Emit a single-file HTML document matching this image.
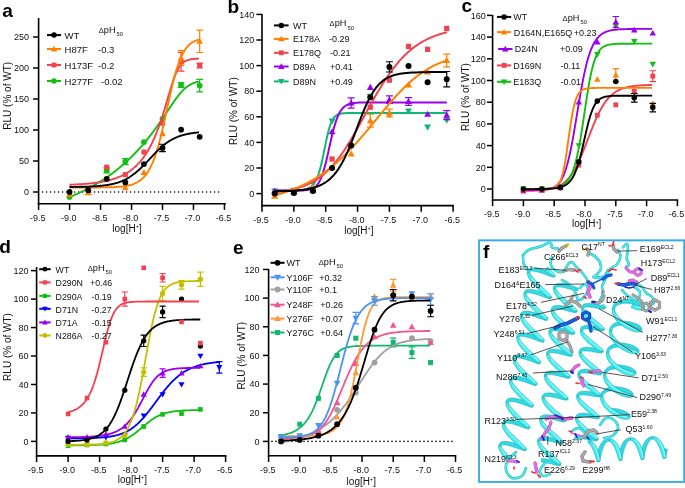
<!DOCTYPE html>
<html><head><meta charset="utf-8"><style>
html,body{margin:0;padding:0;background:#fff;width:685px;height:488px;overflow:hidden}
svg{display:block;filter:blur(0.3px)}
text{font-family:"Liberation Sans",sans-serif;fill:#111}
.p{stroke:none}
.t{font-size:9px}
.y{font-size:10px}
.x{font-size:10px}
.l{}
.p{font-size:19px;font-weight:bold;fill:#000}
.f{}
</style></head><body>
<svg width="685" height="488" viewBox="0 0 685 488">
<rect x="479.1" y="240.4" width="205.2" height="241.5" fill="#fff" stroke="#35aee8" stroke-width="1.6"/>
<path d="M554.4 274.7 L554.1 274.5 L553.5 274.2 L552.5 273.7 L551.3 273.1 L549.9 272.4 L548.3 271.6 L546.5 270.9 L544.5 270.1 L542.5 269.4 L540.5 268.8 L538.5 268.3 L536.5 267.9 L534.6 267.7 L532.9 267.7 L531.3 267.9 L529.9 268.3 L528.6 269.1 L527.8 270.2 L527.4 271.5 L527.2 272.7 L529.8 272.8 L529.7 271.9 L530 271.5 L530.3 271.3 L530.9 271.2 L531.7 271.1 L532.9 271.1 L534.3 271.3 L535.8 271.6 L537.6 272 L539.4 272.6 L541.3 273.1 L543.2 273.8 L545.1 274.4 L546.9 275.1 L548.5 275.7 L550 276.2 L551.3 276.7 L552.3 277 L553.2 277.2 L553.8 277.2Z" fill="#30dbe2" stroke="#1fa3ae" stroke-width="0.5"/>
<path d="M550.8 296.4 L550.5 296.2 L549.8 295.8 L548.9 295.3 L547.7 294.7 L546.2 294 L544.6 293.3 L542.8 292.5 L540.8 291.8 L538.8 291.1 L536.8 290.5 L534.8 290 L532.8 289.6 L531 289.4 L529.2 289.4 L527.6 289.6 L526.2 290 L525 290.8 L524.2 291.9 L523.9 293.1 L526.1 293.8 L526.4 293.3 L526.7 293.1 L527.3 292.9 L528.1 292.8 L529.2 292.8 L530.6 293 L532.2 293.3 L533.9 293.7 L535.7 294.2 L537.6 294.8 L539.6 295.5 L541.4 296.1 L543.2 296.8 L544.9 297.4 L546.3 297.9 L547.6 298.3 L548.7 298.7 L549.6 298.9 L550.1 298.9Z" fill="#30dbe2" stroke="#1fa3ae" stroke-width="0.5"/>
<path d="M546.8 318.2 L547 318.1 L546.9 317.9 L546.2 317.5 L545.2 317 L544 316.4 L542.6 315.7 L540.9 315 L539.1 314.2 L537.2 313.5 L535.1 312.8 L533.1 312.2 L531.1 311.7 L529.1 311.3 L527.3 311.1 L525.5 311.1 L524 311.3 L522.5 311.8 L521.4 312.6 L520.5 313.7 L520.3 314.8 L522.5 315.6 L522.8 315 L523.1 314.8 L523.6 314.6 L524.5 314.5 L525.6 314.5 L526.9 314.7 L528.5 315 L530.2 315.4 L532.1 315.9 L534 316.5 L535.9 317.1 L537.7 317.8 L539.5 318.4 L541.2 319 L542.7 319.6 L544 320 L545.1 320.4 L545.9 320.6 L546.7 320.6 L547.3 320.5Z" fill="#30dbe2" stroke="#1fa3ae" stroke-width="0.5"/>
<path d="M543.3 339.9 L543.5 339.8 L543.2 339.6 L542.6 339.2 L541.6 338.7 L540.4 338.1 L538.9 337.4 L537.2 336.6 L535.4 335.9 L533.5 335.1 L531.5 334.5 L529.4 333.8 L527.4 333.4 L525.5 333 L523.6 332.8 L521.9 332.8 L520.3 333 L518.9 333.5 L517.7 334.3 L516.9 335.5 L516.7 336.6 L518.9 337.3 L519.2 336.7 L519.5 336.5 L520 336.3 L520.8 336.2 L521.9 336.2 L523.3 336.4 L524.8 336.7 L526.5 337.1 L528.4 337.6 L530.3 338.2 L532.2 338.8 L534.1 339.5 L535.8 340.1 L537.5 340.7 L539 341.3 L540.3 341.7 L541.4 342.1 L542.3 342.3 L543.1 342.3 L543.7 342.2Z" fill="#30dbe2" stroke="#1fa3ae" stroke-width="0.5"/>
<path d="M539.8 361.6 L539.9 361.5 L539.6 361.3 L539 360.9 L538 360.4 L536.7 359.7 L535.2 359 L533.5 358.3 L531.7 357.5 L529.8 356.8 L527.8 356.1 L525.7 355.5 L523.7 355 L521.8 354.7 L519.9 354.5 L518.2 354.5 L516.6 354.8 L515.2 355.3 L514.1 356.1 L513.3 357.3 L513.1 358.4 L515.3 359.1 L515.6 358.4 L515.9 358.2 L516.4 358 L517.2 357.9 L518.3 357.9 L519.6 358.1 L521.2 358.4 L522.9 358.8 L524.7 359.3 L526.6 359.8 L528.5 360.5 L530.4 361.1 L532.2 361.8 L533.9 362.4 L535.4 362.9 L536.7 363.4 L537.8 363.7 L538.7 364 L539.5 364.1 L540 363.9Z" fill="#30dbe2" stroke="#1fa3ae" stroke-width="0.5"/>
<path d="M536.2 383.3 L536.3 383.2 L536 383 L535.3 382.6 L534.3 382 L533.1 381.4 L531.6 380.7 L529.9 380 L528 379.2 L526.1 378.5 L524.1 377.8 L522 377.2 L520 376.7 L518.1 376.4 L516.2 376.2 L514.5 376.2 L513 376.5 L511.6 377 L510.5 377.9 L509.7 379.1 L509.5 380.2 L511.8 380.8 L512 380.1 L512.3 379.9 L512.8 379.8 L513.6 379.7 L514.6 379.6 L515.9 379.8 L517.5 380 L519.2 380.4 L521 380.9 L522.9 381.5 L524.8 382.1 L526.7 382.8 L528.5 383.4 L530.2 384.1 L531.7 384.6 L533.1 385.1 L534.2 385.4 L535.1 385.7 L535.8 385.8 L536.4 385.6Z" fill="#30dbe2" stroke="#1fa3ae" stroke-width="0.5"/>
<path d="M532.7 405 L532.7 404.9 L532.4 404.6 L531.7 404.2 L530.7 403.7 L529.4 403.1 L527.9 402.4 L526.2 401.6 L524.3 400.9 L522.4 400.1 L520.4 399.5 L518.3 398.9 L516.3 398.4 L514.4 398.1 L512.6 397.9 L510.9 398 L509.3 398.2 L507.9 398.8 L506.8 399.6 L506.1 400.8 L505.9 402 L508.2 402.5 L508.4 401.9 L508.7 401.6 L509.2 401.5 L509.9 401.4 L511 401.4 L512.3 401.5 L513.8 401.7 L515.5 402.1 L517.3 402.6 L519.2 403.2 L521.1 403.8 L523 404.5 L524.8 405.1 L526.5 405.7 L528.1 406.3 L529.4 406.8 L530.5 407.1 L531.5 407.4 L532.2 407.5 L532.7 407.4Z" fill="#30dbe2" stroke="#1fa3ae" stroke-width="0.5"/>
<path d="M529.2 426.7 L529.2 426.6 L528.8 426.3 L528.1 425.9 L527 425.4 L525.7 424.7 L524.2 424 L522.5 423.3 L520.7 422.5 L518.7 421.8 L516.7 421.1 L514.7 420.6 L512.7 420.1 L510.7 419.8 L508.9 419.6 L507.2 419.7 L505.7 419.9 L504.3 420.5 L503.2 421.4 L502.5 422.6 L502.3 423.8 L504.6 424.3 L504.8 423.6 L505.1 423.4 L505.6 423.2 L506.3 423.1 L507.3 423.1 L508.6 423.2 L510.1 423.4 L511.8 423.8 L513.6 424.3 L515.5 424.9 L517.4 425.5 L519.3 426.1 L521.1 426.8 L522.8 427.4 L524.4 428 L525.8 428.4 L526.9 428.8 L527.8 429.1 L528.6 429.2 L529.1 429.1Z" fill="#30dbe2" stroke="#1fa3ae" stroke-width="0.5"/>
<path d="M525.6 448.4 L525.6 448.3 L525.2 448 L524.4 447.6 L523.4 447.1 L522.1 446.4 L520.5 445.7 L518.8 444.9 L517 444.2 L515 443.5 L513 442.8 L511 442.2 L509 441.8 L507 441.5 L505.2 441.3 L503.5 441.4 L502 441.7 L500.6 442.2 L499.6 443.2 L498.9 444.4 L498.7 445.5 L501.1 446 L501.2 445.3 L501.5 445.1 L502 444.9 L502.7 444.8 L503.7 444.8 L505 444.9 L506.5 445.1 L508.2 445.5 L510 446 L511.8 446.5 L513.8 447.2 L515.6 447.8 L517.5 448.5 L519.2 449.1 L520.7 449.6 L522.1 450.1 L523.3 450.5 L524.2 450.8 L525 450.9 L525.5 450.8Z" fill="#30dbe2" stroke="#1fa3ae" stroke-width="0.5"/>
<path d="M578.4 288.2 L578 288 L577.2 287.7 L576.2 287.3 L574.9 286.8 L573.5 286.3 L571.8 285.7 L570.1 285.1 L568.2 284.6 L566.3 284.2 L564.4 283.8 L562.5 283.6 L560.7 283.4 L559 283.5 L557.4 283.7 L556 284.1 L554.8 284.9 L553.9 285.9 L553.4 287.1 L553.3 288.2 L555.7 288.5 L555.8 287.8 L556.1 287.5 L556.5 287.3 L557.1 287.1 L558 287 L559.1 287 L560.5 287.1 L562 287.3 L563.7 287.6 L565.5 288 L567.3 288.4 L569 288.9 L570.8 289.3 L572.4 289.8 L573.9 290.2 L575.2 290.5 L576.3 290.7 L577.3 290.9 L577.9 290.9Z" fill="#30dbe2" stroke="#1fa3ae" stroke-width="0.5"/>
<path d="M576.1 310.2 L576 310.1 L575.6 309.9 L574.9 309.6 L573.8 309.1 L572.5 308.6 L571.1 308.1 L569.4 307.5 L567.6 307 L565.8 306.5 L563.8 306 L561.9 305.7 L560.1 305.4 L558.3 305.3 L556.6 305.4 L555 305.6 L553.6 306.1 L552.5 306.8 L551.6 307.8 L551.1 309.1 L551 310.2 L553.5 310.4 L553.5 309.7 L553.8 309.4 L554.1 309.2 L554.7 309 L555.6 308.9 L556.7 308.9 L558.1 309 L559.6 309.2 L561.3 309.5 L563 309.8 L564.8 310.3 L566.6 310.7 L568.3 311.2 L570 311.6 L571.5 312 L572.8 312.3 L574 312.6 L574.9 312.7 L575.7 312.8 L576.2 312.6Z" fill="#30dbe2" stroke="#1fa3ae" stroke-width="0.5"/>
<path d="M573.8 332.1 L573.7 332 L573.3 331.7 L572.5 331.4 L571.4 331 L570.1 330.5 L568.6 329.9 L567 329.4 L565.2 328.8 L563.3 328.3 L561.4 327.9 L559.5 327.5 L557.6 327.3 L555.8 327.2 L554.2 327.3 L552.6 327.5 L551.2 328 L550.1 328.8 L549.2 329.8 L548.8 331.1 L548.7 332.2 L551.2 332.4 L551.2 331.6 L551.5 331.3 L551.8 331.1 L552.4 330.9 L553.2 330.8 L554.3 330.8 L555.7 330.9 L557.2 331 L558.8 331.3 L560.6 331.7 L562.4 332.1 L564.2 332.5 L565.9 333 L567.6 333.4 L569.1 333.9 L570.4 334.2 L571.6 334.5 L572.5 334.6 L573.3 334.7 L573.9 334.5Z" fill="#30dbe2" stroke="#1fa3ae" stroke-width="0.5"/>
<path d="M571.6 353.9 L571.4 353.8 L570.9 353.6 L570.1 353.3 L569.1 352.8 L567.7 352.3 L566.2 351.8 L564.5 351.2 L562.7 350.7 L560.9 350.2 L558.9 349.7 L557 349.4 L555.2 349.2 L553.4 349.1 L551.7 349.2 L550.2 349.4 L548.9 349.9 L547.7 350.7 L546.9 351.8 L546.5 353.1 L546.4 354.2 L548.9 354.3 L548.9 353.5 L549.1 353.2 L549.5 353 L550 352.8 L550.8 352.7 L551.9 352.7 L553.3 352.7 L554.8 352.9 L556.4 353.2 L558.2 353.5 L559.9 353.9 L561.7 354.4 L563.5 354.8 L565.1 355.3 L566.7 355.7 L568 356 L569.2 356.3 L570.2 356.5 L571 356.5 L571.5 356.4Z" fill="#30dbe2" stroke="#1fa3ae" stroke-width="0.5"/>
<path d="M569.3 375.8 L569.1 375.7 L568.6 375.5 L567.8 375.1 L566.7 374.7 L565.3 374.1 L563.8 373.6 L562.1 373 L560.3 372.5 L558.4 372 L556.5 371.6 L554.6 371.2 L552.7 371 L551 371 L549.3 371.1 L547.8 371.4 L546.5 371.9 L545.3 372.7 L544.6 373.8 L544.2 375.1 L544.1 376.2 L546.7 376.2 L546.6 375.4 L546.8 375.1 L547.2 374.9 L547.7 374.7 L548.5 374.6 L549.5 374.5 L550.9 374.6 L552.3 374.8 L554 375 L555.7 375.4 L557.5 375.8 L559.3 376.2 L561 376.7 L562.7 377.1 L564.3 377.5 L565.6 377.9 L566.8 378.2 L567.8 378.4 L568.6 378.4 L569.2 378.3Z" fill="#30dbe2" stroke="#1fa3ae" stroke-width="0.5"/>
<path d="M567 397.7 L566.8 397.6 L566.3 397.3 L565.4 396.9 L564.3 396.5 L562.9 396 L561.4 395.4 L559.7 394.9 L557.9 394.3 L556 393.8 L554.1 393.4 L552.1 393.1 L550.3 392.9 L548.5 392.9 L546.9 393 L545.4 393.3 L544.1 393.8 L543 394.6 L542.2 395.8 L541.9 397.1 L541.9 398.2 L544.4 398.2 L544.3 397.4 L544.5 397 L544.8 396.8 L545.3 396.6 L546.1 396.5 L547.2 396.4 L548.4 396.5 L549.9 396.6 L551.6 396.9 L553.3 397.2 L555.1 397.6 L556.9 398.1 L558.6 398.5 L560.3 399 L561.8 399.4 L563.2 399.8 L564.5 400 L565.5 400.2 L566.3 400.3 L566.9 400.2Z" fill="#30dbe2" stroke="#1fa3ae" stroke-width="0.5"/>
<path d="M564.8 419.6 L564.5 419.4 L563.9 419.2 L563 418.8 L561.9 418.3 L560.5 417.8 L559 417.3 L557.2 416.7 L555.4 416.2 L553.5 415.7 L551.6 415.3 L549.7 415 L547.9 414.8 L546.1 414.7 L544.5 414.9 L543 415.2 L541.7 415.8 L540.6 416.6 L539.9 417.8 L539.7 418.9 L542 419.5 L542.2 418.9 L542.5 418.7 L543 418.5 L543.8 418.4 L544.8 418.3 L546 418.3 L547.5 418.5 L549.1 418.7 L550.9 419.1 L552.6 419.5 L554.4 419.9 L556.2 420.4 L557.9 420.8 L559.4 421.2 L560.8 421.6 L562.1 421.9 L563.1 422.1 L563.9 422.2 L564.5 422.1Z" fill="#30dbe2" stroke="#1fa3ae" stroke-width="0.5"/>
<path d="M562 441.6 L562.3 441.4 L562.2 441.3 L561.6 441 L560.7 440.6 L559.5 440.2 L558.1 439.6 L556.5 439.1 L554.8 438.5 L553 438 L551.1 437.5 L549.2 437.1 L547.3 436.8 L545.4 436.6 L543.7 436.6 L542.1 436.8 L540.6 437.1 L539.3 437.7 L538.2 438.6 L537.6 439.8 L537.4 440.9 L539.7 441.4 L539.9 440.8 L540.2 440.6 L540.7 440.4 L541.4 440.2 L542.4 440.2 L543.6 440.2 L545.1 440.4 L546.7 440.6 L548.4 440.9 L550.2 441.3 L552 441.8 L553.8 442.2 L555.4 442.7 L557 443.1 L558.5 443.5 L559.7 443.8 L560.7 444 L561.6 444.1 L562.4 444 L563 443.7Z" fill="#30dbe2" stroke="#1fa3ae" stroke-width="0.5"/>
<path d="M559.8 463.4 L560 463.3 L559.8 463.1 L559.2 462.9 L558.3 462.5 L557.1 462 L555.7 461.5 L554.1 460.9 L552.4 460.4 L550.5 459.8 L548.6 459.4 L546.7 459 L544.8 458.7 L543 458.5 L541.3 458.5 L541.2 462.1 L542.7 462.2 L544.3 462.5 L546 462.8 L547.8 463.2 L549.6 463.6 L551.3 464.1 L553 464.5 L554.6 464.9 L556.1 465.3 L557.3 465.6 L558.4 465.8 L559.2 465.9 L560 465.9 L560.6 465.6Z" fill="#30dbe2" stroke="#1fa3ae" stroke-width="0.5"/>
<path d="M604.3 306.4 L604.2 306.4 L603.8 306.2 L603.1 306 L602.1 305.6 L600.9 305.3 L599.4 304.9 L597.9 304.5 L596.2 304.1 L594.5 303.8 L592.7 303.5 L590.9 303.4 L589.2 303.3 L587.5 303.4 L586 303.6 L584.6 303.9 L583.4 304.5 L582.3 305.4 L581.6 306.5 L581.4 307.7 L581.3 308.8 L583.8 308.8 L583.7 308 L584 307.7 L584.3 307.5 L584.8 307.3 L585.5 307.1 L586.5 307 L587.7 307 L589.1 307 L590.6 307.2 L592.2 307.4 L593.8 307.6 L595.5 307.9 L597.1 308.2 L598.6 308.5 L600.1 308.8 L601.3 309 L602.4 309.1 L603.4 309.2 L604.2 309.1 L604.7 308.9Z" fill="#30dbe2" stroke="#1fa3ae" stroke-width="0.5"/>
<path d="M603.1 328.4 L603 328.3 L602.6 328.2 L601.9 327.9 L600.9 327.6 L599.6 327.2 L598.2 326.9 L596.7 326.5 L595 326.1 L593.2 325.8 L591.5 325.5 L589.7 325.3 L588 325.3 L586.3 325.3 L584.8 325.5 L583.4 325.9 L582.1 326.5 L581.1 327.3 L580.4 328.4 L580.2 329.7 L580.1 330.8 L582.6 330.8 L582.5 330 L582.8 329.7 L583.1 329.5 L583.6 329.3 L584.3 329.1 L585.3 329 L586.5 329 L587.9 329 L589.4 329.1 L591 329.4 L592.6 329.6 L594.3 329.9 L595.9 330.2 L597.4 330.5 L598.8 330.7 L600.1 330.9 L601.2 331.1 L602.2 331.1 L603 331.1 L603.5 330.9Z" fill="#30dbe2" stroke="#1fa3ae" stroke-width="0.5"/>
<path d="M601.9 350.4 L601.8 350.3 L601.4 350.1 L600.6 349.9 L599.6 349.6 L598.4 349.2 L597 348.8 L595.4 348.4 L593.8 348 L592 347.7 L590.2 347.5 L588.5 347.3 L586.7 347.2 L585.1 347.3 L583.6 347.5 L582.2 347.9 L580.9 348.5 L579.9 349.3 L579.2 350.4 L578.9 351.7 L578.9 352.8 L581.4 352.7 L581.3 352 L581.6 351.6 L581.9 351.4 L582.4 351.2 L583.1 351.1 L584.1 350.9 L585.3 350.9 L586.6 351 L588.1 351.1 L589.7 351.3 L591.4 351.6 L593 351.9 L594.7 352.1 L596.2 352.4 L597.6 352.7 L598.9 352.9 L600 353 L600.9 353.1 L601.7 353 L602.3 352.9Z" fill="#30dbe2" stroke="#1fa3ae" stroke-width="0.5"/>
<path d="M600.7 372.3 L600.6 372.3 L600.2 372.1 L599.4 371.9 L598.4 371.5 L597.2 371.2 L595.8 370.8 L594.2 370.4 L592.5 370 L590.8 369.7 L589 369.4 L587.3 369.3 L585.5 369.2 L583.9 369.3 L582.3 369.5 L580.9 369.8 L579.7 370.4 L578.7 371.3 L578 372.4 L577.7 373.6 L577.7 374.7 L580.2 374.7 L580.1 373.9 L580.3 373.6 L580.7 373.4 L581.1 373.2 L581.9 373 L582.8 372.9 L584 372.9 L585.4 372.9 L586.9 373.1 L588.5 373.3 L590.2 373.5 L591.8 373.8 L593.4 374.1 L595 374.4 L596.4 374.6 L597.7 374.9 L598.8 375 L599.7 375.1 L600.5 375 L601.1 374.8Z" fill="#30dbe2" stroke="#1fa3ae" stroke-width="0.5"/>
<path d="M599.5 394.3 L599.3 394.2 L598.9 394.1 L598.2 393.8 L597.2 393.5 L596 393.1 L594.6 392.7 L593 392.4 L591.3 392 L589.6 391.7 L587.8 391.4 L586 391.2 L584.3 391.2 L582.7 391.2 L581.1 391.4 L579.7 391.8 L578.5 392.4 L577.5 393.3 L576.8 394.4 L576.5 395.6 L576.5 396.7 L579 396.7 L578.9 395.9 L579.1 395.6 L579.4 395.4 L579.9 395.2 L580.7 395 L581.6 394.9 L582.8 394.9 L584.2 394.9 L585.7 395 L587.3 395.2 L588.9 395.5 L590.6 395.8 L592.2 396.1 L593.8 396.4 L595.2 396.6 L596.5 396.8 L597.6 397 L598.5 397 L599.3 397 L599.9 396.8Z" fill="#30dbe2" stroke="#1fa3ae" stroke-width="0.5"/>
<path d="M598.3 416.3 L598.1 416.2 L597.7 416 L597 415.8 L596 415.5 L594.8 415.1 L593.3 414.7 L591.8 414.3 L590.1 413.9 L588.4 413.6 L586.6 413.4 L584.8 413.2 L583.1 413.1 L581.4 413.2 L579.9 413.4 L578.5 413.8 L577.3 414.4 L576.3 415.2 L575.6 416.3 L575.3 417.6 L575.3 418.7 L577.8 418.6 L577.7 417.9 L577.9 417.5 L578.2 417.3 L578.7 417.1 L579.4 417 L580.4 416.8 L581.6 416.8 L583 416.9 L584.5 417 L586.1 417.2 L587.7 417.5 L589.4 417.7 L591 418 L592.5 418.3 L594 418.6 L595.2 418.8 L596.4 418.9 L597.3 419 L598.1 418.9 L598.6 418.8Z" fill="#30dbe2" stroke="#1fa3ae" stroke-width="0.5"/>
<path d="M597.1 438.2 L596.9 438.1 L596.5 438 L595.8 437.7 L594.8 437.4 L593.5 437.1 L592.1 436.7 L590.6 436.3 L588.9 435.9 L587.1 435.6 L585.4 435.3 L583.6 435.2 L581.9 435.1 L580.2 435.2 L578.7 435.4 L577.3 435.8 L576.1 436.4 L575 437.2 L574.3 438.3 L574.1 439.4 L576.4 440.1 L576.7 439.5 L577 439.3 L577.5 439.1 L578.2 438.9 L579.2 438.8 L580.4 438.8 L581.7 438.8 L583.3 439 L584.9 439.2 L586.5 439.4 L588.2 439.7 L589.8 440 L591.3 440.3 L592.7 440.5 L594 440.8 L595.1 440.9 L596.1 441 L596.9 440.9 L597.4 440.7Z" fill="#30dbe2" stroke="#1fa3ae" stroke-width="0.5"/>
<path d="M645 307.2 L644.8 306.3 L644.1 305.3 L643.1 304.3 L641.7 303.4 L640.1 302.5 L638.3 301.6 L636.2 300.9 L633.9 300.3 L631.5 299.8 L629 299.5 L626.5 299.4 L624.1 299.6 L621.7 299.9 L619.5 300.5 L617.5 301.4 L615.7 302.5 L614.2 303.9 L613.1 305.5 L612.5 307.2 L612.2 309 L614.6 309.4 L614.9 308 L615.5 306.9 L616.4 305.9 L617.5 305.1 L618.9 304.5 L620.5 303.9 L622.4 303.6 L624.4 303.3 L626.5 303.3 L628.7 303.4 L630.9 303.7 L633.1 304 L635.1 304.5 L637 305 L638.7 305.6 L640.1 306.3 L641.3 306.8 L642.1 307.3 L642.5 307.7 L642.7 308Z" fill="#30dbe2" stroke="#1fa3ae" stroke-width="0.5"/>
<path d="M642.1 328.9 L641.8 328.1 L641.1 327 L640.1 326.1 L638.8 325.1 L637.2 324.2 L635.3 323.4 L633.2 322.7 L630.9 322.1 L628.5 321.6 L626.1 321.3 L623.6 321.2 L621.1 321.4 L618.7 321.7 L616.5 322.3 L614.5 323.2 L612.7 324.3 L611.3 325.7 L610.2 327.3 L609.6 329.1 L609.3 330.8 L611.7 331.2 L612 329.8 L612.6 328.7 L613.4 327.8 L614.6 327 L616 326.3 L617.6 325.7 L619.4 325.4 L621.4 325.2 L623.6 325.1 L625.8 325.2 L628 325.5 L630.1 325.8 L632.2 326.3 L634.1 326.8 L635.8 327.4 L637.2 328 L638.3 328.6 L639.1 329.1 L639.6 329.5 L639.8 329.8Z" fill="#30dbe2" stroke="#1fa3ae" stroke-width="0.5"/>
<path d="M639.2 350.7 L638.9 349.9 L638.2 348.8 L637.2 347.9 L635.9 346.9 L634.2 346 L632.4 345.2 L630.3 344.5 L628 343.9 L625.6 343.4 L623.1 343.1 L620.6 343 L618.2 343.2 L615.8 343.6 L613.6 344.2 L611.6 345 L609.8 346.2 L608.4 347.5 L607.3 349.1 L606.6 350.9 L606.4 352.6 L608.8 353.1 L609 351.6 L609.7 350.5 L610.5 349.6 L611.6 348.8 L613 348.1 L614.6 347.6 L616.5 347.2 L618.5 347 L620.6 346.9 L622.8 347 L625 347.3 L627.2 347.6 L629.2 348.1 L631.1 348.6 L632.8 349.2 L634.3 349.8 L635.4 350.4 L636.2 350.9 L636.7 351.3 L636.9 351.6Z" fill="#30dbe2" stroke="#1fa3ae" stroke-width="0.5"/>
<path d="M636.2 372.5 L636 371.6 L635.3 370.6 L634.3 369.7 L632.9 368.7 L631.3 367.8 L629.4 367 L627.3 366.3 L625 365.7 L622.6 365.2 L620.1 364.9 L617.7 364.8 L615.2 365 L612.8 365.4 L610.6 366 L608.6 366.9 L606.9 368 L605.4 369.4 L604.4 371 L603.7 372.8 L603.5 374.5 L605.9 374.9 L606.1 373.5 L606.7 372.4 L607.6 371.4 L608.7 370.6 L610.1 369.9 L611.7 369.4 L613.5 369 L615.5 368.8 L617.7 368.7 L619.9 368.8 L622.1 369.1 L624.2 369.4 L626.3 369.9 L628.2 370.4 L629.9 371 L631.3 371.6 L632.5 372.2 L633.3 372.7 L633.8 373.1 L634 373.4Z" fill="#30dbe2" stroke="#1fa3ae" stroke-width="0.5"/>
<path d="M633.3 394.3 L633.1 393.4 L632.4 392.4 L631.3 391.4 L630 390.5 L628.3 389.6 L626.5 388.8 L624.3 388.1 L622.1 387.5 L619.7 387 L617.2 386.7 L614.7 386.7 L612.2 386.8 L609.9 387.2 L607.7 387.8 L605.7 388.7 L603.9 389.8 L602.5 391.2 L601.4 392.8 L600.8 394.6 L600.6 396.3 L603 396.7 L603.2 395.3 L603.8 394.2 L604.7 393.2 L605.8 392.4 L607.1 391.7 L608.8 391.2 L610.6 390.8 L612.6 390.6 L614.7 390.5 L616.9 390.6 L619.1 390.9 L621.3 391.2 L623.3 391.7 L625.2 392.2 L626.9 392.8 L628.4 393.4 L629.6 394 L630.4 394.5 L630.8 394.9 L631.1 395.2Z" fill="#30dbe2" stroke="#1fa3ae" stroke-width="0.5"/>
<path d="M630.4 416.1 L630.2 415.2 L629.4 414.2 L628.4 413.2 L627 412.3 L625.4 411.4 L623.5 410.6 L621.4 409.8 L619.1 409.2 L616.7 408.8 L614.2 408.5 L611.8 408.5 L611.7 412.3 L614 412.4 L616.2 412.7 L618.3 413 L620.4 413.5 L622.3 414 L624 414.6 L625.5 415.2 L626.6 415.8 L627.5 416.3 L627.9 416.7 L628.2 417Z" fill="#30dbe2" stroke="#1fa3ae" stroke-width="0.5"/>
<path d="M599.8 461.4 L599.9 461.1 L600 460.5 L600.2 459.7 L600.3 458.7 L600.5 457.5 L600.8 456.1 L601.1 454.7 L601.4 453.1 L601.9 451.6 L602.3 450 L602.9 448.4 L603.4 447 L604.1 445.6 L604.8 444.4 L605.5 443.4 L606.2 442.5 L606.9 441.9 L607.7 441.4 L608.5 441.2 L609.4 441.3 L609.6 438.8 L608.3 438.8 L606.9 438.9 L605.6 439.4 L604.3 440.1 L603 441.2 L601.9 442.4 L600.9 443.8 L600.1 445.4 L599.3 447 L598.6 448.8 L598.1 450.5 L597.7 452.3 L597.3 454 L597.1 455.6 L597 457.1 L596.9 458.4 L596.9 459.5 L597 460.4 L597.1 461 L597.2 461.4Z" fill="#30dbe2" stroke="#1fa3ae" stroke-width="0.5"/>
<path d="M621.6 460.4 L621.8 460.3 L621.9 459.9 L622 459.3 L622.2 458.5 L622.3 457.5 L622.5 456.2 L622.8 454.9 L623.1 453.4 L623.5 451.9 L623.9 450.3 L624.4 448.7 L624.9 447.2 L625.5 445.7 L626.1 444.4 L626.8 443.2 L627.5 442.2 L628.3 441.3 L629 440.7 L629.7 440.3 L630.7 440.1 L630.3 437.7 L629.1 437.8 L627.7 438.2 L626.4 439 L625.2 439.9 L624 441.1 L623 442.5 L622.1 444.1 L621.4 445.7 L620.7 447.5 L620.1 449.2 L619.7 451 L619.3 452.7 L619.1 454.3 L619 455.8 L618.9 457.1 L618.9 458.3 L619 459.2 L619.1 459.9 L619.2 460.3 L619.3 460.4Z" fill="#30dbe2" stroke="#1fa3ae" stroke-width="0.5"/>
<path d="M643.6 459.3 L643.8 459.2 L643.9 458.8 L644 458.1 L644.2 457.3 L644.3 456.2 L644.6 455 L644.8 453.6 L645.1 452.1 L645.5 450.6 L645.9 449 L646.4 447.4 L646.9 445.9 L647.5 444.4 L648.2 443.1 L648.9 442 L649.6 441 L650.3 440.2 L651.1 439.6 L651.8 439.2 L652.8 439 L652.5 436.6 L651.2 436.7 L649.8 437.1 L648.5 437.8 L647.3 438.7 L646.2 439.9 L645.1 441.3 L644.2 442.8 L643.4 444.4 L642.7 446.2 L642.2 447.9 L641.7 449.7 L641.4 451.4 L641.1 453 L641 454.5 L640.9 455.9 L640.9 457.1 L640.9 458 L641 458.7 L641.1 459.1 L641.3 459.3Z" fill="#30dbe2" stroke="#1fa3ae" stroke-width="0.5"/>
<path d="M665.6 458.2 L665.7 458 L665.9 457.6 L666 457 L666.2 456.1 L666.3 455 L666.6 453.8 L666.8 452.4 L667.1 450.9 L667.5 449.3 L663.7 448.4 L663.4 450.1 L663.1 451.8 L662.9 453.3 L662.9 454.7 L662.9 455.8 L662.9 456.8 L663 457.5 L663.1 458 L663.2 458.2Z" fill="#30dbe2" stroke="#1fa3ae" stroke-width="0.5"/>
<path d="M544.7 270.3 L546.4 271.7 L548.1 273 L549.5 274.1 L550.8 275.1 L551.9 275.8 L552.6 276.2 L553.1 276.5 L553.1 275.9 L553.6 274.8 L554.6 277.1 L555.3 275.9 L555.1 274.8 L554.6 274.1 L554 273.3 L553.1 272.4 L552 271.3 L550.7 270 L549.2 268.6 L547.6 267.1Z" fill="#3ef0f2" stroke="#1fa3ae" stroke-width="0.6"/><path d="M549.8 271 L551.2 272.2 L552.4 273.2 L553.3 274.1 L554 274.8 L554.4 275.3" stroke="#a8f6f8" stroke-width="1.1" fill="none" stroke-linecap="round" opacity="0.85"/>
<path d="M527.3 273 L527.4 274.4 L527.9 276 L528.7 277.7 L529.7 279.5 L531 281.3 L532.4 283.2 L534 285.1 L535.8 287 L537.6 288.8 L539.4 290.5 L541.2 292.1 L542.9 293.5 L544.6 294.8 L546 295.9 L547.3 296.8 L548.3 297.5 L549.1 298 L549.5 298.2 L549.5 297.5 L550.1 296.4 L550.9 298.9 L551.7 297.7 L551.5 296.5 L551.1 295.9 L550.4 295.1 L549.6 294.1 L548.5 293 L547.2 291.8 L545.7 290.4 L544.1 288.9 L542.4 287.3 L540.6 285.6 L538.9 283.9 L537.2 282.2 L535.6 280.5 L534.1 278.9 L532.8 277.3 L531.7 275.9 L530.8 274.6 L530.2 273.5 L529.8 272.4Z" fill="#3ef0f2" stroke="#1fa3ae" stroke-width="0.6"/><path d="M531.8 278 L533.1 279.6 L534.6 281.4 L536.2 283.1 L537.9 284.9 L539.7 286.6 L541.4 288.3 L543.2 289.9 L544.8 291.4 L546.3 292.7 L547.7 294 L548.8 295 L549.8 295.9" stroke="#a8f6f8" stroke-width="1.1" fill="none" stroke-linecap="round" opacity="0.85"/>
<path d="M523.9 293.4 L523.7 294.6 L523.9 296.2 L524.4 297.8 L525.2 299.5 L526.2 301.3 L527.5 303.1 L528.9 305 L530.6 306.9 L532.3 308.8 L534.1 310.6 L535.9 312.3 L537.7 313.8 L539.4 315.3 L541.1 316.6 L542.5 317.7 L543.8 318.6 L544.8 319.2 L545.5 319.7 L545.9 319.9 L546.1 319.8 L548 318.8 L547.9 318.3 L547.5 317.6 L546.9 316.8 L546 315.9 L545 314.8 L543.7 313.6 L542.2 312.2 L540.6 310.7 L538.9 309.1 L537.1 307.4 L535.4 305.7 L533.7 304 L532.1 302.3 L530.6 300.6 L529.3 299.1 L528.1 297.7 L527.3 296.4 L526.6 295.2 L526.2 294.3 L526.1 293.5Z" fill="#3ef0f2" stroke="#1fa3ae" stroke-width="0.6"/><path d="M527.2 298.2 L528.3 299.8 L529.6 301.4 L531.1 303.2 L532.7 304.9 L534.4 306.7 L536.2 308.4 L537.9 310.1 L539.7 311.7 L541.3 313.2 L542.8 314.5 L544.2 315.7 L545.3 316.8" stroke="#a8f6f8" stroke-width="1.1" fill="none" stroke-linecap="round" opacity="0.85"/>
<path d="M520.3 315.2 L520.1 316.4 L520.3 317.9 L520.8 319.6 L521.6 321.3 L522.7 323.1 L524 324.9 L525.4 326.8 L527.1 328.7 L528.8 330.6 L530.6 332.4 L532.4 334.1 L534.2 335.6 L536 337.1 L537.6 338.3 L539 339.4 L540.3 340.3 L541.3 341 L542 341.4 L542.4 341.6 L542.5 341.5 L544.5 340.6 L544.4 340 L544 339.4 L543.4 338.6 L542.5 337.7 L541.4 336.6 L540.2 335.3 L538.7 334 L537.1 332.4 L535.4 330.9 L533.7 329.2 L531.9 327.5 L530.2 325.8 L528.6 324.1 L527.1 322.4 L525.7 320.9 L524.6 319.4 L523.7 318.1 L523.1 317 L522.7 316.1 L522.5 315.2Z" fill="#3ef0f2" stroke="#1fa3ae" stroke-width="0.6"/><path d="M523.7 320 L524.8 321.6 L526.1 323.2 L527.6 325 L529.2 326.7 L530.9 328.5 L532.7 330.2 L534.5 331.9 L536.2 333.5 L537.8 335 L539.3 336.3 L540.7 337.5 L541.8 338.5" stroke="#a8f6f8" stroke-width="1.1" fill="none" stroke-linecap="round" opacity="0.85"/>
<path d="M516.7 337 L516.5 338.2 L516.8 339.7 L517.3 341.4 L518.1 343.1 L519.2 344.9 L520.5 346.8 L521.9 348.6 L523.6 350.5 L525.3 352.4 L527.1 354.2 L529 355.9 L530.8 357.4 L532.5 358.9 L534.1 360.1 L535.5 361.2 L536.7 362.1 L537.7 362.7 L538.4 363.1 L538.8 363.3 L538.8 363.2 L540.9 362.3 L540.8 361.8 L540.4 361.1 L539.8 360.4 L539 359.4 L537.9 358.4 L536.6 357.1 L535.2 355.7 L533.6 354.2 L531.9 352.6 L530.2 351 L528.4 349.3 L526.7 347.6 L525.1 345.9 L523.6 344.2 L522.2 342.7 L521.1 341.2 L520.2 339.9 L519.5 338.8 L519.1 337.8 L518.9 336.9Z" fill="#3ef0f2" stroke="#1fa3ae" stroke-width="0.6"/><path d="M520.1 341.8 L521.3 343.4 L522.6 345 L524.1 346.8 L525.7 348.5 L527.4 350.3 L529.2 352 L531 353.7 L532.7 355.3 L534.3 356.7 L535.8 358.1 L537.1 359.3 L538.3 360.3" stroke="#a8f6f8" stroke-width="1.1" fill="none" stroke-linecap="round" opacity="0.85"/>
<path d="M513.1 358.8 L513 360 L513.2 361.5 L513.7 363.2 L514.6 364.9 L515.7 366.7 L517 368.6 L518.5 370.5 L520.1 372.3 L521.8 374.2 L523.7 376 L525.5 377.7 L527.3 379.2 L529 380.6 L530.6 381.9 L532 382.9 L533.2 383.8 L534.2 384.5 L534.9 384.9 L535.2 385 L535.2 384.8 L537.4 384.1 L537.2 383.5 L536.9 382.9 L536.3 382.1 L535.5 381.2 L534.4 380.1 L533.1 378.9 L531.7 377.5 L530.1 376 L528.4 374.4 L526.7 372.8 L524.9 371.1 L523.2 369.4 L521.6 367.7 L520.1 366 L518.7 364.5 L517.6 363 L516.6 361.7 L516 360.5 L515.5 359.6 L515.3 358.7Z" fill="#3ef0f2" stroke="#1fa3ae" stroke-width="0.6"/><path d="M516.6 363.6 L517.7 365.2 L519.1 366.8 L520.6 368.6 L522.2 370.3 L524 372.1 L525.7 373.8 L527.5 375.5 L529.2 377.1 L530.8 378.5 L532.3 379.9 L533.6 381 L534.7 382" stroke="#a8f6f8" stroke-width="1.1" fill="none" stroke-linecap="round" opacity="0.85"/>
<path d="M509.5 380.6 L509.4 381.8 L509.6 383.3 L510.2 385 L511 386.7 L512.1 388.5 L513.5 390.4 L515 392.3 L516.6 394.1 L518.4 396 L520.2 397.8 L522 399.4 L523.8 401 L525.5 402.4 L527.1 403.7 L528.5 404.7 L529.7 405.6 L530.7 406.2 L531.3 406.6 L531.7 406.7 L531.6 406.5 L533.8 405.9 L533.7 405.3 L533.3 404.6 L532.7 403.9 L531.9 403 L530.9 401.9 L529.6 400.7 L528.2 399.3 L526.6 397.8 L524.9 396.2 L523.2 394.6 L521.5 392.9 L519.7 391.2 L518.1 389.5 L516.6 387.8 L515.2 386.3 L514 384.8 L513.1 383.5 L512.4 382.3 L512 381.3 L511.8 380.4Z" fill="#3ef0f2" stroke="#1fa3ae" stroke-width="0.6"/><path d="M513.1 385.4 L514.2 387 L515.6 388.6 L517.1 390.4 L518.7 392.1 L520.5 393.9 L522.2 395.6 L524 397.3 L525.7 398.8 L527.3 400.3 L528.8 401.6 L530.1 402.8 L531.2 403.8" stroke="#a8f6f8" stroke-width="1.1" fill="none" stroke-linecap="round" opacity="0.85"/>
<path d="M505.9 402.3 L505.8 403.6 L506.1 405.1 L506.7 406.8 L507.5 408.5 L508.6 410.3 L510 412.2 L511.5 414.1 L513.1 416 L514.9 417.8 L516.7 419.6 L518.5 421.2 L520.3 422.8 L522 424.2 L523.6 425.4 L525 426.5 L526.2 427.3 L527.1 427.9 L527.8 428.3 L528.1 428.4 L528 428.1 L530.3 427.7 L530.1 427 L529.8 426.3 L529.2 425.6 L528.4 424.7 L527.4 423.7 L526.1 422.4 L524.7 421.1 L523.1 419.6 L521.5 418 L519.7 416.4 L518 414.7 L516.3 413 L514.6 411.3 L513.1 409.6 L511.7 408 L510.5 406.6 L509.6 405.2 L508.9 404.1 L508.4 403.1 L508.2 402.2Z" fill="#3ef0f2" stroke="#1fa3ae" stroke-width="0.6"/><path d="M509.6 407.2 L510.7 408.8 L512.1 410.4 L513.6 412.2 L515.3 413.9 L517 415.7 L518.8 417.4 L520.5 419.1 L522.2 420.6 L523.8 422.1 L525.3 423.4 L526.6 424.6 L527.7 425.5" stroke="#a8f6f8" stroke-width="1.1" fill="none" stroke-linecap="round" opacity="0.85"/>
<path d="M502.3 424.1 L502.2 425.4 L502.5 426.9 L503.1 428.6 L504 430.3 L505.1 432.1 L506.5 434 L508 435.9 L509.6 437.8 L511.4 439.6 L513.2 441.4 L515 443 L516.8 444.6 L518.5 446 L520.1 447.2 L521.5 448.2 L522.7 449 L523.6 449.7 L524.2 450 L524.5 450.1 L524.4 449.7 L526.7 449.5 L526.6 448.8 L526.2 448.1 L525.7 447.4 L524.9 446.5 L523.9 445.4 L522.6 444.2 L521.2 442.9 L519.6 441.4 L518 439.8 L516.2 438.2 L514.5 436.5 L512.8 434.8 L511.1 433.1 L509.6 431.4 L508.2 429.8 L507 428.4 L506 427 L505.3 425.8 L504.8 424.9 L504.6 423.9Z" fill="#3ef0f2" stroke="#1fa3ae" stroke-width="0.6"/><path d="M506 429 L507.2 430.6 L508.6 432.2 L510.1 434 L511.8 435.7 L513.5 437.5 L515.3 439.2 L517 440.9 L518.7 442.4 L520.3 443.9 L521.8 445.2 L523.1 446.3 L524.2 447.3" stroke="#a8f6f8" stroke-width="1.1" fill="none" stroke-linecap="round" opacity="0.85"/>
<path d="M498.7 445.9 L498.7 447.2 L499 448.7 L499.6 450.4 L500.5 452.1 L501.6 453.9 L503 455.8 L504.5 457.7 L506.2 459.6 L507.9 461.4 L511 458.3 L509.3 456.6 L507.6 454.9 L506.1 453.2 L504.7 451.6 L503.5 450.1 L502.5 448.8 L501.8 447.6 L501.3 446.6 L501 445.7Z" fill="#3ef0f2" stroke="#1fa3ae" stroke-width="0.6"/><path d="M500.9 448 L501.6 449.3 L502.5 450.8 L503.7 452.4 L505.1 454 L506.6 455.8" stroke="#a8f6f8" stroke-width="1.1" fill="none" stroke-linecap="round" opacity="0.85"/>
<path d="M553.3 288.6 L553.4 289.8 L553.8 291.3 L554.5 292.9 L555.4 294.5 L556.6 296.2 L557.9 297.9 L559.4 299.6 L561.1 301.3 L562.8 302.9 L564.6 304.4 L566.4 305.9 L568.1 307.3 L569.7 308.5 L571.2 309.5 L572.5 310.4 L573.6 311.1 L574.4 311.6 L575 311.9 L575.1 311.7 L575 311.2 L577.3 311.6 L577.3 310.8 L576.9 310 L576.4 309.3 L575.7 308.5 L574.7 307.5 L573.6 306.5 L572.2 305.3 L570.7 304 L569.1 302.6 L567.5 301.1 L565.8 299.6 L564.1 298.1 L562.4 296.6 L560.9 295.1 L559.5 293.7 L558.3 292.3 L557.3 291.1 L556.5 290 L556 289.1 L555.7 288.2Z" fill="#3ef0f2" stroke="#1fa3ae" stroke-width="0.6"/><path d="M557.4 293 L558.6 294.5 L560 296 L561.5 297.5 L563.1 299.1 L564.8 300.7 L566.5 302.2 L568.2 303.6 L569.9 305 L571.4 306.3 L572.8 307.4 L574 308.4 L575 309.3" stroke="#a8f6f8" stroke-width="1.1" fill="none" stroke-linecap="round" opacity="0.85"/>
<path d="M551.1 310.6 L551.1 311.8 L551.5 313.3 L552.2 314.9 L553.2 316.5 L554.4 318.2 L555.7 319.9 L557.3 321.6 L558.9 323.3 L560.7 324.9 L562.5 326.5 L564.2 327.9 L565.9 329.2 L567.5 330.4 L569 331.5 L570.3 332.3 L571.4 333 L572.2 333.5 L572.7 333.7 L572.8 333.6 L572.7 332.9 L575 333.7 L575 332.7 L574.7 331.9 L574.2 331.2 L573.5 330.4 L572.5 329.5 L571.4 328.4 L570.1 327.3 L568.6 326 L567 324.6 L565.3 323.1 L563.6 321.6 L561.9 320.1 L560.3 318.6 L558.8 317.1 L557.4 315.7 L556.1 314.3 L555.1 313.1 L554.3 312 L553.8 311 L553.4 310.1Z" fill="#3ef0f2" stroke="#1fa3ae" stroke-width="0.6"/><path d="M555.2 315 L556.4 316.5 L557.8 318 L559.3 319.6 L561 321.1 L562.7 322.7 L564.4 324.2 L566.1 325.7 L567.7 327 L569.3 328.3 L570.6 329.4 L571.8 330.4 L572.8 331.3" stroke="#a8f6f8" stroke-width="1.1" fill="none" stroke-linecap="round" opacity="0.85"/>
<path d="M548.8 332.5 L548.9 333.8 L549.3 335.3 L550 336.9 L551 338.5 L552.2 340.2 L553.6 341.9 L555.1 343.6 L556.8 345.3 L558.5 346.9 L560.3 348.5 L562.1 349.9 L563.8 351.2 L565.4 352.4 L566.8 353.4 L568.1 354.3 L569.2 354.9 L570 355.4 L570.4 355.6 L570.5 355.4 L570.5 354.6 L572.6 355.8 L572.7 354.7 L572.4 353.9 L571.9 353.2 L571.3 352.4 L570.3 351.5 L569.2 350.4 L567.9 349.2 L566.4 348 L564.8 346.6 L563.2 345.1 L561.5 343.6 L559.8 342.1 L558.1 340.6 L556.6 339.1 L555.2 337.7 L553.9 336.3 L552.9 335.1 L552.1 333.9 L551.5 333 L551.1 332Z" fill="#3ef0f2" stroke="#1fa3ae" stroke-width="0.6"/><path d="M553 337 L554.2 338.5 L555.6 340 L557.2 341.6 L558.8 343.1 L560.5 344.7 L562.3 346.2 L564 347.7 L565.6 349 L567.1 350.3 L568.5 351.4 L569.6 352.4 L570.6 353.2" stroke="#a8f6f8" stroke-width="1.1" fill="none" stroke-linecap="round" opacity="0.85"/>
<path d="M546.5 354.5 L546.6 355.8 L547.1 357.3 L547.8 358.9 L548.8 360.5 L550 362.2 L551.4 363.9 L553 365.6 L554.7 367.3 L556.4 368.9 L558.2 370.5 L559.9 371.9 L561.6 373.2 L563.2 374.4 L564.7 375.4 L565.9 376.2 L567 376.9 L567.7 377.3 L568.2 377.5 L568.2 377.2 L568.3 376.3 L570.2 377.8 L570.5 376.7 L570.2 375.8 L569.7 375.1 L569 374.3 L568.1 373.4 L567 372.4 L565.7 371.2 L564.3 370 L562.7 368.6 L561 367.1 L559.3 365.7 L557.6 364.1 L556 362.6 L554.4 361.1 L553 359.7 L551.8 358.3 L550.7 357 L549.9 355.9 L549.3 354.9 L548.9 354Z" fill="#3ef0f2" stroke="#1fa3ae" stroke-width="0.6"/><path d="M550.8 359 L552.1 360.5 L553.5 362 L555 363.6 L556.7 365.2 L558.4 366.7 L560.1 368.2 L561.8 369.7 L563.4 371 L564.9 372.2 L566.3 373.4 L567.4 374.3 L568.4 375.1" stroke="#a8f6f8" stroke-width="1.1" fill="none" stroke-linecap="round" opacity="0.85"/>
<path d="M544.2 376.5 L544.4 377.8 L544.8 379.3 L545.6 380.9 L546.6 382.6 L547.9 384.3 L549.3 386 L550.8 387.7 L552.5 389.3 L554.3 391 L556.1 392.5 L557.8 393.9 L559.5 395.2 L561.1 396.4 L562.5 397.3 L563.7 398.2 L564.8 398.8 L565.5 399.2 L565.9 399.4 L566 398.9 L566.1 398 L567.8 399.9 L568.2 398.8 L567.9 397.7 L567.5 397.1 L566.8 396.3 L565.9 395.4 L564.9 394.4 L563.6 393.2 L562.1 392 L560.6 390.6 L558.9 389.2 L557.2 387.7 L555.5 386.1 L553.9 384.6 L552.3 383.1 L550.8 381.7 L549.6 380.3 L548.5 379 L547.6 377.9 L547 376.9 L546.6 375.9Z" fill="#3ef0f2" stroke="#1fa3ae" stroke-width="0.6"/><path d="M548.6 381 L549.9 382.5 L551.3 384 L552.9 385.6 L554.6 387.2 L556.3 388.7 L558 390.2 L559.7 391.7 L561.3 393 L562.8 394.2 L564.1 395.3 L565.2 396.3 L566.2 397.1" stroke="#a8f6f8" stroke-width="1.1" fill="none" stroke-linecap="round" opacity="0.85"/>
<path d="M541.9 398.5 L542.1 399.8 L542.6 401.3 L543.4 402.9 L544.4 404.6 L545.7 406.3 L547.1 408 L548.7 409.7 L550.4 411.4 L552.1 413 L553.9 414.5 L555.7 415.9 L557.4 417.2 L558.9 418.3 L560.3 419.3 L561.6 420.1 L562.5 420.7 L563.3 421.1 L563.7 421.3 L563.7 420.7 L563.9 419.8 L565.4 421.9 L565.9 420.8 L565.7 419.7 L565.2 419 L564.6 418.2 L563.7 417.4 L562.7 416.3 L561.4 415.2 L560 413.9 L558.4 412.6 L556.8 411.2 L555.1 409.7 L553.4 408.2 L551.7 406.6 L550.1 405.1 L548.7 403.7 L547.4 402.3 L546.3 401 L545.4 399.9 L544.8 398.8 L544.4 397.9Z" fill="#3ef0f2" stroke="#1fa3ae" stroke-width="0.6"/><path d="M546.4 403 L547.7 404.5 L549.2 406.1 L550.7 407.6 L552.4 409.2 L554.1 410.7 L555.9 412.2 L557.5 413.7 L559.1 415 L560.6 416.2 L561.9 417.3 L563 418.2 L563.9 419" stroke="#a8f6f8" stroke-width="1.1" fill="none" stroke-linecap="round" opacity="0.85"/>
<path d="M539.7 419.2 L539.6 420.4 L539.8 421.8 L540.4 423.4 L541.2 425 L542.2 426.6 L543.5 428.3 L545 430 L546.6 431.7 L548.3 433.4 L550 435 L551.8 436.5 L553.5 437.9 L555.2 439.2 L556.8 440.3 L558.2 441.3 L559.4 442 L560.3 442.6 L561 443 L561.4 443.2 L561.5 443.1 L563.5 442.2 L563.4 441.6 L563 440.9 L562.4 440.2 L561.5 439.3 L560.5 438.3 L559.2 437.2 L557.8 435.9 L556.3 434.6 L554.6 433.2 L552.9 431.7 L551.2 430.2 L549.6 428.6 L548 427.1 L546.5 425.7 L545.2 424.3 L544.1 423 L543.2 421.8 L542.5 420.8 L542.1 420 L541.9 419.1Z" fill="#3ef0f2" stroke="#1fa3ae" stroke-width="0.6"/><path d="M543.2 423.6 L544.3 425 L545.6 426.5 L547 428.1 L548.6 429.6 L550.3 431.2 L552 432.7 L553.7 434.2 L555.4 435.6 L557 437 L558.4 438.2 L559.7 439.3 L560.8 440.2" stroke="#a8f6f8" stroke-width="1.1" fill="none" stroke-linecap="round" opacity="0.85"/>
<path d="M537.4 441.2 L537.3 442.4 L537.6 443.8 L538.2 445.4 L539 447 L540.1 448.6 L541.3 450.3 L542.8 452 L544.4 453.7 L546.1 455.4 L547.9 457 L549.7 458.5 L551.4 459.9 L553.1 461.2 L554.6 462.3 L556 463.2 L557.2 464 L558.1 464.6 L558.8 464.9 L559.1 465 L559.2 464.9 L561.3 464.1 L561.1 463.6 L560.7 462.9 L560.2 462.1 L559.3 461.3 L558.3 460.3 L557.1 459.2 L555.7 457.9 L554.1 456.6 L552.5 455.2 L550.8 453.7 L549.1 452.2 L547.4 450.7 L545.8 449.2 L544.3 447.7 L543 446.3 L541.9 445 L541 443.8 L540.3 442.8 L539.9 441.9 L539.6 441.1Z" fill="#3ef0f2" stroke="#1fa3ae" stroke-width="0.6"/><path d="M541 445.6 L542.1 447 L543.4 448.5 L544.9 450.1 L546.5 451.6 L548.1 453.2 L549.9 454.7 L551.6 456.2 L553.2 457.6 L554.8 459 L556.3 460.2 L557.6 461.2 L558.6 462.1" stroke="#a8f6f8" stroke-width="1.1" fill="none" stroke-linecap="round" opacity="0.85"/>
<path d="M601.2 306.9 L602.2 307.5 L603 307.9 L603.4 308.1 L603.5 307.8 L603.4 307.2 L605.7 308.1 L605.7 307.2 L605.4 306.3 L604.9 305.6 L604.3 304.9 L603.4 304Z" fill="#3ef0f2" stroke="#1fa3ae" stroke-width="0.6"/>
<path d="M581.4 309.1 L581.5 310.3 L582 311.7 L582.7 313.2 L583.7 314.7 L584.9 316.3 L586.2 317.8 L587.7 319.4 L589.3 320.9 L591 322.3 L592.7 323.7 L594.4 325 L596 326.2 L597.5 327.2 L598.8 328.1 L600 328.8 L601 329.4 L601.8 329.8 L602.2 330 L602.3 329.7 L602.2 329.2 L604.4 330.1 L604.5 329.2 L604.2 328.3 L603.7 327.6 L603.1 326.9 L602.2 326 L601.1 325 L599.9 324 L598.5 322.8 L597 321.6 L595.4 320.3 L593.8 319 L592.2 317.6 L590.6 316.3 L589.1 314.9 L587.8 313.6 L586.6 312.4 L585.6 311.3 L584.7 310.3 L584.2 309.4 L583.8 308.5Z" fill="#3ef0f2" stroke="#1fa3ae" stroke-width="0.6"/><path d="M585.7 313.2 L586.9 314.5 L588.2 315.9 L589.7 317.3 L591.3 318.7 L592.9 320 L594.5 321.4 L596.2 322.7 L597.7 323.9 L599.1 325 L600.4 326 L601.5 326.9 L602.4 327.7" stroke="#a8f6f8" stroke-width="1.1" fill="none" stroke-linecap="round" opacity="0.85"/>
<path d="M580.2 331.1 L580.3 332.3 L580.8 333.7 L581.5 335.2 L582.5 336.7 L583.7 338.3 L585 339.8 L586.5 341.3 L588.1 342.9 L589.8 344.3 L591.5 345.7 L593.1 347 L594.8 348.1 L596.3 349.2 L597.6 350.1 L598.8 350.8 L599.8 351.4 L600.5 351.8 L601 352 L601.1 351.7 L601 351.1 L603.2 352.1 L603.3 351.2 L603 350.3 L602.5 349.6 L601.9 348.8 L601 348 L599.9 347 L598.7 346 L597.3 344.8 L595.8 343.6 L594.2 342.3 L592.6 340.9 L591 339.6 L589.4 338.2 L587.9 336.9 L586.6 335.6 L585.4 334.4 L584.4 333.3 L583.5 332.2 L582.9 331.3 L582.5 330.5Z" fill="#3ef0f2" stroke="#1fa3ae" stroke-width="0.6"/><path d="M584.5 335.1 L585.7 336.5 L587 337.8 L588.5 339.2 L590.1 340.6 L591.7 342 L593.3 343.4 L595 344.7 L596.5 345.9 L597.9 347 L599.2 348 L600.3 348.9 L601.2 349.7" stroke="#a8f6f8" stroke-width="1.1" fill="none" stroke-linecap="round" opacity="0.85"/>
<path d="M579 353.1 L579.1 354.3 L579.6 355.7 L580.3 357.2 L581.3 358.7 L582.5 360.2 L583.8 361.8 L585.3 363.3 L586.9 364.8 L588.6 366.3 L590.3 367.7 L591.9 368.9 L593.6 370.1 L595.1 371.1 L596.4 372 L597.6 372.8 L598.6 373.4 L599.3 373.8 L599.8 374 L599.8 373.7 L599.8 373.1 L602 374.1 L602.1 373.1 L601.8 372.3 L601.3 371.6 L600.7 370.8 L599.8 370 L598.7 369 L597.5 367.9 L596.1 366.8 L594.6 365.5 L593 364.2 L591.4 362.9 L589.8 361.6 L588.2 360.2 L586.7 358.9 L585.4 357.6 L584.2 356.4 L583.1 355.2 L582.3 354.2 L581.7 353.3 L581.3 352.4Z" fill="#3ef0f2" stroke="#1fa3ae" stroke-width="0.6"/><path d="M583.2 357.1 L584.4 358.4 L585.8 359.8 L587.3 361.2 L588.9 362.6 L590.5 364 L592.1 365.3 L593.8 366.6 L595.3 367.8 L596.7 369 L598 370 L599.1 370.9 L600 371.6" stroke="#a8f6f8" stroke-width="1.1" fill="none" stroke-linecap="round" opacity="0.85"/>
<path d="M577.7 375 L577.9 376.2 L578.4 377.7 L579.1 379.1 L580.1 380.7 L581.3 382.2 L582.6 383.8 L584.1 385.3 L585.7 386.8 L587.4 388.3 L589.1 389.6 L590.7 390.9 L592.4 392.1 L593.9 393.1 L595.2 394 L596.4 394.8 L597.4 395.3 L598.1 395.7 L598.6 395.9 L598.6 395.6 L598.5 395 L600.8 396.1 L600.9 395.1 L600.6 394.2 L600.1 393.5 L599.5 392.8 L598.6 391.9 L597.5 391 L596.3 389.9 L594.9 388.7 L593.4 387.5 L591.8 386.2 L590.2 384.9 L588.6 383.5 L587 382.2 L585.5 380.8 L584.2 379.6 L583 378.3 L581.9 377.2 L581.1 376.2 L580.5 375.3 L580.1 374.4Z" fill="#3ef0f2" stroke="#1fa3ae" stroke-width="0.6"/><path d="M582 379.1 L583.2 380.4 L584.6 381.8 L586.1 383.2 L587.7 384.6 L589.3 386 L590.9 387.3 L592.5 388.6 L594.1 389.8 L595.5 390.9 L596.8 391.9 L597.9 392.8 L598.8 393.6" stroke="#a8f6f8" stroke-width="1.1" fill="none" stroke-linecap="round" opacity="0.85"/>
<path d="M576.5 397 L576.7 398.2 L577.2 399.6 L577.9 401.1 L578.9 402.6 L580.1 404.2 L581.4 405.7 L582.9 407.3 L584.5 408.8 L586.2 410.2 L587.9 411.6 L589.5 412.9 L591.1 414.1 L592.7 415.1 L594 416 L595.2 416.7 L596.2 417.3 L596.9 417.7 L597.3 417.9 L597.4 417.6 L597.3 417 L599.6 418 L599.6 417.1 L599.4 416.2 L598.9 415.5 L598.2 414.8 L597.4 413.9 L596.3 412.9 L595.1 411.9 L593.7 410.7 L592.2 409.5 L590.6 408.2 L589 406.9 L587.4 405.5 L585.8 404.2 L584.3 402.8 L583 401.5 L581.8 400.3 L580.7 399.2 L579.9 398.1 L579.3 397.2 L578.9 396.4Z" fill="#3ef0f2" stroke="#1fa3ae" stroke-width="0.6"/><path d="M580.8 401.1 L582 402.4 L583.4 403.8 L584.9 405.2 L586.5 406.6 L588.1 407.9 L589.7 409.3 L591.3 410.6 L592.9 411.8 L594.3 412.9 L595.6 413.9 L596.7 414.8 L597.6 415.6" stroke="#a8f6f8" stroke-width="1.1" fill="none" stroke-linecap="round" opacity="0.85"/>
<path d="M575.3 419 L575.5 420.2 L576 421.6 L576.7 423.1 L577.7 424.6 L578.9 426.2 L580.2 427.7 L581.7 429.3 L583.3 430.8 L585 432.2 L586.7 433.6 L588.3 434.9 L589.9 436 L591.5 437.1 L592.8 438 L594 438.7 L595 439.3 L595.7 439.7 L596.1 439.9 L596.2 439.6 L596.1 439 L598.4 440 L598.4 439.1 L598.1 438.2 L597.7 437.5 L597 436.7 L596.2 435.9 L595.1 434.9 L593.9 433.8 L592.5 432.7 L591 431.5 L589.4 430.2 L587.8 428.8 L586.2 427.5 L584.6 426.1 L583.1 424.8 L581.8 423.5 L580.6 422.3 L579.5 421.1 L578.7 420.1 L578.1 419.2 L577.7 418.3Z" fill="#3ef0f2" stroke="#1fa3ae" stroke-width="0.6"/><path d="M579.6 423 L580.8 424.4 L582.2 425.7 L583.7 427.1 L585.3 428.5 L586.9 429.9 L588.5 431.3 L590.1 432.5 L591.7 433.8 L593.1 434.9 L594.4 435.9 L595.5 436.8 L596.4 437.5" stroke="#a8f6f8" stroke-width="1.1" fill="none" stroke-linecap="round" opacity="0.85"/>
<path d="M631.1 307.5 L633.3 308.5 L635.5 309.3 L637.6 309.8 L639.4 310.2 L641.1 310.3 L642.5 310.1 L643.7 309.7 L644.7 308.8 L644.9 307.9 L642.7 307.2 L642.7 307.3 L642.7 307.1 L642.2 307 L641.3 306.9 L640.1 306.5 L638.6 306.1 L636.9 305.4 L635 304.6 L632.9 303.6Z" fill="#3ef0f2" stroke="#1fa3ae" stroke-width="0.6"/><path d="M636.4 306.7 L638.3 307.3 L639.9 307.7 L641.3 307.9 L642.3 308 L643 307.9" stroke="#a8f6f8" stroke-width="1.1" fill="none" stroke-linecap="round" opacity="0.85"/>
<path d="M612.2 309.2 L612.2 311 L612.5 313.1 L613.2 315.2 L614.2 317.3 L615.6 319.4 L617.3 321.4 L619.2 323.3 L621.3 325 L623.5 326.7 L625.8 328.1 L628.2 329.3 L630.4 330.3 L632.6 331.1 L634.7 331.7 L636.6 332 L638.2 332.1 L639.6 331.9 L640.8 331.5 L641.8 330.6 L642 329.7 L639.8 329 L639.8 329.1 L639.8 328.9 L639.3 328.8 L638.5 328.7 L637.2 328.4 L635.7 327.9 L634 327.2 L632.1 326.4 L630.1 325.4 L628 324.3 L626 323 L623.9 321.6 L622 320.1 L620.2 318.5 L618.6 316.9 L617.2 315.3 L616.1 313.7 L615.3 312.2 L614.8 310.7 L614.5 309.1Z" fill="#3ef0f2" stroke="#1fa3ae" stroke-width="0.6"/><path d="M616.3 315.9 L617.6 317.7 L619.3 319.4 L621.1 321.1 L623.1 322.7 L625.2 324.2 L627.3 325.5 L629.5 326.7 L631.6 327.7 L633.6 328.5 L635.4 329.1 L637 329.5 L638.4 329.8" stroke="#a8f6f8" stroke-width="1.1" fill="none" stroke-linecap="round" opacity="0.85"/>
<path d="M609.3 331.1 L609.2 332.9 L609.6 334.9 L610.3 337 L611.4 339.1 L612.8 341.2 L614.4 343.2 L616.3 345.1 L618.4 346.9 L620.7 348.5 L623 349.9 L625.3 351.1 L627.6 352.2 L629.8 352.9 L631.8 353.5 L633.7 353.8 L635.3 353.9 L636.7 353.7 L637.9 353.3 L638.9 352.4 L639.1 351.5 L636.9 350.9 L636.9 350.9 L636.9 350.7 L636.4 350.6 L635.6 350.5 L634.4 350.2 L632.9 349.7 L631.2 349.1 L629.3 348.2 L627.3 347.3 L625.2 346.1 L623.1 344.8 L621.1 343.4 L619.1 341.9 L617.3 340.4 L615.7 338.8 L614.3 337.2 L613.2 335.6 L612.4 334 L611.9 332.5 L611.6 331Z" fill="#3ef0f2" stroke="#1fa3ae" stroke-width="0.6"/><path d="M613.4 337.8 L614.8 339.6 L616.4 341.3 L618.2 343 L620.2 344.5 L622.3 346 L624.5 347.3 L626.6 348.5 L628.7 349.5 L630.7 350.3 L632.5 350.9 L634.1 351.3 L635.5 351.6" stroke="#a8f6f8" stroke-width="1.1" fill="none" stroke-linecap="round" opacity="0.85"/>
<path d="M606.4 352.9 L606.3 354.7 L606.7 356.8 L607.4 358.9 L608.5 361 L609.9 363.1 L611.6 365.1 L613.5 367 L615.6 368.7 L617.8 370.3 L620.1 371.8 L622.4 373 L624.7 374 L626.9 374.8 L629 375.3 L630.8 375.6 L632.4 375.7 L633.9 375.5 L635 375.1 L636 374.2 L636.2 373.2 L634 372.7 L634 372.7 L634 372.5 L633.5 372.4 L632.7 372.3 L631.5 372 L630 371.5 L628.3 370.9 L626.4 370.1 L624.4 369.1 L622.3 367.9 L620.2 366.7 L618.2 365.3 L616.2 363.8 L614.4 362.2 L612.8 360.6 L611.5 359 L610.3 357.4 L609.5 355.8 L609 354.3 L608.7 352.8Z" fill="#3ef0f2" stroke="#1fa3ae" stroke-width="0.6"/><path d="M610.5 359.6 L611.9 361.4 L613.5 363.1 L615.4 364.8 L617.4 366.4 L619.5 367.8 L621.6 369.2 L623.8 370.3 L625.9 371.3 L627.8 372.1 L629.7 372.7 L631.3 373.1 L632.6 373.4" stroke="#a8f6f8" stroke-width="1.1" fill="none" stroke-linecap="round" opacity="0.85"/>
<path d="M603.5 374.8 L603.4 376.6 L603.8 378.6 L604.5 380.7 L605.6 382.8 L607 384.9 L608.7 386.9 L610.6 388.8 L612.7 390.6 L615 392.2 L617.3 393.6 L619.6 394.8 L621.9 395.8 L624 396.6 L626.1 397.1 L627.9 397.4 L629.6 397.5 L631 397.3 L632.2 396.9 L633.1 395.9 L633.3 395 L631.1 394.5 L631.1 394.5 L631.1 394.3 L630.7 394.2 L629.8 394.1 L628.6 393.8 L627.1 393.3 L625.4 392.7 L623.5 391.9 L621.5 390.9 L619.4 389.8 L617.4 388.5 L615.3 387.1 L613.4 385.6 L611.6 384.1 L610 382.4 L608.6 380.8 L607.5 379.2 L606.6 377.7 L606.1 376.2 L605.8 374.6Z" fill="#3ef0f2" stroke="#1fa3ae" stroke-width="0.6"/><path d="M607.6 381.5 L609 383.2 L610.6 385 L612.5 386.6 L614.5 388.2 L616.6 389.7 L618.7 391 L620.9 392.2 L623 393.1 L625 393.9 L626.8 394.5 L628.4 395 L629.7 395.2" stroke="#a8f6f8" stroke-width="1.1" fill="none" stroke-linecap="round" opacity="0.85"/>
<path d="M600.6 396.6 L600.5 398.4 L600.9 400.5 L601.6 402.6 L602.7 404.7 L604.1 406.8 L605.8 408.8 L607.8 410.6 L609.9 412.4 L612.1 414 L614.4 415.4 L616.7 416.6 L619 417.6 L621.2 418.4 L623.2 418.9 L625.1 419.2 L626.7 419.3 L628.1 419.1 L629.3 418.7 L630.2 417.7 L630.4 416.8 L628.2 416.3 L628.2 416.4 L628.2 416.1 L627.8 416.1 L626.9 415.9 L625.7 415.6 L624.2 415.2 L622.5 414.5 L620.7 413.7 L618.7 412.7 L616.6 411.6 L614.5 410.3 L612.5 408.9 L610.5 407.5 L608.7 405.9 L607.1 404.3 L605.7 402.7 L604.6 401.1 L603.7 399.5 L603.2 398 L602.9 396.5Z" fill="#3ef0f2" stroke="#1fa3ae" stroke-width="0.6"/><path d="M604.7 403.3 L606.1 405.1 L607.8 406.8 L609.6 408.5 L611.6 410.1 L613.7 411.5 L615.9 412.8 L618 414 L620.1 415 L622.1 415.8 L623.9 416.4 L625.5 416.8 L626.8 417" stroke="#a8f6f8" stroke-width="1.1" fill="none" stroke-linecap="round" opacity="0.85"/>
<path d="M587.9 442.7 L588.8 443.3 L589.5 444 L590.3 445 L591.1 446.1 L591.8 447.3 L592.5 448.7 L593.2 450.2 L593.8 451.7 L594.4 453.2 L594.9 454.7 L595.4 456.1 L595.8 457.5 L596.2 458.7 L596.5 459.7 L596.8 460.5 L597 461.1 L597.2 461.5 L597.4 461.8 L599.8 461.4 L597.2 461.4 L599.6 461.1 L599.8 461.2 L599.9 460.7 L600 460 L600 459.1 L599.9 457.9 L599.7 456.6 L599.4 455.1 L599 453.5 L598.5 451.8 L597.9 450.1 L597.2 448.4 L596.3 446.7 L595.3 445.1 L594.2 443.7 L593 442.4 L591.8 441.4 L590.4 440.6 L589.1 440.1Z" fill="#3ef0f2" stroke="#1fa3ae" stroke-width="0.6"/><path d="M593.2 444.5 L594.2 445.8 L595.1 447.3 L595.9 448.9 L596.6 450.6 L597.2 452.2 L597.7 453.9 L598.1 455.4 L598.5 456.9 L598.7 458.2 L598.8 459.3 L598.9 460.2" stroke="#a8f6f8" stroke-width="1.1" fill="none" stroke-linecap="round" opacity="0.85"/>
<path d="M609.1 441.3 L610.1 441.7 L610.8 442.3 L611.6 443 L612.4 444 L613.1 445.1 L613.9 446.4 L614.6 447.8 L615.2 449.3 L615.9 450.8 L616.4 452.3 L616.9 453.8 L617.4 455.2 L617.8 456.5 L618.2 457.7 L618.5 458.7 L618.8 459.5 L619 460.1 L619.2 460.4 L619.4 460.5 L621.6 460.3 L621.7 460.1 L621.8 459.7 L621.9 459 L621.9 458.1 L621.9 457 L621.7 455.7 L621.4 454.2 L621.1 452.6 L620.6 450.9 L620 449.2 L619.2 447.5 L618.4 445.8 L617.4 444.2 L616.3 442.8 L615.2 441.5 L613.9 440.4 L612.5 439.6 L611.1 439 L609.8 438.8Z" fill="#3ef0f2" stroke="#1fa3ae" stroke-width="0.6"/><path d="M614.3 442.3 L615.3 443.5 L616.3 444.9 L617.2 446.4 L617.9 448 L618.6 449.7 L619.2 451.4 L619.7 453 L620.1 454.5 L620.5 455.9 L620.7 457.2 L620.8 458.3" stroke="#a8f6f8" stroke-width="1.1" fill="none" stroke-linecap="round" opacity="0.85"/>
<path d="M630.4 440 L631.3 440.2 L632.1 440.7 L632.9 441.3 L633.7 442.1 L634.4 443 L635.2 444.2 L635.9 445.5 L636.6 446.9 L637.3 448.4 L637.9 449.9 L638.5 451.4 L639 452.9 L639.4 454.3 L639.8 455.6 L640.2 456.8 L640.5 457.7 L640.8 458.5 L641 459 L641.2 459.4 L641.3 459.5 L643.6 459.2 L643.7 459.1 L643.8 458.7 L643.9 458.1 L643.9 457.2 L643.8 456.1 L643.7 454.7 L643.4 453.3 L643.1 451.7 L642.6 450 L642 448.3 L641.3 446.6 L640.5 444.9 L639.5 443.3 L638.4 441.9 L637.3 440.6 L636 439.5 L634.7 438.6 L633.3 438 L631.9 437.7 L630.6 437.8Z" fill="#3ef0f2" stroke="#1fa3ae" stroke-width="0.6"/><path d="M635.3 440.3 L636.4 441.4 L637.4 442.6 L638.4 444 L639.2 445.6 L640 447.2 L640.7 448.8 L641.3 450.5 L641.8 452.1 L642.2 453.6 L642.5 455 L642.7 456.3 L642.8 457.3" stroke="#a8f6f8" stroke-width="1.1" fill="none" stroke-linecap="round" opacity="0.85"/>
<path d="M652.5 438.9 L653.4 439.2 L654.2 439.6 L655 440.3 L655.7 441.1 L656.5 442.1 L657.3 443.3 L658 444.6 L658.7 446 L659.3 447.5 L660 449 L660.5 450.5 L661 452 L661.5 453.4 L661.9 454.7 L662.2 455.8 L662.5 456.7 L662.8 457.5 L663 458 L663.2 458.3 L663.3 458.4 L665.6 458.1 L665.6 458 L665.8 457.7 L665.9 457.1 L665.9 456.2 L665.8 455.1 L665.7 453.8 L665.5 452.4 L665.1 450.8 L664.6 449.1 L664.1 447.4 L663.4 445.7 L662.5 444 L661.6 442.4 L660.6 441 L659.4 439.6 L658.2 438.5 L656.8 437.6 L655.4 437 L654 436.7 L652.7 436.7Z" fill="#3ef0f2" stroke="#1fa3ae" stroke-width="0.6"/><path d="M657.4 439.3 L658.5 440.4 L659.5 441.7 L660.4 443.1 L661.3 444.7 L662.1 446.3 L662.7 447.9 L663.3 449.6 L663.8 451.2 L664.2 452.7 L664.5 454.1 L664.7 455.3 L664.8 456.4" stroke="#a8f6f8" stroke-width="1.1" fill="none" stroke-linecap="round" opacity="0.85"/>
<path d="M523 255.4 C523.9 254.5 525.7 251.2 528.5 249.8 C531.3 248.4 536.3 247.9 539.6 246.8 C542.9 245.7 546.3 243.5 548.2 243 C550.1 242.5 550.6 243 551.2 243.7 C551.8 244.4 550.9 246.6 552 247.4 C553.1 248.2 557 248.4 558 248.6" stroke="#1fa3ae" stroke-width="2.5" fill="none" stroke-linecap="round" stroke-linejoin="round"/><path d="M523 255.4 C523.9 254.5 525.7 251.2 528.5 249.8 C531.3 248.4 536.3 247.9 539.6 246.8 C542.9 245.7 546.3 243.5 548.2 243 C550.1 242.5 550.6 243 551.2 243.7 C551.8 244.4 550.9 246.6 552 247.4 C553.1 248.2 557 248.4 558 248.6" stroke="#3ef0f2" stroke-width="1.7" fill="none" stroke-linecap="round" stroke-linejoin="round"/>
<path d="M523 255.4 C523.1 256.7 522.9 260.9 523.6 263.3 C524.3 265.7 526.7 268.5 527.3 269.5" stroke="#1fa3ae" stroke-width="2.5" fill="none" stroke-linecap="round" stroke-linejoin="round"/><path d="M523 255.4 C523.1 256.7 522.9 260.9 523.6 263.3 C524.3 265.7 526.7 268.5 527.3 269.5" stroke="#3ef0f2" stroke-width="1.7" fill="none" stroke-linecap="round" stroke-linejoin="round"/>
<path d="M551.9 257.2 C551.7 258.2 550.4 261.4 550.6 263.3 C550.8 265.2 551.6 266.9 553 268.3 C554.4 269.8 557.4 271.6 559.2 272 C561 272.4 562.4 272.1 564 270.7 C565.6 269.2 567.5 264.6 569 263.3 C570.5 262 571.5 262.1 572.7 262.7 C573.9 263.3 574.8 265.2 576.4 267 C578 268.8 580.8 270.9 582.6 273.2 C584.5 275.4 586.3 278 587.5 280.5 C588.7 283 589.6 286.8 590 288" stroke="#1fa3ae" stroke-width="2.5" fill="none" stroke-linecap="round" stroke-linejoin="round"/><path d="M551.9 257.2 C551.7 258.2 550.4 261.4 550.6 263.3 C550.8 265.2 551.6 266.9 553 268.3 C554.4 269.8 557.4 271.6 559.2 272 C561 272.4 562.4 272.1 564 270.7 C565.6 269.2 567.5 264.6 569 263.3 C570.5 262 571.5 262.1 572.7 262.7 C573.9 263.3 574.8 265.2 576.4 267 C578 268.8 580.8 270.9 582.6 273.2 C584.5 275.4 586.3 278 587.5 280.5 C588.7 283 589.6 286.8 590 288" stroke="#3ef0f2" stroke-width="1.7" fill="none" stroke-linecap="round" stroke-linejoin="round"/>
<path d="M589.8 253.5 C590.8 254.1 594.4 255.8 596 257.2 C597.6 258.6 598.9 260.2 599.7 262.1 C600.5 264 601.5 266.1 600.9 268.3 C600.3 270.6 597.2 274.2 596 275.6 C594.8 277 593.1 276.6 593.5 276.9 C593.9 277.2 596.5 277.7 598.4 277.5 C600.2 277.3 603 276.9 604.6 275.6 C606.2 274.4 607.4 270.9 608 270" stroke="#1fa3ae" stroke-width="2.5" fill="none" stroke-linecap="round" stroke-linejoin="round"/><path d="M589.8 253.5 C590.8 254.1 594.4 255.8 596 257.2 C597.6 258.6 598.9 260.2 599.7 262.1 C600.5 264 601.5 266.1 600.9 268.3 C600.3 270.6 597.2 274.2 596 275.6 C594.8 277 593.1 276.6 593.5 276.9 C593.9 277.2 596.5 277.7 598.4 277.5 C600.2 277.3 603 276.9 604.6 275.6 C606.2 274.4 607.4 270.9 608 270" stroke="#3ef0f2" stroke-width="1.7" fill="none" stroke-linecap="round" stroke-linejoin="round"/>
<path d="M618 249.8 C618.4 250.8 620.7 253.5 620.5 256 C620.3 258.5 618.5 262.6 616.9 264.6 C615.3 266.7 612.4 266.7 610.7 268.3 C609.1 269.9 608 272.4 607 274.4 C606 276.4 605.4 278.4 604.6 280.5 C603.8 282.6 602.3 284.6 602.1 286.7 C601.9 288.8 603.6 290.6 603.3 292.8 C602.9 295 600.5 298.8 600 300" stroke="#1fa3ae" stroke-width="2.5" fill="none" stroke-linecap="round" stroke-linejoin="round"/><path d="M618 249.8 C618.4 250.8 620.7 253.5 620.5 256 C620.3 258.5 618.5 262.6 616.9 264.6 C615.3 266.7 612.4 266.7 610.7 268.3 C609.1 269.9 608 272.4 607 274.4 C606 276.4 605.4 278.4 604.6 280.5 C603.8 282.6 602.3 284.6 602.1 286.7 C601.9 288.8 603.6 290.6 603.3 292.8 C602.9 295 600.5 298.8 600 300" stroke="#3ef0f2" stroke-width="1.7" fill="none" stroke-linecap="round" stroke-linejoin="round"/>
<path d="M623 247.4 C623.6 246.8 625.9 243.3 626.7 243.7 C627.5 244.1 627.9 247.4 627.9 249.8 C627.9 252.2 626.5 255.9 626.7 258.4 C626.9 260.9 629.1 263.2 629.1 264.6 C629.1 266 627.1 266.2 626.7 266.5" stroke="#1fa3ae" stroke-width="2.5" fill="none" stroke-linecap="round" stroke-linejoin="round"/><path d="M623 247.4 C623.6 246.8 625.9 243.3 626.7 243.7 C627.5 244.1 627.9 247.4 627.9 249.8 C627.9 252.2 626.5 255.9 626.7 258.4 C626.9 260.9 629.1 263.2 629.1 264.6 C629.1 266 627.1 266.2 626.7 266.5" stroke="#3ef0f2" stroke-width="1.7" fill="none" stroke-linecap="round" stroke-linejoin="round"/>
<path d="M627 285 C628.2 284.7 631.5 282.7 634 283 C636.5 283.3 640 285.3 642 287 C644 288.7 644.3 291.3 646 293 C647.7 294.7 650.7 295.3 652 297 C653.3 298.7 654.7 301.5 654 303 C653.3 304.5 649 305.5 648 306" stroke="#1fa3ae" stroke-width="2.5" fill="none" stroke-linecap="round" stroke-linejoin="round"/><path d="M627 285 C628.2 284.7 631.5 282.7 634 283 C636.5 283.3 640 285.3 642 287 C644 288.7 644.3 291.3 646 293 C647.7 294.7 650.7 295.3 652 297 C653.3 298.7 654.7 301.5 654 303 C653.3 304.5 649 305.5 648 306" stroke="#3ef0f2" stroke-width="1.7" fill="none" stroke-linecap="round" stroke-linejoin="round"/>
<path d="M622 290 C623 291 625.5 294.3 628 296 C630.5 297.7 635 300.7 637 300 C639 299.3 640.5 294.2 640 292 C639.5 289.8 635 287.8 634 287" stroke="#1fa3ae" stroke-width="2.5" fill="none" stroke-linecap="round" stroke-linejoin="round"/><path d="M622 290 C623 291 625.5 294.3 628 296 C630.5 297.7 635 300.7 637 300 C639 299.3 640.5 294.2 640 292 C639.5 289.8 635 287.8 634 287" stroke="#3ef0f2" stroke-width="1.7" fill="none" stroke-linecap="round" stroke-linejoin="round"/>
<path d="M580 288 C580.8 287.3 583.7 283.7 585 284 C586.3 284.3 588.2 287.8 588 290 C587.8 292.2 585.3 295.3 584 297 C582.7 298.7 580.7 299.5 580 300" stroke="#1fa3ae" stroke-width="2.5" fill="none" stroke-linecap="round" stroke-linejoin="round"/><path d="M580 288 C580.8 287.3 583.7 283.7 585 284 C586.3 284.3 588.2 287.8 588 290 C587.8 292.2 585.3 295.3 584 297 C582.7 298.7 580.7 299.5 580 300" stroke="#3ef0f2" stroke-width="1.7" fill="none" stroke-linecap="round" stroke-linejoin="round"/>
<path d="M562 280 C563.3 280.8 567.8 283 570 285 C572.2 287 573.7 289.5 575 292 C576.3 294.5 577.5 298.7 578 300" stroke="#1fa3ae" stroke-width="2.5" fill="none" stroke-linecap="round" stroke-linejoin="round"/><path d="M562 280 C563.3 280.8 567.8 283 570 285 C572.2 287 573.7 289.5 575 292 C576.3 294.5 577.5 298.7 578 300" stroke="#3ef0f2" stroke-width="1.7" fill="none" stroke-linecap="round" stroke-linejoin="round"/>
<path d="M516 452 C514.7 453.3 509.7 457 508 460 C506.3 463 505.3 467 506 470 C506.7 473 509.3 477 512 478 C514.7 479 519.7 477.7 522 476 C524.3 474.3 525.3 469.3 526 468" stroke="#1fa3ae" stroke-width="2.5" fill="none" stroke-linecap="round" stroke-linejoin="round"/><path d="M516 452 C514.7 453.3 509.7 457 508 460 C506.3 463 505.3 467 506 470 C506.7 473 509.3 477 512 478 C514.7 479 519.7 477.7 522 476 C524.3 474.3 525.3 469.3 526 468" stroke="#3ef0f2" stroke-width="1.7" fill="none" stroke-linecap="round" stroke-linejoin="round"/>
<path d="M546 462 C545 463.3 540.5 467.7 540 470 C539.5 472.3 541.3 475.3 543 476 C544.7 476.7 548.8 474.3 550 474" stroke="#1fa3ae" stroke-width="2.5" fill="none" stroke-linecap="round" stroke-linejoin="round"/><path d="M546 462 C545 463.3 540.5 467.7 540 470 C539.5 472.3 541.3 475.3 543 476 C544.7 476.7 548.8 474.3 550 474" stroke="#3ef0f2" stroke-width="1.7" fill="none" stroke-linecap="round" stroke-linejoin="round"/>
<path d="M590 442 C589 440.3 586 434.3 584 432 C582 429.7 580 428.2 578 428 C576 427.8 573 430.5 572 431" stroke="#1fa3ae" stroke-width="2.5" fill="none" stroke-linecap="round" stroke-linejoin="round"/><path d="M590 442 C589 440.3 586 434.3 584 432 C582 429.7 580 428.2 578 428 C576 427.8 573 430.5 572 431" stroke="#3ef0f2" stroke-width="1.7" fill="none" stroke-linecap="round" stroke-linejoin="round"/>
<path d="M600 425 C601 423.8 603.7 418.8 606 418 C608.3 417.2 612 418.3 614 420 C616 421.7 618.3 425.3 618 428 C617.7 430.7 614.3 434.3 612 436 C609.7 437.7 605.3 437.7 604 438" stroke="#1fa3ae" stroke-width="2.5" fill="none" stroke-linecap="round" stroke-linejoin="round"/><path d="M600 425 C601 423.8 603.7 418.8 606 418 C608.3 417.2 612 418.3 614 420 C616 421.7 618.3 425.3 618 428 C617.7 430.7 614.3 434.3 612 436 C609.7 437.7 605.3 437.7 604 438" stroke="#3ef0f2" stroke-width="1.7" fill="none" stroke-linecap="round" stroke-linejoin="round"/>
<path d="M559 251 L562 248 L566 246" stroke="#7a7a7a" stroke-width="3.3" fill="none" stroke-linecap="round" stroke-linejoin="round"/>
<path d="M559 251 L562 248 L566 246" stroke="#a8a8a8" stroke-width="2.4" fill="none" stroke-linecap="round" stroke-linejoin="round"/>
<path d="M566 246 L568 244.5" stroke="#c8b400" stroke-width="2.2" fill="none" stroke-linecap="round" stroke-linejoin="round"/>
<path d="M588 255 L589 251 L587 249" stroke="#7a7a7a" stroke-width="3.3" fill="none" stroke-linecap="round" stroke-linejoin="round"/>
<path d="M588 255 L589 251 L587 249" stroke="#a8a8a8" stroke-width="2.4" fill="none" stroke-linecap="round" stroke-linejoin="round"/>
<path d="M585 249.5 L583 249" stroke="#c8b400" stroke-width="2.2" fill="none" stroke-linecap="round" stroke-linejoin="round"/>
<path d="M617 252 L614 249 L613 245" stroke="#7a7a7a" stroke-width="3.3" fill="none" stroke-linecap="round" stroke-linejoin="round"/>
<path d="M617 252 L614 249 L613 245" stroke="#a8a8a8" stroke-width="2.4" fill="none" stroke-linecap="round" stroke-linejoin="round"/>
<path d="M613 245 L613.5 242" stroke="#e8303a" stroke-width="1.8" fill="none" stroke-linecap="round" stroke-linejoin="round"/>
<path d="M611 246 L609 245.5" stroke="#e8303a" stroke-width="1.6" fill="none" stroke-linecap="round" stroke-linejoin="round"/>
<path d="M564 271 L569 269.5 L574 270" stroke="#7a7a7a" stroke-width="3.3" fill="none" stroke-linecap="round" stroke-linejoin="round"/>
<path d="M564 271 L569 269.5 L574 270" stroke="#a8a8a8" stroke-width="2.4" fill="none" stroke-linecap="round" stroke-linejoin="round"/>
<path d="M575 270 L578 272" stroke="#e8303a" stroke-width="1.8" fill="none" stroke-linecap="round" stroke-linejoin="round"/>
<path d="M578 270 L581 270" stroke="#e8303a" stroke-width="1.6" fill="none" stroke-linecap="round" stroke-linejoin="round"/>
<path d="M626 268 L630 272 L634 272" stroke="#b048b8" stroke-width="3.1" fill="none" stroke-linecap="round" stroke-linejoin="round"/>
<path d="M626 268 L630 272 L634 272" stroke="#e070e0" stroke-width="2.2" fill="none" stroke-linecap="round" stroke-linejoin="round"/>
<path d="M641.1 273.8 L638 275.6 L634.9 273.8 L634.9 270.2 L638 268.4 L641.1 270.2 L641.1 273.8" stroke="#b048b8" stroke-width="2.9" fill="none" stroke-linecap="round" stroke-linejoin="round"/>
<path d="M641.1 273.8 L638 275.6 L634.9 273.8 L634.9 270.2 L638 268.4 L641.1 270.2 L641.1 273.8" stroke="#e070e0" stroke-width="2.0" fill="none" stroke-linecap="round" stroke-linejoin="round"/>
<path d="M639 268.5 L642 270" stroke="#2020e0" stroke-width="1.8" fill="none" stroke-linecap="round" stroke-linejoin="round"/>
<path d="M618 284 L624 285 L630 283.5 L636 284" stroke="#0a3aa0" stroke-width="3.5" fill="none" stroke-linecap="round" stroke-linejoin="round"/>
<path d="M618 284 L624 285 L630 283.5 L636 284" stroke="#1560e0" stroke-width="2.6" fill="none" stroke-linecap="round" stroke-linejoin="round"/>
<path d="M615.5 283.5 L618.5 283.5" stroke="#e8303a" stroke-width="2.2" fill="none" stroke-linecap="round" stroke-linejoin="round"/>
<path d="M629 281 L633 280 L637 282" stroke="#b048b8" stroke-width="2.9" fill="none" stroke-linecap="round" stroke-linejoin="round"/>
<path d="M629 281 L633 280 L637 282" stroke="#e070e0" stroke-width="2.0" fill="none" stroke-linecap="round" stroke-linejoin="round"/>
<path d="M625 287 L629 288 L634 287" stroke="#2020e0" stroke-width="1.6" fill="none" stroke-linecap="round" stroke-linejoin="round"/>
<path d="M592 284 L600 280 L606 277 L610 275" stroke="#1560e0" stroke-width="1.4" fill="none" stroke-linecap="round" stroke-linejoin="round"/>
<path d="M603 279 L607 276 L611 275" stroke="#0a3aa0" stroke-width="3.3" fill="none" stroke-linecap="round" stroke-linejoin="round"/>
<path d="M603 279 L607 276 L611 275" stroke="#1560e0" stroke-width="2.4" fill="none" stroke-linecap="round" stroke-linejoin="round"/>
<path d="M609 271 L612 269 L616 270" stroke="#e8303a" stroke-width="1.8" fill="none" stroke-linecap="round" stroke-linejoin="round"/>
<path d="M589 283 L590 287 L588 292 L590 297" stroke="#b048b8" stroke-width="3.5" fill="none" stroke-linecap="round" stroke-linejoin="round"/>
<path d="M589 283 L590 287 L588 292 L590 297" stroke="#e070e0" stroke-width="2.6" fill="none" stroke-linecap="round" stroke-linejoin="round"/>
<path d="M587 282 L589 281" stroke="#e8303a" stroke-width="1.8" fill="none" stroke-linecap="round" stroke-linejoin="round"/>
<path d="M584 297 L586 298" stroke="#e8303a" stroke-width="1.8" fill="none" stroke-linecap="round" stroke-linejoin="round"/>
<path d="M588 282 L592 284 L594 288" stroke="#0a3aa0" stroke-width="2.9" fill="none" stroke-linecap="round" stroke-linejoin="round"/>
<path d="M588 282 L592 284 L594 288" stroke="#1560e0" stroke-width="2.0" fill="none" stroke-linecap="round" stroke-linejoin="round"/>
<path d="M593 302 L598 303 L602 301 L604 296" stroke="#7a7a7a" stroke-width="3.3" fill="none" stroke-linecap="round" stroke-linejoin="round"/>
<path d="M593 302 L598 303 L602 301 L604 296" stroke="#a8a8a8" stroke-width="2.4" fill="none" stroke-linecap="round" stroke-linejoin="round"/>
<path d="M592 302 L595 302" stroke="#2020e0" stroke-width="1.8" fill="none" stroke-linecap="round" stroke-linejoin="round"/>
<path d="M602 293 L603 291" stroke="#e8303a" stroke-width="1.6" fill="none" stroke-linecap="round" stroke-linejoin="round"/>
<path d="M566 305 L570 301 L576 302 L580 306" stroke="#7a7a7a" stroke-width="3.5" fill="none" stroke-linecap="round" stroke-linejoin="round"/>
<path d="M566 305 L570 301 L576 302 L580 306" stroke="#a8a8a8" stroke-width="2.6" fill="none" stroke-linecap="round" stroke-linejoin="round"/>
<path d="M571 299 L573 296" stroke="#7a7a7a" stroke-width="2.9" fill="none" stroke-linecap="round" stroke-linejoin="round"/>
<path d="M571 299 L573 296" stroke="#a8a8a8" stroke-width="2.0" fill="none" stroke-linecap="round" stroke-linejoin="round"/>
<path d="M633 295 L638 298 L642 302" stroke="#7a7a7a" stroke-width="3.1" fill="none" stroke-linecap="round" stroke-linejoin="round"/>
<path d="M633 295 L638 298 L642 302" stroke="#a8a8a8" stroke-width="2.2" fill="none" stroke-linecap="round" stroke-linejoin="round"/>
<path d="M659.5 307.6 L655 310.2 L650.5 307.6 L650.5 302.4 L655 299.8 L659.5 302.4 L659.5 307.6" stroke="#7a7a7a" stroke-width="3.1" fill="none" stroke-linecap="round" stroke-linejoin="round"/>
<path d="M659.5 307.6 L655 310.2 L650.5 307.6 L650.5 302.4 L655 299.8 L659.5 302.4 L659.5 307.6" stroke="#a8a8a8" stroke-width="2.2" fill="none" stroke-linecap="round" stroke-linejoin="round"/>
<path d="M649.5 309 L646 311 L642.5 309 L642.5 305 L646 303 L649.5 305 L649.5 309" stroke="#7a7a7a" stroke-width="2.9" fill="none" stroke-linecap="round" stroke-linejoin="round"/>
<path d="M649.5 309 L646 311 L642.5 309 L642.5 305 L646 303 L649.5 305 L649.5 309" stroke="#a8a8a8" stroke-width="2.0" fill="none" stroke-linecap="round" stroke-linejoin="round"/>
<path d="M649 311 L651 312" stroke="#2020e0" stroke-width="2" fill="none" stroke-linecap="round" stroke-linejoin="round"/>
<path d="M555 328 L561 325 L568 323 L574 320 L578 318" stroke="#0a3aa0" stroke-width="3.6999999999999997" fill="none" stroke-linecap="round" stroke-linejoin="round"/>
<path d="M555 328 L561 325 L568 323 L574 320 L578 318" stroke="#1560e0" stroke-width="2.8" fill="none" stroke-linecap="round" stroke-linejoin="round"/>
<path d="M576 318 L579 317.5" stroke="#e8303a" stroke-width="2" fill="none" stroke-linecap="round" stroke-linejoin="round"/>
<path d="M589.6 318.1 L586 320.2 L582.4 318.1 L582.4 313.9 L586 311.8 L589.6 313.9 L589.6 318.1" stroke="#0a3aa0" stroke-width="3.1" fill="none" stroke-linecap="round" stroke-linejoin="round"/>
<path d="M589.6 318.1 L586 320.2 L582.4 318.1 L582.4 313.9 L586 311.8 L589.6 313.9 L589.6 318.1" stroke="#1560e0" stroke-width="2.2" fill="none" stroke-linecap="round" stroke-linejoin="round"/>
<path d="M588 320 L590 325 L591 331" stroke="#0a3aa0" stroke-width="3.3" fill="none" stroke-linecap="round" stroke-linejoin="round"/>
<path d="M588 320 L590 325 L591 331" stroke="#1560e0" stroke-width="2.4" fill="none" stroke-linecap="round" stroke-linejoin="round"/>
<path d="M567 338.3 L563 340.6 L559 338.3 L559 333.7 L563 331.4 L567 333.7 L567 338.3" stroke="#7a7a7a" stroke-width="3.1" fill="none" stroke-linecap="round" stroke-linejoin="round"/>
<path d="M567 338.3 L563 340.6 L559 338.3 L559 333.7 L563 331.4 L567 333.7 L567 338.3" stroke="#a8a8a8" stroke-width="2.2" fill="none" stroke-linecap="round" stroke-linejoin="round"/>
<path d="M567 341 L570 346 L572 352" stroke="#7a7a7a" stroke-width="3.1" fill="none" stroke-linecap="round" stroke-linejoin="round"/>
<path d="M567 341 L570 346 L572 352" stroke="#a8a8a8" stroke-width="2.2" fill="none" stroke-linecap="round" stroke-linejoin="round"/>
<path d="M572 371 L575 367 L579 365" stroke="#b048b8" stroke-width="3.1" fill="none" stroke-linecap="round" stroke-linejoin="round"/>
<path d="M572 371 L575 367 L579 365" stroke="#e070e0" stroke-width="2.2" fill="none" stroke-linecap="round" stroke-linejoin="round"/>
<path d="M571 372 L573 373" stroke="#2020e0" stroke-width="2" fill="none" stroke-linecap="round" stroke-linejoin="round"/>
<path d="M592 372 L596 371 L600 371" stroke="#b048b8" stroke-width="2.9" fill="none" stroke-linecap="round" stroke-linejoin="round"/>
<path d="M592 372 L596 371 L600 371" stroke="#e070e0" stroke-width="2.0" fill="none" stroke-linecap="round" stroke-linejoin="round"/>
<path d="M589 372 L592 372.5" stroke="#e8303a" stroke-width="1.8" fill="none" stroke-linecap="round" stroke-linejoin="round"/>
<path d="M582 379 L582 383 L584 386" stroke="#b048b8" stroke-width="3.3" fill="none" stroke-linecap="round" stroke-linejoin="round"/>
<path d="M582 379 L582 383 L584 386" stroke="#e070e0" stroke-width="2.4" fill="none" stroke-linecap="round" stroke-linejoin="round"/>
<path d="M580 377 L583 378" stroke="#e8303a" stroke-width="1.6" fill="none" stroke-linecap="round" stroke-linejoin="round"/>
<path d="M576 383 L579 383.5" stroke="#e8303a" stroke-width="1.6" fill="none" stroke-linecap="round" stroke-linejoin="round"/>
<path d="M561 419 L566 418.5 L571 418" stroke="#b048b8" stroke-width="3.1" fill="none" stroke-linecap="round" stroke-linejoin="round"/>
<path d="M561 419 L566 418.5 L571 418" stroke="#e070e0" stroke-width="2.2" fill="none" stroke-linecap="round" stroke-linejoin="round"/>
<path d="M560 417 L562 419" stroke="#2020e0" stroke-width="1.8" fill="none" stroke-linecap="round" stroke-linejoin="round"/>
<path d="M546 419 L552 417 L558 417 L566 419 L572 418" stroke="#b048b8" stroke-width="3.3" fill="none" stroke-linecap="round" stroke-linejoin="round"/>
<path d="M546 419 L552 417 L558 417 L566 419 L572 418" stroke="#e070e0" stroke-width="2.4" fill="none" stroke-linecap="round" stroke-linejoin="round"/>
<path d="M555 415 L560 417 L563 419" stroke="#2020e0" stroke-width="1.8" fill="none" stroke-linecap="round" stroke-linejoin="round"/>
<path d="M551 422 L549 428 L545 433 L542 439" stroke="#b048b8" stroke-width="3.1" fill="none" stroke-linecap="round" stroke-linejoin="round"/>
<path d="M551 422 L549 428 L545 433 L542 439" stroke="#e070e0" stroke-width="2.2" fill="none" stroke-linecap="round" stroke-linejoin="round"/>
<path d="M542 436 L544 440" stroke="#2020e0" stroke-width="1.8" fill="none" stroke-linecap="round" stroke-linejoin="round"/>
<path d="M571 433 L576 434 L581 436" stroke="#e070e0" stroke-width="1.6" fill="none" stroke-linecap="round" stroke-linejoin="round"/>
<path d="M575 434 L577 437" stroke="#2020e0" stroke-width="1.8" fill="none" stroke-linecap="round" stroke-linejoin="round"/>
<path d="M569 431 L572 432" stroke="#e8303a" stroke-width="1.4" fill="none" stroke-linecap="round" stroke-linejoin="round"/>
<path d="M584 437 L588 431 L594 430 L597 433" stroke="#7a7a7a" stroke-width="3.3" fill="none" stroke-linecap="round" stroke-linejoin="round"/>
<path d="M584 437 L588 431 L594 430 L597 433" stroke="#a8a8a8" stroke-width="2.4" fill="none" stroke-linecap="round" stroke-linejoin="round"/>
<path d="M587 437 L589 439" stroke="#2020e0" stroke-width="1.6" fill="none" stroke-linecap="round" stroke-linejoin="round"/>
<path d="M585 452 L582 456 L583 461 L590 462" stroke="#7a7a7a" stroke-width="3.5" fill="none" stroke-linecap="round" stroke-linejoin="round"/>
<path d="M585 452 L582 456 L583 461 L590 462" stroke="#a8a8a8" stroke-width="2.6" fill="none" stroke-linecap="round" stroke-linejoin="round"/>
<path d="M590 461.5 L594 461.5" stroke="#e8303a" stroke-width="2" fill="none" stroke-linecap="round" stroke-linejoin="round"/>
<path d="M508 461 L513 461 L517 462" stroke="#b048b8" stroke-width="3.1" fill="none" stroke-linecap="round" stroke-linejoin="round"/>
<path d="M508 461 L513 461 L517 462" stroke="#e070e0" stroke-width="2.2" fill="none" stroke-linecap="round" stroke-linejoin="round"/>
<path d="M517 461 L519 462" stroke="#2020e0" stroke-width="1.8" fill="none" stroke-linecap="round" stroke-linejoin="round"/>
<path d="M514 467 L514 469" stroke="#e8303a" stroke-width="1.6" fill="none" stroke-linecap="round" stroke-linejoin="round"/>
<path d="M535 463 L536 468 L537 472" stroke="#b048b8" stroke-width="3.3" fill="none" stroke-linecap="round" stroke-linejoin="round"/>
<path d="M535 463 L536 468 L537 472" stroke="#e070e0" stroke-width="2.4" fill="none" stroke-linecap="round" stroke-linejoin="round"/>
<path d="M532 472 L535 473" stroke="#e8303a" stroke-width="1.8" fill="none" stroke-linecap="round" stroke-linejoin="round"/>
<path d="M538 475 L540 477" stroke="#e8303a" stroke-width="1.8" fill="none" stroke-linecap="round" stroke-linejoin="round"/>
<line x1="534.6" y1="268.2" x2="566.5" y2="270.3" stroke="#2a2a2a" stroke-width="0.8"/>
<line x1="545.2" y1="284.6" x2="584" y2="284" stroke="#2a2a2a" stroke-width="0.8"/>
<line x1="541" y1="302.3" x2="584" y2="293.3" stroke="#2a2a2a" stroke-width="0.8"/>
<line x1="532" y1="315.4" x2="573" y2="306" stroke="#2a2a2a" stroke-width="0.8"/>
<line x1="637.2" y1="250.7" x2="617.5" y2="251.1" stroke="#2a2a2a" stroke-width="0.8"/>
<line x1="647" y1="278.5" x2="635.6" y2="284.3" stroke="#2a2a2a" stroke-width="0.8"/>
<line x1="652" y1="289.5" x2="634" y2="285" stroke="#2a2a2a" stroke-width="0.8"/>
<line x1="598.9" y1="308.8" x2="643.1" y2="332.5" stroke="#2a2a2a" stroke-width="0.8"/>
<line x1="593" y1="326.7" x2="632.5" y2="352" stroke="#2a2a2a" stroke-width="0.8"/>
<line x1="527" y1="333.6" x2="560" y2="325.4" stroke="#2a2a2a" stroke-width="0.8"/>
<line x1="530.5" y1="355" x2="568" y2="341.8" stroke="#2a2a2a" stroke-width="0.8"/>
<line x1="533" y1="373" x2="573" y2="370.8" stroke="#2a2a2a" stroke-width="0.8"/>
<line x1="638.7" y1="377.9" x2="601" y2="372.1" stroke="#2a2a2a" stroke-width="0.8"/>
<line x1="637" y1="397.5" x2="587.9" y2="384.4" stroke="#2a2a2a" stroke-width="0.8"/>
<line x1="629.8" y1="414.6" x2="575" y2="417.6" stroke="#2a2a2a" stroke-width="0.8"/>
<line x1="516" y1="419.4" x2="582" y2="417.3" stroke="#2a2a2a" stroke-width="0.8"/>
<line x1="620.7" y1="429.7" x2="596.4" y2="434" stroke="#2a2a2a" stroke-width="0.8"/>
<line x1="547.8" y1="435.8" x2="547.8" y2="444.9" stroke="#2a2a2a" stroke-width="0.8"/>
<text x="544" y="260.3" class="f" font-size="9">C266<tspan font-size="5.1" dy="-3.4">ECL3</tspan></text>
<text x="581.6" y="249.8" class="f" font-size="9">C17<tspan font-size="5.1" dy="-3.4">NT</tspan></text>
<text x="639.8" y="252.3" class="f" font-size="9">E169<tspan font-size="5.1" dy="-3.4">ECL2</tspan></text>
<text x="498.6" y="273" class="f" font-size="9">E183<tspan font-size="5.1" dy="-3.4">ECL2</tspan></text>
<text x="640.8" y="266.4" class="f" font-size="9">H173<tspan font-size="5.1" dy="-3.4">ECL2</tspan></text>
<text x="650.7" y="280.6" class="f" font-size="9">D89<tspan font-size="5.1" dy="-3.4">ECL1</tspan></text>
<text x="494.6" y="288.3" class="f" font-size="9">D164<tspan font-size="5.1" dy="-3.4">&amp;</tspan><tspan dy="3.4">E165</tspan></text>
<text x="654" y="292.9" class="f" font-size="9">H87<tspan font-size="5.1" dy="-3.4">2.66</tspan></text>
<text x="606" y="303.3" class="f" font-size="9">D24<tspan font-size="5.1" dy="-3.4">NT</tspan></text>
<text x="506" y="309" class="f" font-size="9">E178<tspan font-size="5.1" dy="-3.4">4.52</tspan></text>
<text x="499" y="321.7" class="f" font-size="9">Y276<tspan font-size="5.1" dy="-3.4">7.35</tspan></text>
<text x="646" y="324" class="f" font-size="9">W91<tspan font-size="5.1" dy="-3.4">ECL1</tspan></text>
<text x="493.6" y="337.4" class="f" font-size="9">Y248<tspan font-size="5.1" dy="-3.4">6.51</tspan></text>
<text x="646" y="341.4" class="f" font-size="9">H277<tspan font-size="5.1" dy="-3.4">7.36</tspan></text>
<text x="635" y="359" class="f" font-size="9">Y106<tspan font-size="5.1" dy="-3.4">3.33</tspan></text>
<text x="497" y="360.7" class="f" font-size="9">Y110<tspan font-size="5.1" dy="-3.4">3.37</tspan></text>
<text x="496" y="380.4" class="f" font-size="9">N286<tspan font-size="5.1" dy="-3.4">7.45</tspan></text>
<text x="641.6" y="381" class="f" font-size="9">D71<tspan font-size="5.1" dy="-3.4">2.50</tspan></text>
<text x="639.6" y="400.4" class="f" font-size="9">D290<tspan font-size="5.1" dy="-3.4">7.49</tspan></text>
<text x="631" y="416.8" class="f" font-size="9">E59<tspan font-size="5.1" dy="-3.4">2.38</tspan></text>
<text x="484.4" y="424.4" class="f" font-size="9">R123<tspan font-size="5.1" dy="-3.4">3.50</tspan></text>
<text x="625.6" y="432.4" class="f" font-size="9">Q53<tspan font-size="5.1" dy="-3.4">1.60</tspan></text>
<text x="555.6" y="446" class="f" font-size="9">N58<tspan font-size="5.1" dy="-3.4">2.37</tspan></text>
<text x="538" y="456.8" class="f" font-size="9">R137<tspan font-size="5.1" dy="-3.4">ICL2</tspan></text>
<text x="484.4" y="462" class="f" font-size="9">N219<tspan font-size="5.1" dy="-3.4">ICL3</tspan></text>
<text x="544" y="473.4" class="f" font-size="9">E226<tspan font-size="5.1" dy="-3.4">6.29</tspan></text>
<text x="582.4" y="473.4" class="f" font-size="9">E299<tspan font-size="5.1" dy="-3.4">H8</tspan></text>
<line x1="38.6" y1="18" x2="38.6" y2="204.4" stroke="#000" stroke-width="1.6"/>
<line x1="37.8" y1="203.7" x2="225.8" y2="203.7" stroke="#000" stroke-width="1.6"/>
<line x1="33" y1="192" x2="38.6" y2="192" stroke="#000" stroke-width="1.5"/>
<text x="29" y="195.2" text-anchor="end" class="t">0</text>
<line x1="33" y1="161" x2="38.6" y2="161" stroke="#000" stroke-width="1.5"/>
<text x="29" y="164.2" text-anchor="end" class="t">50</text>
<line x1="33" y1="130" x2="38.6" y2="130" stroke="#000" stroke-width="1.5"/>
<text x="29" y="133.2" text-anchor="end" class="t">100</text>
<line x1="33" y1="99" x2="38.6" y2="99" stroke="#000" stroke-width="1.5"/>
<text x="29" y="102.2" text-anchor="end" class="t">150</text>
<line x1="33" y1="68" x2="38.6" y2="68" stroke="#000" stroke-width="1.5"/>
<text x="29" y="71.2" text-anchor="end" class="t">200</text>
<line x1="33" y1="37" x2="38.6" y2="37" stroke="#000" stroke-width="1.5"/>
<text x="29" y="40.2" text-anchor="end" class="t">250</text>
<line x1="38.6" y1="203.7" x2="38.6" y2="209.9" stroke="#000" stroke-width="1.5"/>
<text x="37.7" y="221.1" text-anchor="middle" class="t">-9.5</text>
<line x1="69.58" y1="203.7" x2="69.58" y2="209.9" stroke="#000" stroke-width="1.5"/>
<text x="68.67" y="221.1" text-anchor="middle" class="t">-9.0</text>
<line x1="100.55" y1="203.7" x2="100.55" y2="209.9" stroke="#000" stroke-width="1.5"/>
<text x="99.65" y="221.1" text-anchor="middle" class="t">-8.5</text>
<line x1="131.53" y1="203.7" x2="131.53" y2="209.9" stroke="#000" stroke-width="1.5"/>
<text x="130.62" y="221.1" text-anchor="middle" class="t">-8.0</text>
<line x1="162.5" y1="203.7" x2="162.5" y2="209.9" stroke="#000" stroke-width="1.5"/>
<text x="161.6" y="221.1" text-anchor="middle" class="t">-7.5</text>
<line x1="193.47" y1="203.7" x2="193.47" y2="209.9" stroke="#000" stroke-width="1.5"/>
<text x="192.57" y="221.1" text-anchor="middle" class="t">-7.0</text>
<line x1="224.45" y1="203.7" x2="224.45" y2="209.9" stroke="#000" stroke-width="1.5"/>
<text x="223.55" y="221.1" text-anchor="middle" class="t">-6.5</text>
<text x="127" y="232.2" text-anchor="middle" class="x">log[H<tspan font-size="5.5" dy="-3.9">+</tspan><tspan dy="3.9">]</tspan></text>
<text transform="translate(10.5,95.8) rotate(-90)" text-anchor="middle" class="y">RLU (% of WT)</text>
<line x1="42.6" y1="192" x2="221" y2="192" stroke="#000" stroke-width="1.6" stroke-dasharray="0 4" stroke-linecap="round"/>
<path d="M69.5 197.0 L70.2 196.7 L70.9 196.4 L71.6 196.2 L72.3 195.9 L73.0 195.6 L73.7 195.3 L74.4 195.0 L75.1 194.7 L75.8 194.4 L76.5 194.1 L77.2 193.8 L77.9 193.4 L78.6 193.1 L79.3 192.8 L80.0 192.5 L80.7 192.2 L81.4 191.8 L82.1 191.5 L82.8 191.2 L83.5 190.8 L84.2 190.5 L84.9 190.1 L85.6 189.8 L86.3 189.4 L87.0 189.1 L87.7 188.7 L88.4 188.3 L89.1 188.0 L89.8 187.6 L90.5 187.2 L91.2 186.8 L91.9 186.4 L92.6 186.1 L93.3 185.7 L94.0 185.3 L94.7 184.9 L95.4 184.5 L96.1 184.1 L96.8 183.6 L97.5 183.2 L98.2 182.8 L98.9 182.4 L99.6 181.9 L100.3 181.5 L101.0 181.1 L101.7 180.6 L102.4 180.2 L103.1 179.7 L103.8 179.3 L104.5 178.8 L105.2 178.3 L105.9 177.9 L106.6 177.4 L107.3 176.9 L108.0 176.4 L108.7 175.9 L109.4 175.4 L110.1 174.9 L110.8 174.4 L111.5 173.9 L112.2 173.4 L112.9 172.9 L113.6 172.3 L114.3 171.8 L115.0 171.3 L115.7 170.7 L116.4 170.2 L117.1 169.6 L117.8 169.0 L118.5 168.5 L119.2 167.9 L119.9 167.3 L120.6 166.7 L121.3 166.1 L122.0 165.6 L122.7 164.9 L123.4 164.3 L124.1 163.7 L124.8 163.1 L125.5 162.5 L126.2 161.8 L126.9 161.2 L127.6 160.5 L128.3 159.9 L129.0 159.2 L129.7 158.6 L130.4 157.9 L131.1 157.2 L131.8 156.5 L132.5 155.8 L133.2 155.1 L133.9 154.4 L134.6 153.7 L135.3 153.0 L136.0 152.2 L136.7 151.5 L137.4 150.7 L138.1 150.0 L138.8 149.2 L139.5 148.5 L140.2 147.7 L140.9 146.9 L141.6 146.1 L142.3 145.3 L143.0 144.5 L143.7 143.7 L144.4 142.8 L145.1 142.0 L145.8 141.2 L146.5 140.3 L147.2 139.5 L147.9 138.6 L148.6 137.7 L149.3 136.8 L150.0 135.9 L150.7 135.0 L151.4 134.1 L152.1 133.2 L152.8 132.3 L153.5 131.3 L154.2 130.4 L154.9 129.4 L155.6 128.5 L156.3 127.5 L157.0 126.5 L157.7 125.6 L158.4 124.6 L159.1 123.6 L159.8 122.6 L160.5 121.6 L161.2 120.5 L161.9 119.5 L162.6 118.5 L163.3 117.4 L164.0 116.4 L164.7 115.4 L165.4 114.3 L166.1 113.3 L166.8 112.2 L167.5 111.2 L168.2 110.1 L168.9 109.0 L169.6 108.0 L170.3 106.9 L171.0 105.9 L171.7 104.9 L172.4 103.8 L173.1 102.8 L173.8 101.8 L174.5 100.8 L175.2 99.8 L175.9 98.8 L176.6 97.9 L177.3 97.0 L178.0 96.0 L178.7 95.1 L179.4 94.3 L180.1 93.4 L180.8 92.6 L181.5 91.8 L182.2 91.1 L182.9 90.4 L183.6 89.7 L184.3 89.0 L185.0 88.4 L185.7 87.8 L186.4 87.2 L187.1 86.7 L187.8 86.2 L188.5 85.7 L189.2 85.2 L189.9 84.8 L190.6 84.4 L191.3 84.1 L192.0 83.8 L192.7 83.4 L193.4 83.2 L194.1 82.9 L194.8 82.7 L195.5 82.4 L196.2 82.2 L196.9 82.0 L197.6 81.9 L198.3 81.7 L199.0 81.6" fill="none" stroke="#10bf10" stroke-width="1.9"/>
<circle cx="69.58" cy="196.96" r="2.88" fill="#10bf10"/>
<path d="M106.74 167.82V172.78M103.38 167.82H110.1M103.38 172.78H110.1" stroke="#10bf10" stroke-width="1.2" fill="none"/>
<circle cx="106.74" cy="170.3" r="2.88" fill="#10bf10"/>
<path d="M125.33 158.52V164.72M121.97 158.52H128.69M121.97 164.72H128.69" stroke="#10bf10" stroke-width="1.2" fill="none"/>
<circle cx="125.33" cy="161.62" r="2.88" fill="#10bf10"/>
<circle cx="143.92" cy="142.03" r="2.88" fill="#10bf10"/>
<circle cx="162.5" cy="118.84" r="2.88" fill="#10bf10"/>
<path d="M181.08 82.51V87.47M177.72 82.51H184.44M177.72 87.47H184.44" stroke="#10bf10" stroke-width="1.2" fill="none"/>
<circle cx="181.08" cy="84.99" r="2.88" fill="#10bf10"/>
<path d="M199.67 79.41V91.81M196.31 79.41H203.03M196.31 91.81H203.03" stroke="#10bf10" stroke-width="1.2" fill="none"/>
<circle cx="199.67" cy="85.61" r="2.88" fill="#10bf10"/>
<path d="M69.5 184.7 L70.2 184.7 L70.9 184.7 L71.6 184.7 L72.3 184.6 L73.0 184.6 L73.7 184.6 L74.4 184.5 L75.1 184.5 L75.8 184.5 L76.5 184.4 L77.2 184.4 L77.9 184.4 L78.6 184.3 L79.3 184.3 L80.0 184.2 L80.7 184.2 L81.4 184.1 L82.1 184.1 L82.8 184.0 L83.5 184.0 L84.2 183.9 L84.9 183.9 L85.6 183.8 L86.3 183.8 L87.0 183.7 L87.7 183.7 L88.4 183.6 L89.1 183.5 L89.8 183.5 L90.5 183.4 L91.2 183.3 L91.9 183.2 L92.6 183.2 L93.3 183.1 L94.0 183.0 L94.7 182.9 L95.4 182.8 L96.1 182.7 L96.8 182.6 L97.5 182.5 L98.2 182.4 L98.9 182.3 L99.6 182.2 L100.3 182.1 L101.0 182.0 L101.7 181.8 L102.4 181.7 L103.1 181.6 L103.8 181.4 L104.5 181.3 L105.2 181.2 L105.9 181.0 L106.6 180.9 L107.3 180.7 L108.0 180.5 L108.7 180.3 L109.4 180.2 L110.1 180.0 L110.8 179.8 L111.5 179.6 L112.2 179.4 L112.9 179.2 L113.6 179.0 L114.3 178.7 L115.0 178.5 L115.7 178.3 L116.4 178.0 L117.1 177.7 L117.8 177.5 L118.5 177.2 L119.2 176.9 L119.9 176.6 L120.6 176.3 L121.3 176.0 L122.0 175.6 L122.7 175.3 L123.4 174.9 L124.1 174.6 L124.8 174.2 L125.5 173.8 L126.2 173.4 L126.9 173.0 L127.6 172.6 L128.3 172.1 L129.0 171.6 L129.7 171.2 L130.4 170.7 L131.1 170.1 L131.8 169.6 L132.5 169.1 L133.2 168.5 L133.9 167.9 L134.6 167.3 L135.3 166.7 L136.0 166.0 L136.7 165.3 L137.4 164.6 L138.1 163.9 L138.8 163.2 L139.5 162.4 L140.2 161.6 L140.9 160.7 L141.6 159.9 L142.3 159.0 L143.0 158.1 L143.7 157.1 L144.4 156.2 L145.1 155.1 L145.8 154.1 L146.5 153.0 L147.2 151.9 L147.9 150.7 L148.6 149.5 L149.3 148.3 L150.0 147.0 L150.7 145.7 L151.4 144.3 L152.1 142.9 L152.8 141.4 L153.5 139.9 L154.2 138.3 L154.9 136.7 L155.6 135.1 L156.3 133.3 L157.0 131.6 L157.7 129.7 L158.4 127.9 L159.1 125.9 L159.8 124.0 L160.5 121.9 L161.2 119.8 L161.9 117.7 L162.6 115.5 L163.3 113.3 L164.0 111.0 L164.7 108.7 L165.4 106.3 L166.1 104.0 L166.8 101.6 L167.5 99.2 L168.2 96.8 L168.9 94.4 L169.6 92.0 L170.3 89.7 L171.0 87.4 L171.7 85.1 L172.4 83.0 L173.1 80.9 L173.8 78.9 L174.5 77.0 L175.2 75.2 L175.9 73.5 L176.6 72.0 L177.3 70.5 L178.0 69.2 L178.7 68.0 L179.4 66.9 L180.1 65.9 L180.8 65.0 L181.5 64.2 L182.2 63.4 L182.9 62.8 L183.6 62.2 L184.3 61.8 L185.0 61.3 L185.7 60.9 L186.4 60.6 L187.1 60.3 L187.8 60.1 L188.5 59.8 L189.2 59.6 L189.9 59.5 L190.6 59.3 L191.3 59.2 L192.0 59.1 L192.7 59.0 L193.4 58.9 L194.1 58.9 L194.8 58.8 L195.5 58.7 L196.2 58.7 L196.9 58.7 L197.6 58.6 L198.3 58.6 L199.0 58.6" fill="none" stroke="#f2424f" stroke-width="1.9"/>
<rect x="104.22" y="164.68" width="5.04" height="5.04" fill="#f2424f"/>
<rect x="122.81" y="172.12" width="5.04" height="5.04" fill="#f2424f"/>
<rect x="141.4" y="149.49" width="5.04" height="5.04" fill="#f2424f"/>
<rect x="159.98" y="120.66" width="5.04" height="5.04" fill="#f2424f"/>
<path d="M181.08 52.5V71.1M177.72 52.5H184.44M177.72 71.1H184.44" stroke="#f2424f" stroke-width="1.2" fill="none"/>
<rect x="178.56" y="59.28" width="5.04" height="5.04" fill="#f2424f"/>
<path d="M199.67 63.04V68M196.31 63.04H203.03M196.31 68H203.03" stroke="#f2424f" stroke-width="1.2" fill="none"/>
<rect x="197.15" y="63" width="5.04" height="5.04" fill="#f2424f"/>
<path d="M69.5 187.6 L70.2 187.6 L70.9 187.6 L71.6 187.6 L72.3 187.6 L73.0 187.6 L73.7 187.6 L74.4 187.6 L75.1 187.6 L75.8 187.6 L76.5 187.6 L77.2 187.6 L77.9 187.6 L78.6 187.5 L79.3 187.5 L80.0 187.5 L80.7 187.5 L81.4 187.5 L82.1 187.5 L82.8 187.5 L83.5 187.5 L84.2 187.5 L84.9 187.5 L85.6 187.5 L86.3 187.5 L87.0 187.5 L87.7 187.5 L88.4 187.5 L89.1 187.5 L89.8 187.5 L90.5 187.5 L91.2 187.5 L91.9 187.5 L92.6 187.5 L93.3 187.5 L94.0 187.5 L94.7 187.5 L95.4 187.5 L96.1 187.5 L96.8 187.5 L97.5 187.5 L98.2 187.5 L98.9 187.5 L99.6 187.5 L100.3 187.5 L101.0 187.4 L101.7 187.4 L102.4 187.4 L103.1 187.4 L103.8 187.4 L104.5 187.4 L105.2 187.4 L105.9 187.4 L106.6 187.3 L107.3 187.3 L108.0 187.3 L108.7 187.3 L109.4 187.3 L110.1 187.3 L110.8 187.2 L111.5 187.2 L112.2 187.2 L112.9 187.2 L113.6 187.1 L114.3 187.1 L115.0 187.0 L115.7 187.0 L116.4 187.0 L117.1 186.9 L117.8 186.9 L118.5 186.8 L119.2 186.8 L119.9 186.7 L120.6 186.6 L121.3 186.6 L122.0 186.5 L122.7 186.4 L123.4 186.3 L124.1 186.2 L124.8 186.1 L125.5 186.0 L126.2 185.9 L126.9 185.8 L127.6 185.6 L128.3 185.5 L129.0 185.3 L129.7 185.2 L130.4 185.0 L131.1 184.8 L131.8 184.6 L132.5 184.3 L133.2 184.1 L133.9 183.8 L134.6 183.5 L135.3 183.2 L136.0 182.9 L136.7 182.6 L137.4 182.2 L138.1 181.8 L138.8 181.3 L139.5 180.9 L140.2 180.4 L140.9 179.8 L141.6 179.3 L142.3 178.6 L143.0 178.0 L143.7 177.3 L144.4 176.5 L145.1 175.7 L145.8 174.8 L146.5 173.9 L147.2 172.9 L147.9 171.8 L148.6 170.7 L149.3 169.5 L150.0 168.2 L150.7 166.9 L151.4 165.4 L152.1 163.9 L152.8 162.3 L153.5 160.5 L154.2 158.7 L154.9 156.8 L155.6 154.8 L156.3 152.6 L157.0 150.4 L157.7 148.1 L158.4 145.7 L159.1 143.1 L159.8 140.5 L160.5 137.8 L161.2 134.9 L161.9 132.0 L162.6 129.1 L163.3 126.0 L164.0 122.9 L164.7 119.7 L165.4 116.5 L166.1 113.3 L166.8 110.1 L167.5 106.8 L168.2 103.6 L168.9 100.3 L169.6 97.1 L170.3 94.0 L171.0 90.9 L171.7 87.9 L172.4 84.9 L173.1 82.1 L173.8 79.3 L174.5 76.6 L175.2 74.1 L175.9 71.6 L176.6 69.3 L177.3 67.1 L178.0 65.0 L178.7 63.0 L179.4 61.1 L180.1 59.3 L180.8 57.7 L181.5 56.1 L182.2 54.7 L182.9 53.3 L183.6 52.1 L184.3 50.9 L185.0 49.8 L185.7 48.8 L186.4 47.9 L187.1 47.0 L187.8 46.2 L188.5 45.5 L189.2 44.8 L189.9 44.2 L190.6 43.6 L191.3 43.1 L192.0 42.6 L192.7 42.2 L193.4 41.8 L194.1 41.4 L194.8 41.1 L195.5 40.8 L196.2 40.5 L196.9 40.3 L197.6 40.0 L198.3 39.8 L199.0 39.6" fill="none" stroke="#ff8000" stroke-width="1.9"/>
<path d="M69.58 191.12L72.94 197L66.22 197Z" fill="#ff8000"/>
<path d="M88.16 190.76V194.48M84.8 190.76H91.52M84.8 194.48H91.52" stroke="#ff8000" stroke-width="1.2" fill="none"/>
<path d="M88.16 189.26L91.52 195.14L84.8 195.14Z" fill="#ff8000"/>
<path d="M125.33 184.3L128.69 190.18L121.97 190.18Z" fill="#ff8000"/>
<path d="M143.92 169.05L147.28 174.93L140.56 174.93Z" fill="#ff8000"/>
<path d="M162.5 130.36L165.86 136.24L159.14 136.24Z" fill="#ff8000"/>
<path d="M181.08 50.64V65.52M177.72 50.64H184.44M177.72 65.52H184.44" stroke="#ff8000" stroke-width="1.2" fill="none"/>
<path d="M181.08 54.72L184.44 60.6L177.72 60.6Z" fill="#ff8000"/>
<path d="M199.67 30.18V52.5M196.31 30.18H203.03M196.31 52.5H203.03" stroke="#ff8000" stroke-width="1.2" fill="none"/>
<path d="M199.67 37.98L203.03 43.86L196.31 43.86Z" fill="#ff8000"/>
<path d="M69.5 187.0 L70.2 187.0 L70.9 187.0 L71.6 187.0 L72.3 187.0 L73.0 187.0 L73.7 186.9 L74.4 186.9 L75.1 186.9 L75.8 186.9 L76.5 186.9 L77.2 186.9 L77.9 186.9 L78.6 186.9 L79.3 186.9 L80.0 186.8 L80.7 186.8 L81.4 186.8 L82.1 186.8 L82.8 186.8 L83.5 186.8 L84.2 186.7 L84.9 186.7 L85.6 186.7 L86.3 186.7 L87.0 186.6 L87.7 186.6 L88.4 186.6 L89.1 186.6 L89.8 186.5 L90.5 186.5 L91.2 186.5 L91.9 186.4 L92.6 186.4 L93.3 186.4 L94.0 186.3 L94.7 186.3 L95.4 186.2 L96.1 186.2 L96.8 186.1 L97.5 186.1 L98.2 186.0 L98.9 186.0 L99.6 185.9 L100.3 185.8 L101.0 185.8 L101.7 185.7 L102.4 185.6 L103.1 185.5 L103.8 185.5 L104.5 185.4 L105.2 185.3 L105.9 185.2 L106.6 185.1 L107.3 185.0 L108.0 184.9 L108.7 184.7 L109.4 184.6 L110.1 184.5 L110.8 184.4 L111.5 184.2 L112.2 184.1 L112.9 183.9 L113.6 183.7 L114.3 183.6 L115.0 183.4 L115.7 183.2 L116.4 183.0 L117.1 182.8 L117.8 182.6 L118.5 182.3 L119.2 182.1 L119.9 181.8 L120.6 181.6 L121.3 181.3 L122.0 181.0 L122.7 180.7 L123.4 180.4 L124.1 180.1 L124.8 179.8 L125.5 179.4 L126.2 179.1 L126.9 178.7 L127.6 178.3 L128.3 177.9 L129.0 177.5 L129.7 177.0 L130.4 176.6 L131.1 176.1 L131.8 175.6 L132.5 175.1 L133.2 174.6 L133.9 174.1 L134.6 173.6 L135.3 173.0 L136.0 172.4 L136.7 171.8 L137.4 171.2 L138.1 170.6 L138.8 170.0 L139.5 169.3 L140.2 168.7 L140.9 168.0 L141.6 167.3 L142.3 166.6 L143.0 165.9 L143.7 165.2 L144.4 164.5 L145.1 163.8 L145.8 163.0 L146.5 162.3 L147.2 161.6 L147.9 160.8 L148.6 160.1 L149.3 159.3 L150.0 158.6 L150.7 157.8 L151.4 157.1 L152.1 156.3 L152.8 155.6 L153.5 154.8 L154.2 154.1 L154.9 153.4 L155.6 152.6 L156.3 151.9 L157.0 151.2 L157.7 150.6 L158.4 149.9 L159.1 149.2 L159.8 148.6 L160.5 147.9 L161.2 147.3 L161.9 146.7 L162.6 146.1 L163.3 145.5 L164.0 144.9 L164.7 144.4 L165.4 143.8 L166.1 143.3 L166.8 142.8 L167.5 142.3 L168.2 141.8 L168.9 141.4 L169.6 140.9 L170.3 140.5 L171.0 140.1 L171.7 139.7 L172.4 139.3 L173.1 138.9 L173.8 138.6 L174.5 138.3 L175.2 137.9 L175.9 137.6 L176.6 137.3 L177.3 137.0 L178.0 136.7 L178.7 136.5 L179.4 136.2 L180.1 136.0 L180.8 135.7 L181.5 135.5 L182.2 135.3 L182.9 135.1 L183.6 134.9 L184.3 134.7 L185.0 134.6 L185.7 134.4 L186.4 134.2 L187.1 134.1 L187.8 133.9 L188.5 133.8 L189.2 133.7 L189.9 133.5 L190.6 133.4 L191.3 133.3 L192.0 133.2 L192.7 133.1 L193.4 133.0 L194.1 132.9 L194.8 132.8 L195.5 132.7 L196.2 132.6 L196.9 132.6 L197.6 132.5 L198.3 132.4 L199.0 132.4" fill="none" stroke="#000" stroke-width="1.9"/>
<circle cx="69.58" cy="192" r="2.88" fill="#000"/>
<circle cx="88.16" cy="190.14" r="2.88" fill="#000"/>
<circle cx="106.74" cy="178.98" r="2.88" fill="#000"/>
<circle cx="125.33" cy="182.39" r="2.88" fill="#000"/>
<circle cx="143.92" cy="164.1" r="2.88" fill="#000"/>
<path d="M162.5 144.26V151.7M159.14 144.26H165.86M159.14 151.7H165.86" stroke="#000" stroke-width="1.2" fill="none"/>
<circle cx="162.5" cy="147.98" r="2.88" fill="#000"/>
<circle cx="181.08" cy="129.63" r="2.88" fill="#000"/>
<circle cx="199.67" cy="136.82" r="2.88" fill="#000"/>
<line x1="47" y1="35.1" x2="61" y2="35.1" stroke="#000" stroke-width="2"/>
<circle cx="54" cy="35.1" r="2.76" fill="#000"/>
<text x="64.6" y="39" class="l" font-size="9.5">WT</text>
<line x1="47" y1="49" x2="61" y2="49" stroke="#ff8000" stroke-width="2"/>
<path d="M54 45.78L57.22 51.41L50.78 51.41Z" fill="#ff8000"/>
<text x="64.6" y="52.9" class="l" font-size="9.5">H87F</text>
<text x="98" y="52.9" class="l" font-size="9.5">-0.3</text>
<line x1="47" y1="65" x2="61" y2="65" stroke="#f2424f" stroke-width="2"/>
<rect x="51.59" y="62.59" width="4.83" height="4.83" fill="#f2424f"/>
<text x="64.6" y="68.9" class="l" font-size="9.5">H173F</text>
<text x="98" y="68.9" class="l" font-size="9.5">-0.2</text>
<line x1="47" y1="81" x2="61" y2="81" stroke="#10bf10" stroke-width="2"/>
<circle cx="54" cy="81" r="2.76" fill="#10bf10"/>
<text x="64.6" y="84.9" class="l" font-size="9.5">H277F</text>
<text x="101" y="84.9" class="l" font-size="9.5">-0.02</text>
<text x="98.7" y="32.8" font-size="9.2"><tspan font-size="7.6">Δ</tspan>pH<tspan font-size="5.8" dx="1" dy="3.6">50</tspan></text>
<line x1="262" y1="14" x2="262" y2="206.3" stroke="#000" stroke-width="1.6"/>
<line x1="261.2" y1="205.6" x2="453.8" y2="205.6" stroke="#000" stroke-width="1.6"/>
<line x1="256.4" y1="193.6" x2="262" y2="193.6" stroke="#000" stroke-width="1.5"/>
<text x="254.2" y="196.8" text-anchor="end" class="t">0</text>
<line x1="256.4" y1="168" x2="262" y2="168" stroke="#000" stroke-width="1.5"/>
<text x="254.2" y="171.2" text-anchor="end" class="t">20</text>
<line x1="256.4" y1="142.4" x2="262" y2="142.4" stroke="#000" stroke-width="1.5"/>
<text x="254.2" y="145.6" text-anchor="end" class="t">40</text>
<line x1="256.4" y1="116.8" x2="262" y2="116.8" stroke="#000" stroke-width="1.5"/>
<text x="254.2" y="120" text-anchor="end" class="t">60</text>
<line x1="256.4" y1="91.2" x2="262" y2="91.2" stroke="#000" stroke-width="1.5"/>
<text x="254.2" y="94.4" text-anchor="end" class="t">80</text>
<line x1="256.4" y1="65.6" x2="262" y2="65.6" stroke="#000" stroke-width="1.5"/>
<text x="254.2" y="68.8" text-anchor="end" class="t">100</text>
<line x1="256.4" y1="40" x2="262" y2="40" stroke="#000" stroke-width="1.5"/>
<text x="254.2" y="43.2" text-anchor="end" class="t">120</text>
<line x1="256.4" y1="14.4" x2="262" y2="14.4" stroke="#000" stroke-width="1.5"/>
<text x="254.2" y="17.6" text-anchor="end" class="t">140</text>
<line x1="262" y1="205.6" x2="262" y2="211.8" stroke="#000" stroke-width="1.5"/>
<text x="261.1" y="222.9" text-anchor="middle" class="t">-9.5</text>
<line x1="293.85" y1="205.6" x2="293.85" y2="211.8" stroke="#000" stroke-width="1.5"/>
<text x="292.95" y="222.9" text-anchor="middle" class="t">-9.0</text>
<line x1="325.7" y1="205.6" x2="325.7" y2="211.8" stroke="#000" stroke-width="1.5"/>
<text x="324.8" y="222.9" text-anchor="middle" class="t">-8.5</text>
<line x1="357.55" y1="205.6" x2="357.55" y2="211.8" stroke="#000" stroke-width="1.5"/>
<text x="356.65" y="222.9" text-anchor="middle" class="t">-8.0</text>
<line x1="389.4" y1="205.6" x2="389.4" y2="211.8" stroke="#000" stroke-width="1.5"/>
<text x="388.5" y="222.9" text-anchor="middle" class="t">-7.5</text>
<line x1="421.25" y1="205.6" x2="421.25" y2="211.8" stroke="#000" stroke-width="1.5"/>
<text x="420.35" y="222.9" text-anchor="middle" class="t">-7.0</text>
<line x1="453.1" y1="205.6" x2="453.1" y2="211.8" stroke="#000" stroke-width="1.5"/>
<text x="452.2" y="222.9" text-anchor="middle" class="t">-6.5</text>
<text x="358.9" y="233.6" text-anchor="middle" class="x">log[H<tspan font-size="5.5" dy="-3.9">+</tspan><tspan dy="3.9">]</tspan></text>
<text transform="translate(237.4,111.1) rotate(-90)" text-anchor="middle" class="y">RLU (% of WT)</text>
<path d="M274.6 190.6 L275.3 190.6 L276.0 190.6 L276.7 190.6 L277.4 190.6 L278.1 190.6 L278.8 190.6 L279.5 190.6 L280.2 190.6 L280.9 190.6 L281.6 190.6 L282.3 190.6 L283.0 190.6 L283.7 190.6 L284.4 190.6 L285.1 190.6 L285.8 190.6 L286.5 190.6 L287.2 190.6 L287.9 190.6 L288.6 190.5 L289.3 190.5 L290.0 190.5 L290.7 190.5 L291.4 190.5 L292.1 190.5 L292.8 190.5 L293.5 190.5 L294.2 190.5 L294.9 190.4 L295.6 190.4 L296.3 190.4 L297.0 190.4 L297.7 190.3 L298.4 190.3 L299.1 190.2 L299.8 190.2 L300.5 190.1 L301.2 190.1 L301.9 190.0 L302.6 189.9 L303.3 189.8 L304.0 189.7 L304.7 189.5 L305.4 189.4 L306.1 189.2 L306.8 189.0 L307.5 188.7 L308.2 188.4 L308.9 188.1 L309.6 187.7 L310.3 187.3 L311.0 186.8 L311.7 186.2 L312.4 185.5 L313.1 184.8 L313.8 183.9 L314.5 182.9 L315.2 181.8 L315.9 180.5 L316.6 179.1 L317.3 177.5 L318.0 175.6 L318.7 173.6 L319.4 171.4 L320.1 168.9 L320.8 166.2 L321.5 163.3 L322.2 160.2 L322.9 156.9 L323.6 153.5 L324.3 150.1 L325.0 146.6 L325.7 143.2 L326.4 139.8 L327.1 136.7 L327.8 133.7 L328.5 130.9 L329.2 128.4 L329.9 126.1 L330.6 124.1 L331.3 122.4 L332.0 120.9 L332.7 119.6 L333.4 118.5 L334.1 117.5 L334.8 116.8 L335.5 116.1 L336.2 115.6 L336.9 115.1 L337.6 114.7 L338.3 114.4 L339.0 114.2 L339.7 113.9 L340.4 113.8 L341.1 113.6 L341.8 113.5 L342.5 113.4 L343.2 113.3 L343.9 113.3 L344.6 113.2 L345.3 113.2 L346.0 113.1 L346.7 113.1 L347.4 113.1 L348.1 113.1 L348.8 113.0 L349.5 113.0 L350.2 113.0 L350.9 113.0 L351.6 113.0 L352.3 113.0 L353.0 113.0 L353.7 113.0 L354.4 113.0 L355.1 113.0 L355.8 113.0 L356.5 113.0 L357.2 113.0 L357.9 113.0 L358.6 113.0 L359.3 113.0 L360.0 113.0 L360.7 113.0 L361.4 113.0 L362.1 113.0 L362.8 113.0 L363.5 113.0 L364.2 113.0 L364.9 113.0 L365.6 113.0 L366.3 113.0 L367.0 113.0 L367.7 113.0 L368.4 113.0 L369.1 113.0 L369.8 113.0 L370.5 113.0 L371.2 113.0 L371.9 113.0 L372.6 113.0 L373.3 113.0 L374.0 113.0 L374.7 113.0 L375.4 113.0 L376.1 113.0 L376.8 113.0 L377.5 113.0 L378.2 113.0 L378.9 113.0 L379.6 113.0 L380.3 113.0 L381.0 113.0 L381.7 113.0 L382.4 113.0 L383.1 113.0 L383.8 113.0 L384.5 113.0 L385.2 113.0 L385.9 113.0 L386.6 113.0 L387.3 113.0 L388.0 113.0 L388.7 113.0 L389.4 113.0 L390.1 113.0 L390.8 113.0 L391.5 113.0 L392.2 113.0 L392.9 113.0 L393.6 113.0 L394.3 113.0 L395.0 113.0 L395.7 113.0 L396.4 113.0 L397.1 113.0 L397.8 113.0 L398.5 113.0 L399.2 113.0 L399.9 113.0 L400.6 113.0 L401.3 113.0 L402.0 113.0 L402.7 113.0 L403.4 113.0 L404.1 113.0 L404.8 113.0 L405.5 113.0 L406.2 113.0 L406.9 113.0 L407.6 113.0 L408.3 113.0 L409.0 113.0 L409.7 113.0 L410.4 113.0 L411.1 113.0 L411.8 113.0 L412.5 113.0 L413.2 113.0 L413.9 113.0 L414.6 113.0 L415.3 113.0 L416.0 113.0 L416.7 113.0 L417.4 113.0 L418.1 113.0 L418.8 113.0 L419.5 113.0 L420.2 113.0 L420.9 113.0 L421.6 113.0 L422.3 113.0 L423.0 113.0 L423.7 113.0 L424.4 113.0 L425.1 113.0 L425.8 113.0 L426.5 113.0 L427.2 113.0 L427.9 113.0 L428.6 113.0 L429.3 113.0 L430.0 113.0 L430.7 113.0 L431.4 113.0 L432.1 113.0 L432.8 113.0 L433.5 113.0 L434.2 113.0 L434.9 113.0 L435.6 113.0 L436.3 113.0 L437.0 113.0 L437.7 113.0 L438.4 113.0 L439.1 113.0 L439.8 113.0 L440.5 113.0 L441.2 113.0 L441.9 113.0 L442.6 113.0 L443.3 113.0 L444.0 113.0 L444.7 113.0 L445.4 113.0 L446.1 113.0 L446.8 113.0" fill="none" stroke="#10b878" stroke-width="2.0"/>
<path d="M274.74 194.54L278.24 188.41L271.24 188.41Z" fill="#10b878"/>
<path d="M293.85 193.9L297.35 187.78L290.35 187.78Z" fill="#10b878"/>
<path d="M312.96 186.86L316.46 180.73L309.46 180.73Z" fill="#10b878"/>
<path d="M332.07 124.52L335.57 118.4L328.57 118.4Z" fill="#10b878"/>
<path d="M370.29 99.82L373.79 93.69L366.79 93.69Z" fill="#10b878"/>
<path d="M389.4 118.12L392.9 112L385.9 112Z" fill="#10b878"/>
<path d="M408.51 114.54L412.01 108.41L405.01 108.41Z" fill="#10b878"/>
<path d="M427.62 130.67L431.12 124.54L424.12 124.54Z" fill="#10b878"/>
<path d="M446.73 123.76L450.23 117.63L443.23 117.63Z" fill="#10b878"/>
<path d="M274.6 190.6 L275.3 190.6 L276.0 190.6 L276.7 190.6 L277.4 190.6 L278.1 190.6 L278.8 190.6 L279.5 190.6 L280.2 190.6 L280.9 190.6 L281.6 190.6 L282.3 190.6 L283.0 190.6 L283.7 190.6 L284.4 190.6 L285.1 190.6 L285.8 190.6 L286.5 190.6 L287.2 190.6 L287.9 190.6 L288.6 190.6 L289.3 190.6 L290.0 190.6 L290.7 190.6 L291.4 190.6 L292.1 190.6 L292.8 190.6 L293.5 190.6 L294.2 190.6 L294.9 190.6 L295.6 190.6 L296.3 190.6 L297.0 190.6 L297.7 190.6 L298.4 190.6 L299.1 190.5 L299.8 190.5 L300.5 190.5 L301.2 190.5 L301.9 190.4 L302.6 190.4 L303.3 190.4 L304.0 190.3 L304.7 190.3 L305.4 190.2 L306.1 190.1 L306.8 190.1 L307.5 190.0 L308.2 189.8 L308.9 189.7 L309.6 189.5 L310.3 189.3 L311.0 189.1 L311.7 188.9 L312.4 188.6 L313.1 188.2 L313.8 187.8 L314.5 187.3 L315.2 186.8 L315.9 186.2 L316.6 185.5 L317.3 184.7 L318.0 183.7 L318.7 182.7 L319.4 181.5 L320.1 180.1 L320.8 178.6 L321.5 176.9 L322.2 175.1 L322.9 173.1 L323.6 170.8 L324.3 168.4 L325.0 165.9 L325.7 163.2 L326.4 160.3 L327.1 157.3 L327.8 154.2 L328.5 151.1 L329.2 147.9 L329.9 144.7 L330.6 141.6 L331.3 138.5 L332.0 135.5 L332.7 132.6 L333.4 129.9 L334.1 127.3 L334.8 124.9 L335.5 122.6 L336.2 120.5 L336.9 118.6 L337.6 116.8 L338.3 115.2 L339.0 113.8 L339.7 112.5 L340.4 111.3 L341.1 110.2 L341.8 109.3 L342.5 108.5 L343.2 107.7 L343.9 107.1 L344.6 106.5 L345.3 106.0 L346.0 105.5 L346.7 105.1 L347.4 104.8 L348.1 104.5 L348.8 104.2 L349.5 104.0 L350.2 103.8 L350.9 103.6 L351.6 103.4 L352.3 103.3 L353.0 103.2 L353.7 103.1 L354.4 103.0 L355.1 102.9 L355.8 102.8 L356.5 102.8 L357.2 102.7 L357.9 102.7 L358.6 102.6 L359.3 102.6 L360.0 102.6 L360.7 102.5 L361.4 102.5 L362.1 102.5 L362.8 102.5 L363.5 102.5 L364.2 102.5 L364.9 102.4 L365.6 102.4 L366.3 102.4 L367.0 102.4 L367.7 102.4 L368.4 102.4 L369.1 102.4 L369.8 102.4 L370.5 102.4 L371.2 102.4 L371.9 102.4 L372.6 102.4 L373.3 102.4 L374.0 102.4 L374.7 102.4 L375.4 102.4 L376.1 102.4 L376.8 102.4 L377.5 102.4 L378.2 102.4 L378.9 102.4 L379.6 102.4 L380.3 102.4 L381.0 102.4 L381.7 102.4 L382.4 102.4 L383.1 102.4 L383.8 102.4 L384.5 102.4 L385.2 102.4 L385.9 102.4 L386.6 102.4 L387.3 102.4 L388.0 102.4 L388.7 102.4 L389.4 102.4 L390.1 102.4 L390.8 102.4 L391.5 102.4 L392.2 102.4 L392.9 102.4 L393.6 102.4 L394.3 102.4 L395.0 102.4 L395.7 102.4 L396.4 102.4 L397.1 102.4 L397.8 102.4 L398.5 102.4 L399.2 102.4 L399.9 102.4 L400.6 102.4 L401.3 102.4 L402.0 102.4 L402.7 102.4 L403.4 102.4 L404.1 102.4 L404.8 102.4 L405.5 102.4 L406.2 102.4 L406.9 102.4 L407.6 102.4 L408.3 102.4 L409.0 102.4 L409.7 102.4 L410.4 102.4 L411.1 102.4 L411.8 102.4 L412.5 102.4 L413.2 102.4 L413.9 102.4 L414.6 102.4 L415.3 102.4 L416.0 102.4 L416.7 102.4 L417.4 102.4 L418.1 102.4 L418.8 102.4 L419.5 102.4 L420.2 102.4 L420.9 102.4 L421.6 102.4 L422.3 102.4 L423.0 102.4 L423.7 102.4 L424.4 102.4 L425.1 102.4 L425.8 102.4 L426.5 102.4 L427.2 102.4 L427.9 102.4 L428.6 102.4 L429.3 102.4 L430.0 102.4 L430.7 102.4 L431.4 102.4 L432.1 102.4 L432.8 102.4 L433.5 102.4 L434.2 102.4 L434.9 102.4 L435.6 102.4 L436.3 102.4 L437.0 102.4 L437.7 102.4 L438.4 102.4 L439.1 102.4 L439.8 102.4 L440.5 102.4 L441.2 102.4 L441.9 102.4 L442.6 102.4 L443.3 102.4 L444.0 102.4 L444.7 102.4 L445.4 102.4 L446.1 102.4 L446.8 102.4" fill="none" stroke="#9a00ee" stroke-width="2.0"/>
<path d="M274.74 187.54L278.24 193.66L271.24 193.66Z" fill="#9a00ee"/>
<path d="M293.85 187.54L297.35 193.66L290.35 193.66Z" fill="#9a00ee"/>
<path d="M312.96 186.26L316.46 192.38L309.46 192.38Z" fill="#9a00ee"/>
<path d="M332.07 128.15L335.57 134.27L328.57 134.27Z" fill="#9a00ee"/>
<path d="M351.18 97.86V108.1M347.68 97.86H354.68M347.68 108.1H354.68" stroke="#9a00ee" stroke-width="1.2" fill="none"/>
<path d="M351.18 99.48L354.68 105.6L347.68 105.6Z" fill="#9a00ee"/>
<path d="M370.29 83.86L373.79 89.98L366.79 89.98Z" fill="#9a00ee"/>
<path d="M389.4 95.81V103.49M385.9 95.81H392.9M385.9 103.49H392.9" stroke="#9a00ee" stroke-width="1.2" fill="none"/>
<path d="M389.4 96.15L392.9 102.27L385.9 102.27Z" fill="#9a00ee"/>
<path d="M408.51 97.6V105.28M405.01 97.6H412.01M405.01 105.28H412.01" stroke="#9a00ee" stroke-width="1.2" fill="none"/>
<path d="M408.51 97.94L412.01 104.06L405.01 104.06Z" fill="#9a00ee"/>
<path d="M427.62 110.74L431.12 116.86L424.12 116.86Z" fill="#9a00ee"/>
<path d="M446.73 110.66V119.62M443.23 110.66H450.23M443.23 119.62H450.23" stroke="#9a00ee" stroke-width="1.2" fill="none"/>
<path d="M446.73 111.64L450.23 117.76L443.23 117.76Z" fill="#9a00ee"/>
<path d="M274.6 191.9 L275.3 191.8 L276.0 191.8 L276.7 191.7 L277.4 191.6 L278.1 191.6 L278.8 191.5 L279.5 191.4 L280.2 191.3 L280.9 191.2 L281.6 191.2 L282.3 191.1 L283.0 191.0 L283.7 190.9 L284.4 190.8 L285.1 190.7 L285.8 190.6 L286.5 190.4 L287.2 190.3 L287.9 190.2 L288.6 190.1 L289.3 190.0 L290.0 189.8 L290.7 189.7 L291.4 189.5 L292.1 189.4 L292.8 189.2 L293.5 189.1 L294.2 188.9 L294.9 188.7 L295.6 188.6 L296.3 188.4 L297.0 188.2 L297.7 188.0 L298.4 187.8 L299.1 187.6 L299.8 187.4 L300.5 187.2 L301.2 186.9 L301.9 186.7 L302.6 186.4 L303.3 186.2 L304.0 185.9 L304.7 185.7 L305.4 185.4 L306.1 185.1 L306.8 184.8 L307.5 184.5 L308.2 184.2 L308.9 183.9 L309.6 183.5 L310.3 183.2 L311.0 182.8 L311.7 182.5 L312.4 182.1 L313.1 181.7 L313.8 181.3 L314.5 180.9 L315.2 180.5 L315.9 180.0 L316.6 179.6 L317.3 179.1 L318.0 178.6 L318.7 178.2 L319.4 177.7 L320.1 177.2 L320.8 176.6 L321.5 176.1 L322.2 175.5 L322.9 175.0 L323.6 174.4 L324.3 173.8 L325.0 173.2 L325.7 172.6 L326.4 171.9 L327.1 171.3 L327.8 170.6 L328.5 169.9 L329.2 169.2 L329.9 168.5 L330.6 167.7 L331.3 167.0 L332.0 166.2 L332.7 165.4 L333.4 164.6 L334.1 163.8 L334.8 163.0 L335.5 162.2 L336.2 161.3 L336.9 160.4 L337.6 159.5 L338.3 158.6 L339.0 157.7 L339.7 156.7 L340.4 155.8 L341.1 154.8 L341.8 153.8 L342.5 152.8 L343.2 151.8 L343.9 150.8 L344.6 149.7 L345.3 148.7 L346.0 147.6 L346.7 146.5 L347.4 145.4 L348.1 144.3 L348.8 143.2 L349.5 142.0 L350.2 140.9 L350.9 139.7 L351.6 138.6 L352.3 137.4 L353.0 136.2 L353.7 135.0 L354.4 133.8 L355.1 132.6 L355.8 131.3 L356.5 130.1 L357.2 128.9 L357.9 127.6 L358.6 126.4 L359.3 125.1 L360.0 123.8 L360.7 122.6 L361.4 121.3 L362.1 120.0 L362.8 118.8 L363.5 117.5 L364.2 116.2 L364.9 114.9 L365.6 113.6 L366.3 112.4 L367.0 111.1 L367.7 109.8 L368.4 108.5 L369.1 107.3 L369.8 106.0 L370.5 104.7 L371.2 103.5 L371.9 102.2 L372.6 101.0 L373.3 99.7 L374.0 98.5 L374.7 97.3 L375.4 96.1 L376.1 94.8 L376.8 93.6 L377.5 92.4 L378.2 91.3 L378.9 90.1 L379.6 88.9 L380.3 87.8 L381.0 86.6 L381.7 85.5 L382.4 84.3 L383.1 83.2 L383.8 82.1 L384.5 81.0 L385.2 80.0 L385.9 78.9 L386.6 77.8 L387.3 76.8 L388.0 75.8 L388.7 74.8 L389.4 73.8 L390.1 72.8 L390.8 71.8 L391.5 70.8 L392.2 69.9 L392.9 69.0 L393.6 68.0 L394.3 67.1 L395.0 66.3 L395.7 65.4 L396.4 64.5 L397.1 63.7 L397.8 62.8 L398.5 62.0 L399.2 61.2 L399.9 60.4 L400.6 59.6 L401.3 58.9 L402.0 58.1 L402.7 57.4 L403.4 56.7 L404.1 56.0 L404.8 55.3 L405.5 54.6 L406.2 53.9 L406.9 53.3 L407.6 52.6 L408.3 52.0 L409.0 51.4 L409.7 50.8 L410.4 50.2 L411.1 49.6 L411.8 49.0 L412.5 48.5 L413.2 47.9 L413.9 47.4 L414.6 46.9 L415.3 46.3 L416.0 45.8 L416.7 45.4 L417.4 44.9 L418.1 44.4 L418.8 44.0 L419.5 43.5 L420.2 43.1 L420.9 42.6 L421.6 42.2 L422.3 41.8 L423.0 41.4 L423.7 41.0 L424.4 40.6 L425.1 40.3 L425.8 39.9 L426.5 39.6 L427.2 39.2 L427.9 38.9 L428.6 38.5 L429.3 38.2 L430.0 37.9 L430.7 37.6 L431.4 37.3 L432.1 37.0 L432.8 36.7 L433.5 36.4 L434.2 36.2 L434.9 35.9 L435.6 35.7 L436.3 35.4 L437.0 35.2 L437.7 34.9 L438.4 34.7 L439.1 34.5 L439.8 34.2 L440.5 34.0 L441.2 33.8 L441.9 33.6 L442.6 33.4 L443.3 33.2 L444.0 33.0 L444.7 32.8 L445.4 32.7 L446.1 32.5 L446.8 32.3" fill="none" stroke="#f2424f" stroke-width="2.0"/>
<rect x="329.44" y="156.41" width="5.25" height="5.25" fill="#f2424f"/>
<rect x="367.67" y="104.57" width="5.25" height="5.25" fill="#f2424f"/>
<rect x="386.77" y="77.57" width="5.25" height="5.25" fill="#f2424f"/>
<rect x="405.88" y="43.77" width="5.25" height="5.25" fill="#f2424f"/>
<rect x="425" y="46.72" width="5.25" height="5.25" fill="#f2424f"/>
<rect x="444.11" y="25.85" width="5.25" height="5.25" fill="#f2424f"/>
<path d="M274.6 195.5 L275.3 195.3 L276.0 195.1 L276.7 194.9 L277.4 194.7 L278.1 194.5 L278.8 194.3 L279.5 194.1 L280.2 193.9 L280.9 193.7 L281.6 193.5 L282.3 193.2 L283.0 193.0 L283.7 192.8 L284.4 192.6 L285.1 192.3 L285.8 192.1 L286.5 191.8 L287.2 191.6 L287.9 191.3 L288.6 191.1 L289.3 190.8 L290.0 190.6 L290.7 190.3 L291.4 190.0 L292.1 189.8 L292.8 189.5 L293.5 189.2 L294.2 188.9 L294.9 188.6 L295.6 188.4 L296.3 188.1 L297.0 187.8 L297.7 187.5 L298.4 187.2 L299.1 186.8 L299.8 186.5 L300.5 186.2 L301.2 185.9 L301.9 185.6 L302.6 185.2 L303.3 184.9 L304.0 184.5 L304.7 184.2 L305.4 183.8 L306.1 183.5 L306.8 183.1 L307.5 182.8 L308.2 182.4 L308.9 182.0 L309.6 181.6 L310.3 181.2 L311.0 180.9 L311.7 180.5 L312.4 180.1 L313.1 179.6 L313.8 179.2 L314.5 178.8 L315.2 178.4 L315.9 178.0 L316.6 177.5 L317.3 177.1 L318.0 176.6 L318.7 176.2 L319.4 175.7 L320.1 175.3 L320.8 174.8 L321.5 174.3 L322.2 173.9 L322.9 173.4 L323.6 172.9 L324.3 172.4 L325.0 171.9 L325.7 171.4 L326.4 170.9 L327.1 170.3 L327.8 169.8 L328.5 169.3 L329.2 168.7 L329.9 168.2 L330.6 167.6 L331.3 167.1 L332.0 166.5 L332.7 165.9 L333.4 165.4 L334.1 164.8 L334.8 164.2 L335.5 163.6 L336.2 163.0 L336.9 162.4 L337.6 161.8 L338.3 161.1 L339.0 160.5 L339.7 159.9 L340.4 159.2 L341.1 158.6 L341.8 157.9 L342.5 157.3 L343.2 156.6 L343.9 155.9 L344.6 155.3 L345.3 154.6 L346.0 153.9 L346.7 153.2 L347.4 152.5 L348.1 151.8 L348.8 151.1 L349.5 150.3 L350.2 149.6 L350.9 148.9 L351.6 148.1 L352.3 147.4 L353.0 146.6 L353.7 145.9 L354.4 145.1 L355.1 144.4 L355.8 143.6 L356.5 142.8 L357.2 142.0 L357.9 141.2 L358.6 140.5 L359.3 139.7 L360.0 138.9 L360.7 138.1 L361.4 137.2 L362.1 136.4 L362.8 135.6 L363.5 134.8 L364.2 134.0 L364.9 133.2 L365.6 132.3 L366.3 131.5 L367.0 130.7 L367.7 129.8 L368.4 129.0 L369.1 128.1 L369.8 127.3 L370.5 126.4 L371.2 125.6 L371.9 124.7 L372.6 123.9 L373.3 123.0 L374.0 122.2 L374.7 121.3 L375.4 120.5 L376.1 119.6 L376.8 118.8 L377.5 117.9 L378.2 117.0 L378.9 116.2 L379.6 115.3 L380.3 114.5 L381.0 113.6 L381.7 112.8 L382.4 111.9 L383.1 111.1 L383.8 110.2 L384.5 109.4 L385.2 108.6 L385.9 107.7 L386.6 106.9 L387.3 106.1 L388.0 105.2 L388.7 104.4 L389.4 103.6 L390.1 102.8 L390.8 102.0 L391.5 101.2 L392.2 100.4 L392.9 99.6 L393.6 98.8 L394.3 98.0 L395.0 97.2 L395.7 96.4 L396.4 95.7 L397.1 94.9 L397.8 94.1 L398.5 93.4 L399.2 92.7 L399.9 91.9 L400.6 91.2 L401.3 90.5 L402.0 89.8 L402.7 89.0 L403.4 88.3 L404.1 87.6 L404.8 87.0 L405.5 86.3 L406.2 85.6 L406.9 85.0 L407.6 84.3 L408.3 83.7 L409.0 83.0 L409.7 82.4 L410.4 81.8 L411.1 81.1 L411.8 80.5 L412.5 79.9 L413.2 79.4 L413.9 78.8 L414.6 78.2 L415.3 77.6 L416.0 77.1 L416.7 76.5 L417.4 76.0 L418.1 75.5 L418.8 75.0 L419.5 74.4 L420.2 73.9 L420.9 73.4 L421.6 72.9 L422.3 72.5 L423.0 72.0 L423.7 71.5 L424.4 71.1 L425.1 70.6 L425.8 70.2 L426.5 69.8 L427.2 69.3 L427.9 68.9 L428.6 68.5 L429.3 68.1 L430.0 67.7 L430.7 67.3 L431.4 67.0 L432.1 66.6 L432.8 66.2 L433.5 65.9 L434.2 65.5 L434.9 65.2 L435.6 64.8 L436.3 64.5 L437.0 64.2 L437.7 63.9 L438.4 63.6 L439.1 63.3 L439.8 63.0 L440.5 62.7 L441.2 62.4 L441.9 62.1 L442.6 61.8 L443.3 61.6 L444.0 61.3 L444.7 61.1 L445.4 60.8 L446.1 60.6 L446.8 60.3" fill="none" stroke="#ff8000" stroke-width="2.0"/>
<path d="M274.74 192.66L278.24 198.78L271.24 198.78Z" fill="#ff8000"/>
<path d="M293.85 188.82L297.35 194.94L290.35 194.94Z" fill="#ff8000"/>
<path d="M312.96 183.7L316.46 189.82L309.46 189.82Z" fill="#ff8000"/>
<path d="M351.18 150.42L354.68 156.54L347.68 156.54Z" fill="#ff8000"/>
<path d="M370.29 114.24V127.04M366.79 114.24H373.79M366.79 127.04H373.79" stroke="#ff8000" stroke-width="1.2" fill="none"/>
<path d="M370.29 117.14L373.79 123.26L366.79 123.26Z" fill="#ff8000"/>
<path d="M389.4 109.12V116.8M385.9 109.12H392.9M385.9 116.8H392.9" stroke="#ff8000" stroke-width="1.2" fill="none"/>
<path d="M389.4 109.46L392.9 115.58L385.9 115.58Z" fill="#ff8000"/>
<path d="M408.51 81.3L412.01 87.42L405.01 87.42Z" fill="#ff8000"/>
<path d="M427.62 68.5L431.12 74.62L424.12 74.62Z" fill="#ff8000"/>
<path d="M446.73 54.08V66.88M443.23 54.08H450.23M443.23 66.88H450.23" stroke="#ff8000" stroke-width="1.2" fill="none"/>
<path d="M446.73 56.98L450.23 63.1L443.23 63.1Z" fill="#ff8000"/>
<path d="M274.6 191.4 L275.3 191.4 L276.0 191.3 L276.7 191.3 L277.4 191.3 L278.1 191.3 L278.8 191.3 L279.5 191.3 L280.2 191.3 L280.9 191.2 L281.6 191.2 L282.3 191.2 L283.0 191.2 L283.7 191.2 L284.4 191.1 L285.1 191.1 L285.8 191.1 L286.5 191.1 L287.2 191.0 L287.9 191.0 L288.6 191.0 L289.3 190.9 L290.0 190.9 L290.7 190.9 L291.4 190.8 L292.1 190.8 L292.8 190.8 L293.5 190.7 L294.2 190.7 L294.9 190.6 L295.6 190.6 L296.3 190.5 L297.0 190.5 L297.7 190.4 L298.4 190.3 L299.1 190.3 L299.8 190.2 L300.5 190.1 L301.2 190.0 L301.9 190.0 L302.6 189.9 L303.3 189.8 L304.0 189.7 L304.7 189.6 L305.4 189.5 L306.1 189.4 L306.8 189.2 L307.5 189.1 L308.2 189.0 L308.9 188.8 L309.6 188.7 L310.3 188.6 L311.0 188.4 L311.7 188.2 L312.4 188.0 L313.1 187.9 L313.8 187.7 L314.5 187.4 L315.2 187.2 L315.9 187.0 L316.6 186.8 L317.3 186.5 L318.0 186.2 L318.7 186.0 L319.4 185.7 L320.1 185.3 L320.8 185.0 L321.5 184.7 L322.2 184.3 L322.9 183.9 L323.6 183.5 L324.3 183.1 L325.0 182.7 L325.7 182.2 L326.4 181.7 L327.1 181.2 L327.8 180.7 L328.5 180.1 L329.2 179.6 L329.9 179.0 L330.6 178.3 L331.3 177.6 L332.0 176.9 L332.7 176.2 L333.4 175.5 L334.1 174.7 L334.8 173.8 L335.5 173.0 L336.2 172.1 L336.9 171.1 L337.6 170.1 L338.3 169.1 L339.0 168.0 L339.7 166.9 L340.4 165.8 L341.1 164.6 L341.8 163.4 L342.5 162.1 L343.2 160.8 L343.9 159.5 L344.6 158.1 L345.3 156.6 L346.0 155.2 L346.7 153.6 L347.4 152.1 L348.1 150.5 L348.8 148.9 L349.5 147.2 L350.2 145.5 L350.9 143.8 L351.6 142.0 L352.3 140.3 L353.0 138.5 L353.7 136.7 L354.4 134.8 L355.1 133.0 L355.8 131.1 L356.5 129.3 L357.2 127.4 L357.9 125.6 L358.6 123.7 L359.3 121.9 L360.0 120.1 L360.7 118.3 L361.4 116.5 L362.1 114.7 L362.8 113.0 L363.5 111.3 L364.2 109.6 L364.9 108.0 L365.6 106.4 L366.3 104.8 L367.0 103.3 L367.7 101.8 L368.4 100.4 L369.1 99.0 L369.8 97.6 L370.5 96.4 L371.2 95.1 L371.9 93.9 L372.6 92.8 L373.3 91.6 L374.0 90.6 L374.7 89.6 L375.4 88.6 L376.1 87.7 L376.8 86.8 L377.5 86.0 L378.2 85.2 L378.9 84.4 L379.6 83.7 L380.3 83.0 L381.0 82.4 L381.7 81.7 L382.4 81.2 L383.1 80.6 L383.8 80.1 L384.5 79.6 L385.2 79.1 L385.9 78.7 L386.6 78.3 L387.3 77.9 L388.0 77.5 L388.7 77.2 L389.4 76.9 L390.1 76.6 L390.8 76.3 L391.5 76.0 L392.2 75.8 L392.9 75.5 L393.6 75.3 L394.3 75.1 L395.0 74.9 L395.7 74.7 L396.4 74.5 L397.1 74.4 L397.8 74.2 L398.5 74.1 L399.2 74.0 L399.9 73.8 L400.6 73.7 L401.3 73.6 L402.0 73.5 L402.7 73.4 L403.4 73.3 L404.1 73.2 L404.8 73.2 L405.5 73.1 L406.2 73.0 L406.9 72.9 L407.6 72.9 L408.3 72.8 L409.0 72.8 L409.7 72.7 L410.4 72.7 L411.1 72.6 L411.8 72.6 L412.5 72.6 L413.2 72.5 L413.9 72.5 L414.6 72.5 L415.3 72.4 L416.0 72.4 L416.7 72.4 L417.4 72.4 L418.1 72.3 L418.8 72.3 L419.5 72.3 L420.2 72.3 L420.9 72.3 L421.6 72.2 L422.3 72.2 L423.0 72.2 L423.7 72.2 L424.4 72.2 L425.1 72.2 L425.8 72.2 L426.5 72.2 L427.2 72.1 L427.9 72.1 L428.6 72.1 L429.3 72.1 L430.0 72.1 L430.7 72.1 L431.4 72.1 L432.1 72.1 L432.8 72.1 L433.5 72.1 L434.2 72.1 L434.9 72.1 L435.6 72.1 L436.3 72.1 L437.0 72.1 L437.7 72.1 L438.4 72.1 L439.1 72.1 L439.8 72.1 L440.5 72.0 L441.2 72.0 L441.9 72.0 L442.6 72.0 L443.3 72.0 L444.0 72.0 L444.7 72.0 L445.4 72.0 L446.1 72.0 L446.8 72.0" fill="none" stroke="#000" stroke-width="2.0"/>
<circle cx="274.74" cy="193.6" r="3" fill="#000"/>
<circle cx="293.85" cy="192.96" r="3" fill="#000"/>
<circle cx="312.96" cy="191.04" r="3" fill="#000"/>
<circle cx="332.07" cy="168" r="3" fill="#000"/>
<circle cx="351.18" cy="145.6" r="3" fill="#000"/>
<circle cx="370.29" cy="97.22" r="3" fill="#000"/>
<path d="M389.4 61.76V72M385.9 61.76H392.9M385.9 72H392.9" stroke="#000" stroke-width="1.2" fill="none"/>
<circle cx="389.4" cy="66.88" r="3" fill="#000"/>
<circle cx="408.51" cy="66.11" r="3" fill="#000"/>
<circle cx="427.62" cy="82.24" r="3" fill="#000"/>
<path d="M446.73 71.49V86.85M443.23 71.49H450.23M443.23 86.85H450.23" stroke="#000" stroke-width="1.2" fill="none"/>
<circle cx="446.73" cy="79.17" r="3" fill="#000"/>
<line x1="274" y1="25.4" x2="288.6" y2="25.4" stroke="#000" stroke-width="2"/>
<circle cx="281.3" cy="25.4" r="2.76" fill="#000"/>
<text x="293" y="28.8" class="l" font-size="9.0">WT</text>
<line x1="274" y1="38.9" x2="288.6" y2="38.9" stroke="#ff8000" stroke-width="2"/>
<path d="M281.3 35.68L284.52 41.31L278.08 41.31Z" fill="#ff8000"/>
<text x="293" y="42.3" class="l" font-size="9.0">E178A</text>
<text x="329" y="42.3" class="l" font-size="9.0">-0.29</text>
<line x1="274" y1="52.8" x2="288.6" y2="52.8" stroke="#f2424f" stroke-width="2"/>
<rect x="278.88" y="50.38" width="4.83" height="4.83" fill="#f2424f"/>
<text x="293" y="56.2" class="l" font-size="9.0">E178Q</text>
<text x="330" y="56.2" class="l" font-size="9.0">-0.21</text>
<line x1="274" y1="66.5" x2="288.6" y2="66.5" stroke="#9a00ee" stroke-width="2"/>
<path d="M281.3 63.28L284.52 68.92L278.08 68.92Z" fill="#9a00ee"/>
<text x="293" y="69.9" class="l" font-size="9.0">D89A</text>
<text x="330" y="69.9" class="l" font-size="9.0">+0.41</text>
<line x1="274" y1="81.4" x2="288.6" y2="81.4" stroke="#10b878" stroke-width="2"/>
<path d="M281.3 84.62L284.52 78.98L278.08 78.98Z" fill="#10b878"/>
<text x="293" y="84.8" class="l" font-size="9.0">D89N</text>
<text x="330" y="84.8" class="l" font-size="9.0">+0.49</text>
<text x="329.6" y="26.1" font-size="9.2"><tspan font-size="7.6">Δ</tspan>pH<tspan font-size="5.8" dx="1" dy="3.6">50</tspan></text>
<line x1="492.6" y1="15" x2="492.6" y2="200.7" stroke="#000" stroke-width="1.6"/>
<line x1="491.8" y1="200" x2="678.2" y2="200" stroke="#000" stroke-width="1.6"/>
<line x1="487" y1="189" x2="492.6" y2="189" stroke="#000" stroke-width="1.5"/>
<text x="485.8" y="192.2" text-anchor="end" class="t">0</text>
<line x1="487" y1="167.3" x2="492.6" y2="167.3" stroke="#000" stroke-width="1.5"/>
<text x="485.8" y="170.5" text-anchor="end" class="t">20</text>
<line x1="487" y1="145.6" x2="492.6" y2="145.6" stroke="#000" stroke-width="1.5"/>
<text x="485.8" y="148.8" text-anchor="end" class="t">40</text>
<line x1="487" y1="123.9" x2="492.6" y2="123.9" stroke="#000" stroke-width="1.5"/>
<text x="485.8" y="127.1" text-anchor="end" class="t">60</text>
<line x1="487" y1="102.2" x2="492.6" y2="102.2" stroke="#000" stroke-width="1.5"/>
<text x="485.8" y="105.4" text-anchor="end" class="t">80</text>
<line x1="487" y1="80.5" x2="492.6" y2="80.5" stroke="#000" stroke-width="1.5"/>
<text x="485.8" y="83.7" text-anchor="end" class="t">100</text>
<line x1="487" y1="58.8" x2="492.6" y2="58.8" stroke="#000" stroke-width="1.5"/>
<text x="485.8" y="62" text-anchor="end" class="t">120</text>
<line x1="487" y1="37.1" x2="492.6" y2="37.1" stroke="#000" stroke-width="1.5"/>
<text x="485.8" y="40.3" text-anchor="end" class="t">140</text>
<line x1="487" y1="15.4" x2="492.6" y2="15.4" stroke="#000" stroke-width="1.5"/>
<text x="485.8" y="18.6" text-anchor="end" class="t">160</text>
<line x1="492.6" y1="200" x2="492.6" y2="206.2" stroke="#000" stroke-width="1.5"/>
<text x="491.7" y="216.8" text-anchor="middle" class="t">-9.5</text>
<line x1="523.4" y1="200" x2="523.4" y2="206.2" stroke="#000" stroke-width="1.5"/>
<text x="522.5" y="216.8" text-anchor="middle" class="t">-9.0</text>
<line x1="554.2" y1="200" x2="554.2" y2="206.2" stroke="#000" stroke-width="1.5"/>
<text x="553.3" y="216.8" text-anchor="middle" class="t">-8.5</text>
<line x1="585" y1="200" x2="585" y2="206.2" stroke="#000" stroke-width="1.5"/>
<text x="584.1" y="216.8" text-anchor="middle" class="t">-8.0</text>
<line x1="615.8" y1="200" x2="615.8" y2="206.2" stroke="#000" stroke-width="1.5"/>
<text x="614.9" y="216.8" text-anchor="middle" class="t">-7.5</text>
<line x1="646.6" y1="200" x2="646.6" y2="206.2" stroke="#000" stroke-width="1.5"/>
<text x="645.7" y="216.8" text-anchor="middle" class="t">-7.0</text>
<line x1="677.4" y1="200" x2="677.4" y2="206.2" stroke="#000" stroke-width="1.5"/>
<text x="676.5" y="216.8" text-anchor="middle" class="t">-6.5</text>
<text x="586.7" y="227.4" text-anchor="middle" class="x">log[H<tspan font-size="5.5" dy="-3.9">+</tspan><tspan dy="3.9">]</tspan></text>
<text transform="translate(468.5,97) rotate(-90)" text-anchor="middle" class="y">RLU (% of WT)</text>
<path d="M523.4 190.9 L524.1 190.9 L524.8 190.9 L525.5 190.9 L526.2 190.9 L526.9 190.9 L527.6 190.8 L528.3 190.8 L529.0 190.8 L529.7 190.8 L530.4 190.8 L531.1 190.8 L531.8 190.7 L532.5 190.7 L533.2 190.7 L533.9 190.7 L534.6 190.6 L535.3 190.6 L536.0 190.6 L536.7 190.5 L537.4 190.5 L538.1 190.5 L538.8 190.4 L539.5 190.4 L540.2 190.3 L540.9 190.3 L541.6 190.2 L542.3 190.1 L543.0 190.1 L543.7 190.0 L544.4 189.9 L545.1 189.8 L545.8 189.7 L546.5 189.6 L547.2 189.5 L547.9 189.4 L548.6 189.3 L549.3 189.1 L550.0 189.0 L550.7 188.9 L551.4 188.7 L552.1 188.5 L552.8 188.3 L553.5 188.1 L554.2 187.9 L554.9 187.7 L555.6 187.4 L556.3 187.2 L557.0 186.9 L557.7 186.6 L558.4 186.2 L559.1 185.9 L559.8 185.5 L560.5 185.1 L561.2 184.7 L561.9 184.2 L562.6 183.8 L563.3 183.3 L564.0 182.7 L564.7 182.1 L565.4 181.5 L566.1 180.9 L566.8 180.2 L567.5 179.5 L568.2 178.7 L568.9 177.9 L569.6 177.0 L570.3 176.1 L571.0 175.2 L571.7 174.2 L572.4 173.2 L573.1 172.1 L573.8 170.9 L574.5 169.8 L575.2 168.5 L575.9 167.2 L576.6 165.9 L577.3 164.5 L578.0 163.1 L578.7 161.6 L579.4 160.1 L580.1 158.5 L580.8 156.9 L581.5 155.3 L582.2 153.6 L582.9 151.9 L583.6 150.2 L584.3 148.4 L585.0 146.6 L585.7 144.8 L586.4 143.0 L587.1 141.2 L587.8 139.4 L588.5 137.5 L589.2 135.7 L589.9 133.9 L590.6 132.1 L591.3 130.3 L592.0 128.6 L592.7 126.8 L593.4 125.1 L594.1 123.4 L594.8 121.8 L595.5 120.1 L596.2 118.6 L596.9 117.0 L597.6 115.5 L598.3 114.1 L599.0 112.7 L599.7 111.3 L600.4 110.0 L601.1 108.7 L601.8 107.5 L602.5 106.3 L603.2 105.2 L603.9 104.1 L604.6 103.0 L605.3 102.0 L606.0 101.1 L606.7 100.2 L607.4 99.3 L608.1 98.5 L608.8 97.7 L609.5 97.0 L610.2 96.3 L610.9 95.6 L611.6 95.0 L612.3 94.4 L613.0 93.8 L613.7 93.3 L614.4 92.7 L615.1 92.3 L615.8 91.8 L616.5 91.4 L617.2 91.0 L617.9 90.6 L618.6 90.2 L619.3 89.9 L620.0 89.6 L620.7 89.3 L621.4 89.0 L622.1 88.7 L622.8 88.5 L623.5 88.2 L624.2 88.0 L624.9 87.8 L625.6 87.6 L626.3 87.4 L627.0 87.3 L627.7 87.1 L628.4 86.9 L629.1 86.8 L629.8 86.7 L630.5 86.5 L631.2 86.4 L631.9 86.3 L632.6 86.2 L633.3 86.1 L634.0 86.0 L634.7 85.9 L635.4 85.9 L636.1 85.8 L636.8 85.7 L637.5 85.7 L638.2 85.6 L638.9 85.5 L639.6 85.5 L640.3 85.4 L641.0 85.4 L641.7 85.3 L642.4 85.3 L643.1 85.3 L643.8 85.2 L644.5 85.2 L645.2 85.2 L645.9 85.1 L646.6 85.1 L647.3 85.1 L648.0 85.0 L648.7 85.0 L649.4 85.0 L650.1 85.0 L650.8 85.0 L651.5 84.9 L652.2 84.9" fill="none" stroke="#f2424f" stroke-width="1.9"/>
<rect x="520.99" y="188.75" width="4.83" height="4.83" fill="#f2424f"/>
<rect x="539.47" y="187.67" width="4.83" height="4.83" fill="#f2424f"/>
<rect x="557.95" y="184.42" width="4.83" height="4.83" fill="#f2424f"/>
<rect x="576.43" y="162.72" width="4.83" height="4.83" fill="#f2424f"/>
<rect x="594.91" y="112.8" width="4.83" height="4.83" fill="#f2424f"/>
<rect x="613.39" y="102.39" width="4.83" height="4.83" fill="#f2424f"/>
<rect x="631.87" y="88.94" width="4.83" height="4.83" fill="#f2424f"/>
<path d="M652.76 70.73V81.58M649.54 70.73H655.98M649.54 81.58H655.98" stroke="#f2424f" stroke-width="1.2" fill="none"/>
<rect x="650.35" y="73.74" width="4.83" height="4.83" fill="#f2424f"/>
<path d="M523.4 189.0 L524.1 189.0 L524.8 189.0 L525.5 189.0 L526.2 189.0 L526.9 189.0 L527.6 189.0 L528.3 189.0 L529.0 189.0 L529.7 189.0 L530.4 189.0 L531.1 189.0 L531.8 189.0 L532.5 189.0 L533.2 189.0 L533.9 189.0 L534.6 189.0 L535.3 189.0 L536.0 189.0 L536.7 188.9 L537.4 188.9 L538.1 188.9 L538.8 188.9 L539.5 188.9 L540.2 188.9 L540.9 188.9 L541.6 188.9 L542.3 188.9 L543.0 188.8 L543.7 188.8 L544.4 188.8 L545.1 188.8 L545.8 188.7 L546.5 188.7 L547.2 188.7 L547.9 188.6 L548.6 188.6 L549.3 188.6 L550.0 188.5 L550.7 188.4 L551.4 188.4 L552.1 188.3 L552.8 188.2 L553.5 188.1 L554.2 188.0 L554.9 187.9 L555.6 187.8 L556.3 187.6 L557.0 187.5 L557.7 187.3 L558.4 187.1 L559.1 186.9 L559.8 186.6 L560.5 186.3 L561.2 186.0 L561.9 185.7 L562.6 185.3 L563.3 184.8 L564.0 184.4 L564.7 183.8 L565.4 183.2 L566.1 182.6 L566.8 181.8 L567.5 181.0 L568.2 180.1 L568.9 179.1 L569.6 177.9 L570.3 176.7 L571.0 175.3 L571.7 173.8 L572.4 172.2 L573.1 170.3 L573.8 168.3 L574.5 166.1 L575.2 163.7 L575.9 161.1 L576.6 158.3 L577.3 155.2 L578.0 152.0 L578.7 148.5 L579.4 144.8 L580.1 140.8 L580.8 136.7 L581.5 132.4 L582.2 128.0 L582.9 123.4 L583.6 118.7 L584.3 114.0 L585.0 109.3 L585.7 104.6 L586.4 100.0 L587.1 95.5 L587.8 91.1 L588.5 86.9 L589.2 83.0 L589.9 79.2 L590.6 75.7 L591.3 72.4 L592.0 69.4 L592.7 66.6 L593.4 64.0 L594.1 61.7 L594.8 59.7 L595.5 57.8 L596.2 56.1 L596.9 54.6 L597.6 53.3 L598.3 52.1 L599.0 51.1 L599.7 50.1 L600.4 49.3 L601.1 48.6 L601.8 48.0 L602.5 47.4 L603.2 46.9 L603.9 46.5 L604.6 46.1 L605.3 45.8 L606.0 45.5 L606.7 45.3 L607.4 45.1 L608.1 44.9 L608.8 44.7 L609.5 44.6 L610.2 44.5 L610.9 44.4 L611.6 44.3 L612.3 44.2 L613.0 44.1 L613.7 44.1 L614.4 44.0 L615.1 44.0 L615.8 43.9 L616.5 43.9 L617.2 43.8 L617.9 43.8 L618.6 43.8 L619.3 43.8 L620.0 43.8 L620.7 43.7 L621.4 43.7 L622.1 43.7 L622.8 43.7 L623.5 43.7 L624.2 43.7 L624.9 43.7 L625.6 43.7 L626.3 43.7 L627.0 43.7 L627.7 43.7 L628.4 43.7 L629.1 43.7 L629.8 43.7 L630.5 43.7 L631.2 43.7 L631.9 43.7 L632.6 43.7 L633.3 43.7 L634.0 43.6 L634.7 43.6 L635.4 43.6 L636.1 43.6 L636.8 43.6 L637.5 43.6 L638.2 43.6 L638.9 43.6 L639.6 43.6 L640.3 43.6 L641.0 43.6 L641.7 43.6 L642.4 43.6 L643.1 43.6 L643.8 43.6 L644.5 43.6 L645.2 43.6 L645.9 43.6 L646.6 43.6 L647.3 43.6 L648.0 43.6 L648.7 43.6 L649.4 43.6 L650.1 43.6 L650.8 43.6 L651.5 43.6 L652.2 43.6" fill="none" stroke="#10bf10" stroke-width="1.9"/>
<path d="M523.4 192.22L526.62 186.59L520.18 186.59Z" fill="#10bf10"/>
<path d="M541.88 192.22L545.1 186.59L538.66 186.59Z" fill="#10bf10"/>
<path d="M560.36 191.13L563.58 185.5L557.14 185.5Z" fill="#10bf10"/>
<path d="M578.84 148.82L582.06 143.19L575.62 143.19Z" fill="#10bf10"/>
<path d="M597.32 57.68L600.54 52.05L594.1 52.05Z" fill="#10bf10"/>
<path d="M615.8 29.47L619.02 23.84L612.58 23.84Z" fill="#10bf10"/>
<path d="M634.28 44.66L637.5 39.02L631.06 39.02Z" fill="#10bf10"/>
<path d="M652.76 67.45L655.98 61.81L649.54 61.81Z" fill="#10bf10"/>
<path d="M523.4 190.1 L524.1 190.1 L524.8 190.1 L525.5 190.1 L526.2 190.1 L526.9 190.1 L527.6 190.1 L528.3 190.1 L529.0 190.1 L529.7 190.1 L530.4 190.1 L531.1 190.1 L531.8 190.1 L532.5 190.0 L533.2 190.0 L533.9 190.0 L534.6 190.0 L535.3 190.0 L536.0 190.0 L536.7 190.0 L537.4 190.0 L538.1 190.0 L538.8 189.9 L539.5 189.9 L540.2 189.9 L540.9 189.8 L541.6 189.8 L542.3 189.8 L543.0 189.7 L543.7 189.7 L544.4 189.6 L545.1 189.5 L545.8 189.5 L546.5 189.4 L547.2 189.3 L547.9 189.2 L548.6 189.0 L549.3 188.9 L550.0 188.7 L550.7 188.5 L551.4 188.3 L552.1 188.1 L552.8 187.8 L553.5 187.5 L554.2 187.1 L554.9 186.7 L555.6 186.3 L556.3 185.8 L557.0 185.2 L557.7 184.5 L558.4 183.8 L559.1 183.0 L559.8 182.1 L560.5 181.1 L561.2 180.0 L561.9 178.8 L562.6 177.4 L563.3 175.9 L564.0 174.3 L564.7 172.5 L565.4 170.5 L566.1 168.4 L566.8 166.1 L567.5 163.6 L568.2 160.9 L568.9 158.1 L569.6 155.0 L570.3 151.8 L571.0 148.4 L571.7 144.8 L572.4 141.1 L573.1 137.3 L573.8 133.3 L574.5 129.2 L575.2 125.1 L575.9 120.9 L576.6 116.6 L577.3 112.4 L578.0 108.1 L578.7 103.9 L579.4 99.8 L580.1 95.7 L580.8 91.7 L581.5 87.8 L582.2 84.0 L582.9 80.4 L583.6 76.9 L584.3 73.6 L585.0 70.4 L585.7 67.4 L586.4 64.5 L587.1 61.8 L587.8 59.3 L588.5 56.9 L589.2 54.7 L589.9 52.7 L590.6 50.7 L591.3 48.9 L592.0 47.3 L592.7 45.7 L593.4 44.3 L594.1 43.0 L594.8 41.8 L595.5 40.7 L596.2 39.7 L596.9 38.7 L597.6 37.9 L598.3 37.1 L599.0 36.3 L599.7 35.7 L600.4 35.1 L601.1 34.5 L601.8 34.0 L602.5 33.6 L603.2 33.1 L603.9 32.8 L604.6 32.4 L605.3 32.1 L606.0 31.8 L606.7 31.5 L607.4 31.3 L608.1 31.1 L608.8 30.9 L609.5 30.7 L610.2 30.5 L610.9 30.4 L611.6 30.2 L612.3 30.1 L613.0 30.0 L613.7 29.9 L614.4 29.8 L615.1 29.7 L615.8 29.7 L616.5 29.6 L617.2 29.5 L617.9 29.5 L618.6 29.4 L619.3 29.4 L620.0 29.3 L620.7 29.3 L621.4 29.2 L622.1 29.2 L622.8 29.2 L623.5 29.2 L624.2 29.1 L624.9 29.1 L625.6 29.1 L626.3 29.1 L627.0 29.1 L627.7 29.0 L628.4 29.0 L629.1 29.0 L629.8 29.0 L630.5 29.0 L631.2 29.0 L631.9 29.0 L632.6 29.0 L633.3 29.0 L634.0 29.0 L634.7 28.9 L635.4 28.9 L636.1 28.9 L636.8 28.9 L637.5 28.9 L638.2 28.9 L638.9 28.9 L639.6 28.9 L640.3 28.9 L641.0 28.9 L641.7 28.9 L642.4 28.9 L643.1 28.9 L643.8 28.9 L644.5 28.9 L645.2 28.9 L645.9 28.9 L646.6 28.9 L647.3 28.9 L648.0 28.9 L648.7 28.9 L649.4 28.9 L650.1 28.9 L650.8 28.9 L651.5 28.9 L652.2 28.9" fill="none" stroke="#9a00ee" stroke-width="1.9"/>
<path d="M523.4 186.87L526.62 192.5L520.18 192.5Z" fill="#9a00ee"/>
<path d="M541.88 186.87L545.1 192.5L538.66 192.5Z" fill="#9a00ee"/>
<path d="M560.36 184.69L563.58 190.33L557.14 190.33Z" fill="#9a00ee"/>
<path d="M578.84 98.98L582.06 104.62L575.62 104.62Z" fill="#9a00ee"/>
<path d="M597.32 38.76L600.54 44.4L594.1 44.4Z" fill="#9a00ee"/>
<path d="M615.8 16.48V27.33M612.58 16.48H619.02M612.58 27.33H619.02" stroke="#9a00ee" stroke-width="1.2" fill="none"/>
<path d="M615.8 18.69L619.02 24.32L612.58 24.32Z" fill="#9a00ee"/>
<path d="M634.28 26.83L637.5 32.46L631.06 32.46Z" fill="#9a00ee"/>
<path d="M652.76 29.97L655.98 35.61L649.54 35.61Z" fill="#9a00ee"/>
<path d="M523.4 189.1 L524.1 189.1 L524.8 189.1 L525.5 189.1 L526.2 189.1 L526.9 189.1 L527.6 189.1 L528.3 189.1 L529.0 189.1 L529.7 189.1 L530.4 189.1 L531.1 189.1 L531.8 189.1 L532.5 189.1 L533.2 189.1 L533.9 189.1 L534.6 189.1 L535.3 189.1 L536.0 189.1 L536.7 189.1 L537.4 189.1 L538.1 189.1 L538.8 189.1 L539.5 189.1 L540.2 189.1 L540.9 189.1 L541.6 189.1 L542.3 189.1 L543.0 189.0 L543.7 189.0 L544.4 189.0 L545.1 189.0 L545.8 189.0 L546.5 189.0 L547.2 188.9 L547.9 188.9 L548.6 188.8 L549.3 188.8 L550.0 188.7 L550.7 188.6 L551.4 188.5 L552.1 188.3 L552.8 188.1 L553.5 187.9 L554.2 187.7 L554.9 187.3 L555.6 186.9 L556.3 186.4 L557.0 185.8 L557.7 185.1 L558.4 184.2 L559.1 183.1 L559.8 181.8 L560.5 180.3 L561.2 178.5 L561.9 176.3 L562.6 173.8 L563.3 171.0 L564.0 167.7 L564.7 164.1 L565.4 160.1 L566.1 155.7 L566.8 151.1 L567.5 146.2 L568.2 141.2 L568.9 136.1 L569.6 131.2 L570.3 126.3 L571.0 121.7 L571.7 117.5 L572.4 113.5 L573.1 109.9 L573.8 106.8 L574.5 103.9 L575.2 101.5 L575.9 99.3 L576.6 97.5 L577.3 95.9 L578.0 94.6 L578.7 93.5 L579.4 92.5 L580.1 91.8 L580.8 91.1 L581.5 90.5 L582.2 90.1 L582.9 89.7 L583.6 89.4 L584.3 89.1 L585.0 88.9 L585.7 88.7 L586.4 88.6 L587.1 88.5 L587.8 88.4 L588.5 88.3 L589.2 88.2 L589.9 88.2 L590.6 88.1 L591.3 88.1 L592.0 88.0 L592.7 88.0 L593.4 88.0 L594.1 88.0 L594.8 88.0 L595.5 87.9 L596.2 87.9 L596.9 87.9 L597.6 87.9 L598.3 87.9 L599.0 87.9 L599.7 87.9 L600.4 87.9 L601.1 87.9 L601.8 87.9 L602.5 87.9 L603.2 87.9 L603.9 87.9 L604.6 87.9 L605.3 87.9 L606.0 87.9 L606.7 87.9 L607.4 87.9 L608.1 87.9 L608.8 87.9 L609.5 87.9 L610.2 87.9 L610.9 87.9 L611.6 87.9 L612.3 87.9 L613.0 87.9 L613.7 87.9 L614.4 87.9 L615.1 87.9 L615.8 87.9 L616.5 87.9 L617.2 87.9 L617.9 87.9 L618.6 87.9 L619.3 87.9 L620.0 87.9 L620.7 87.9 L621.4 87.9 L622.1 87.9 L622.8 87.9 L623.5 87.9 L624.2 87.9 L624.9 87.9 L625.6 87.9 L626.3 87.9 L627.0 87.9 L627.7 87.9 L628.4 87.9 L629.1 87.9 L629.8 87.9 L630.5 87.9 L631.2 87.9 L631.9 87.9 L632.6 87.9 L633.3 87.9 L634.0 87.9 L634.7 87.9 L635.4 87.9 L636.1 87.9 L636.8 87.9 L637.5 87.9 L638.2 87.9 L638.9 87.9 L639.6 87.9 L640.3 87.9 L641.0 87.9 L641.7 87.9 L642.4 87.9 L643.1 87.9 L643.8 87.9 L644.5 87.9 L645.2 87.9 L645.9 87.9 L646.6 87.9 L647.3 87.9 L648.0 87.9 L648.7 87.9 L649.4 87.9 L650.1 87.9 L650.8 87.9 L651.5 87.9 L652.2 87.9" fill="none" stroke="#ff8000" stroke-width="1.9"/>
<path d="M523.4 185.78L526.62 191.41L520.18 191.41Z" fill="#ff8000"/>
<path d="M541.88 185.78L545.1 191.41L538.66 191.41Z" fill="#ff8000"/>
<path d="M560.36 183.61L563.58 189.25L557.14 189.25Z" fill="#ff8000"/>
<path d="M597.32 76.2L600.54 81.83L594.1 81.83Z" fill="#ff8000"/>
<path d="M615.8 68.56V81.59M612.58 68.56H619.02M612.58 81.59H619.02" stroke="#ff8000" stroke-width="1.2" fill="none"/>
<path d="M615.8 71.86L619.02 77.49L612.58 77.49Z" fill="#ff8000"/>
<path d="M652.76 100.61L655.98 106.24L649.54 106.24Z" fill="#ff8000"/>
<path d="M523.4 189.1 L524.1 189.1 L524.8 189.1 L525.5 189.1 L526.2 189.1 L526.9 189.1 L527.6 189.1 L528.3 189.1 L529.0 189.1 L529.7 189.1 L530.4 189.1 L531.1 189.1 L531.8 189.1 L532.5 189.1 L533.2 189.1 L533.9 189.1 L534.6 189.1 L535.3 189.0 L536.0 189.0 L536.7 189.0 L537.4 189.0 L538.1 189.0 L538.8 189.0 L539.5 189.0 L540.2 189.0 L540.9 189.0 L541.6 189.0 L542.3 189.0 L543.0 189.0 L543.7 188.9 L544.4 188.9 L545.1 188.9 L545.8 188.9 L546.5 188.9 L547.2 188.8 L547.9 188.8 L548.6 188.8 L549.3 188.8 L550.0 188.7 L550.7 188.7 L551.4 188.6 L552.1 188.6 L552.8 188.5 L553.5 188.4 L554.2 188.4 L554.9 188.3 L555.6 188.2 L556.3 188.1 L557.0 188.0 L557.7 187.9 L558.4 187.7 L559.1 187.6 L559.8 187.4 L560.5 187.2 L561.2 187.0 L561.9 186.8 L562.6 186.5 L563.3 186.2 L564.0 185.9 L564.7 185.5 L565.4 185.1 L566.1 184.7 L566.8 184.2 L567.5 183.7 L568.2 183.1 L568.9 182.4 L569.6 181.7 L570.3 180.9 L571.0 180.0 L571.7 179.0 L572.4 177.9 L573.1 176.7 L573.8 175.4 L574.5 174.0 L575.2 172.4 L575.9 170.7 L576.6 168.9 L577.3 166.9 L578.0 164.7 L578.7 162.5 L579.4 160.0 L580.1 157.5 L580.8 154.7 L581.5 151.9 L582.2 149.0 L582.9 146.0 L583.6 142.9 L584.3 139.8 L585.0 136.7 L585.7 133.6 L586.4 130.6 L587.1 127.6 L587.8 124.8 L588.5 122.0 L589.2 119.5 L589.9 117.0 L590.6 114.8 L591.3 112.7 L592.0 110.8 L592.7 109.0 L593.4 107.5 L594.1 106.0 L594.8 104.8 L595.5 103.6 L596.2 102.6 L596.9 101.7 L597.6 101.0 L598.3 100.3 L599.0 99.7 L599.7 99.1 L600.4 98.7 L601.1 98.3 L601.8 97.9 L602.5 97.6 L603.2 97.3 L603.9 97.1 L604.6 96.9 L605.3 96.7 L606.0 96.6 L606.7 96.5 L607.4 96.4 L608.1 96.3 L608.8 96.2 L609.5 96.1 L610.2 96.0 L610.9 96.0 L611.6 95.9 L612.3 95.9 L613.0 95.9 L613.7 95.8 L614.4 95.8 L615.1 95.8 L615.8 95.8 L616.5 95.8 L617.2 95.7 L617.9 95.7 L618.6 95.7 L619.3 95.7 L620.0 95.7 L620.7 95.7 L621.4 95.7 L622.1 95.7 L622.8 95.7 L623.5 95.7 L624.2 95.7 L624.9 95.7 L625.6 95.7 L626.3 95.7 L627.0 95.7 L627.7 95.7 L628.4 95.7 L629.1 95.7 L629.8 95.7 L630.5 95.7 L631.2 95.7 L631.9 95.7 L632.6 95.7 L633.3 95.7 L634.0 95.7 L634.7 95.7 L635.4 95.7 L636.1 95.7 L636.8 95.7 L637.5 95.6 L638.2 95.6 L638.9 95.6 L639.6 95.6 L640.3 95.6 L641.0 95.6 L641.7 95.6 L642.4 95.6 L643.1 95.6 L643.8 95.6 L644.5 95.6 L645.2 95.6 L645.9 95.6 L646.6 95.6 L647.3 95.6 L648.0 95.6 L648.7 95.6 L649.4 95.6 L650.1 95.6 L650.8 95.6 L651.5 95.6 L652.2 95.6" fill="none" stroke="#000" stroke-width="1.9"/>
<circle cx="523.4" cy="189" r="2.76" fill="#000"/>
<circle cx="541.88" cy="189" r="2.76" fill="#000"/>
<circle cx="560.36" cy="187.26" r="2.76" fill="#000"/>
<circle cx="578.84" cy="161.88" r="2.76" fill="#000"/>
<circle cx="597.32" cy="101.12" r="2.76" fill="#000"/>
<circle cx="615.8" cy="81.59" r="2.76" fill="#000"/>
<path d="M634.28 93.52V102.2M631.06 93.52H637.5M631.06 102.2H637.5" stroke="#000" stroke-width="1.2" fill="none"/>
<circle cx="634.28" cy="97.86" r="2.76" fill="#000"/>
<path d="M652.76 103.28V111.97M649.54 103.28H655.98M649.54 111.97H655.98" stroke="#000" stroke-width="1.2" fill="none"/>
<circle cx="652.76" cy="107.62" r="2.76" fill="#000"/>
<line x1="497" y1="16.9" x2="511.2" y2="16.9" stroke="#000" stroke-width="2"/>
<circle cx="504.1" cy="16.9" r="2.76" fill="#000"/>
<text x="513.3" y="20.3" class="l" font-size="9.0">WT</text>
<line x1="497" y1="32.1" x2="511.2" y2="32.1" stroke="#ff8000" stroke-width="2"/>
<path d="M504.1 28.88L507.32 34.52L500.88 34.52Z" fill="#ff8000"/>
<text x="513.7" y="35.5" class="l" font-size="9.0">D164N,E165Q</text>
<text x="573.8" y="35.5" class="l" font-size="9.0">+0.23</text>
<line x1="498.1" y1="49" x2="512.5" y2="49" stroke="#9a00ee" stroke-width="2"/>
<path d="M505.3 45.78L508.52 51.41L502.08 51.41Z" fill="#9a00ee"/>
<text x="514.8" y="52.4" class="l" font-size="9.0">D24N</text>
<text x="560" y="52.4" class="l" font-size="9.0">+0.09</text>
<line x1="497" y1="65.4" x2="511.2" y2="65.4" stroke="#f2424f" stroke-width="2"/>
<rect x="501.69" y="62.99" width="4.83" height="4.83" fill="#f2424f"/>
<text x="513.3" y="68.8" class="l" font-size="9.0">D169N</text>
<text x="560.4" y="68.8" class="l" font-size="9.0">-0.11</text>
<line x1="497" y1="81.8" x2="511.2" y2="81.8" stroke="#10bf10" stroke-width="2"/>
<path d="M504.1 85.02L507.32 79.38L500.88 79.38Z" fill="#10bf10"/>
<text x="513.3" y="85.2" class="l" font-size="9.0">E183Q</text>
<text x="560.4" y="85.2" class="l" font-size="9.0">-0.01</text>
<text x="562.6" y="20.7" font-size="9.2"><tspan font-size="7.6">Δ</tspan>pH<tspan font-size="5.8" dx="1" dy="3.6">50</tspan></text>
<line x1="36.6" y1="267" x2="36.6" y2="456.6" stroke="#000" stroke-width="1.6"/>
<line x1="35.8" y1="455.9" x2="226.4" y2="455.9" stroke="#000" stroke-width="1.6"/>
<line x1="31" y1="441.4" x2="36.6" y2="441.4" stroke="#000" stroke-width="1.5"/>
<text x="28.6" y="444.6" text-anchor="end" class="t">0</text>
<line x1="31" y1="412.94" x2="36.6" y2="412.94" stroke="#000" stroke-width="1.5"/>
<text x="28.6" y="416.14" text-anchor="end" class="t">20</text>
<line x1="31" y1="384.48" x2="36.6" y2="384.48" stroke="#000" stroke-width="1.5"/>
<text x="28.6" y="387.68" text-anchor="end" class="t">40</text>
<line x1="31" y1="356.02" x2="36.6" y2="356.02" stroke="#000" stroke-width="1.5"/>
<text x="28.6" y="359.22" text-anchor="end" class="t">60</text>
<line x1="31" y1="327.56" x2="36.6" y2="327.56" stroke="#000" stroke-width="1.5"/>
<text x="28.6" y="330.76" text-anchor="end" class="t">80</text>
<line x1="31" y1="299.1" x2="36.6" y2="299.1" stroke="#000" stroke-width="1.5"/>
<text x="28.6" y="302.3" text-anchor="end" class="t">100</text>
<line x1="31" y1="270.64" x2="36.6" y2="270.64" stroke="#000" stroke-width="1.5"/>
<text x="28.6" y="273.84" text-anchor="end" class="t">120</text>
<line x1="36.6" y1="455.9" x2="36.6" y2="462.1" stroke="#000" stroke-width="1.5"/>
<text x="35.7" y="472.7" text-anchor="middle" class="t">-9.5</text>
<line x1="68.1" y1="455.9" x2="68.1" y2="462.1" stroke="#000" stroke-width="1.5"/>
<text x="67.2" y="472.7" text-anchor="middle" class="t">-9.0</text>
<line x1="99.6" y1="455.9" x2="99.6" y2="462.1" stroke="#000" stroke-width="1.5"/>
<text x="98.7" y="472.7" text-anchor="middle" class="t">-8.5</text>
<line x1="131.1" y1="455.9" x2="131.1" y2="462.1" stroke="#000" stroke-width="1.5"/>
<text x="130.2" y="472.7" text-anchor="middle" class="t">-8.0</text>
<line x1="162.6" y1="455.9" x2="162.6" y2="462.1" stroke="#000" stroke-width="1.5"/>
<text x="161.7" y="472.7" text-anchor="middle" class="t">-7.5</text>
<line x1="194.1" y1="455.9" x2="194.1" y2="462.1" stroke="#000" stroke-width="1.5"/>
<text x="193.2" y="472.7" text-anchor="middle" class="t">-7.0</text>
<line x1="225.6" y1="455.9" x2="225.6" y2="462.1" stroke="#000" stroke-width="1.5"/>
<text x="224.7" y="472.7" text-anchor="middle" class="t">-6.5</text>
<text x="132.4" y="483.3" text-anchor="middle" class="x">log[H<tspan font-size="5.5" dy="-3.9">+</tspan><tspan dy="3.9">]</tspan></text>
<text transform="translate(11,347) rotate(-90)" text-anchor="middle" class="y">RLU (% of WT)</text>
<path d="M68.0 445.4 L68.7 445.4 L69.4 445.4 L70.1 445.4 L70.8 445.4 L71.5 445.4 L72.2 445.4 L72.9 445.4 L73.6 445.4 L74.3 445.4 L75.0 445.4 L75.7 445.4 L76.4 445.4 L77.1 445.4 L77.8 445.4 L78.5 445.3 L79.2 445.3 L79.9 445.3 L80.6 445.3 L81.3 445.3 L82.0 445.3 L82.7 445.3 L83.4 445.3 L84.1 445.3 L84.8 445.3 L85.5 445.3 L86.2 445.2 L86.9 445.2 L87.6 445.2 L88.3 445.2 L89.0 445.2 L89.7 445.2 L90.4 445.1 L91.1 445.1 L91.8 445.1 L92.5 445.1 L93.2 445.1 L93.9 445.0 L94.6 445.0 L95.3 445.0 L96.0 444.9 L96.7 444.9 L97.4 444.9 L98.1 444.8 L98.8 444.8 L99.5 444.7 L100.2 444.7 L100.9 444.7 L101.6 444.6 L102.3 444.6 L103.0 444.5 L103.7 444.4 L104.4 444.4 L105.1 444.3 L105.8 444.2 L106.5 444.2 L107.2 444.1 L107.9 444.0 L108.6 443.9 L109.3 443.8 L110.0 443.7 L110.7 443.6 L111.4 443.5 L112.1 443.3 L112.8 443.2 L113.5 443.1 L114.2 442.9 L114.9 442.8 L115.6 442.6 L116.3 442.4 L117.0 442.3 L117.7 442.1 L118.4 441.9 L119.1 441.7 L119.8 441.4 L120.5 441.2 L121.2 441.0 L121.9 440.7 L122.6 440.4 L123.3 440.2 L124.0 439.9 L124.7 439.5 L125.4 439.2 L126.1 438.9 L126.8 438.5 L127.5 438.2 L128.2 437.8 L128.9 437.4 L129.6 437.0 L130.3 436.5 L131.0 436.1 L131.7 435.6 L132.4 435.2 L133.1 434.7 L133.8 434.2 L134.5 433.7 L135.2 433.1 L135.9 432.6 L136.6 432.0 L137.3 431.5 L138.0 430.9 L138.7 430.3 L139.4 429.8 L140.1 429.2 L140.8 428.6 L141.5 428.0 L142.2 427.4 L142.9 426.8 L143.6 426.2 L144.3 425.6 L145.0 425.0 L145.7 424.4 L146.4 423.9 L147.1 423.3 L147.8 422.7 L148.5 422.2 L149.2 421.6 L149.9 421.1 L150.6 420.6 L151.3 420.1 L152.0 419.6 L152.7 419.1 L153.4 418.7 L154.1 418.2 L154.8 417.8 L155.5 417.4 L156.2 417.0 L156.9 416.6 L157.6 416.2 L158.3 415.9 L159.0 415.6 L159.7 415.2 L160.4 414.9 L161.1 414.6 L161.8 414.4 L162.5 414.1 L163.2 413.9 L163.9 413.6 L164.6 413.4 L165.3 413.2 L166.0 413.0 L166.7 412.8 L167.4 412.6 L168.1 412.5 L168.8 412.3 L169.5 412.2 L170.2 412.0 L170.9 411.9 L171.6 411.8 L172.3 411.6 L173.0 411.5 L173.7 411.4 L174.4 411.3 L175.1 411.2 L175.8 411.2 L176.5 411.1 L177.2 411.0 L177.9 410.9 L178.6 410.9 L179.3 410.8 L180.0 410.8 L180.7 410.7 L181.4 410.7 L182.1 410.6 L182.8 410.6 L183.5 410.5 L184.2 410.5 L184.9 410.5 L185.6 410.4 L186.3 410.4 L187.0 410.4 L187.7 410.3 L188.4 410.3 L189.1 410.3 L189.8 410.3 L190.5 410.2 L191.2 410.2 L191.9 410.2 L192.6 410.2 L193.3 410.2 L194.0 410.2 L194.7 410.1 L195.4 410.1 L196.1 410.1 L196.8 410.1 L197.5 410.1 L198.2 410.1 L198.9 410.1 L199.6 410.1 L200.3 410.1" fill="none" stroke="#10bf10" stroke-width="1.8"/>
<rect x="65.79" y="443.36" width="4.62" height="4.62" fill="#10bf10"/>
<rect x="84.69" y="442.65" width="4.62" height="4.62" fill="#10bf10"/>
<rect x="103.59" y="441.65" width="4.62" height="4.62" fill="#10bf10"/>
<rect x="122.49" y="437.67" width="4.62" height="4.62" fill="#10bf10"/>
<rect x="141.39" y="424.15" width="4.62" height="4.62" fill="#10bf10"/>
<rect x="160.29" y="412.05" width="4.62" height="4.62" fill="#10bf10"/>
<rect x="179.19" y="411.34" width="4.62" height="4.62" fill="#10bf10"/>
<rect x="198.09" y="407.07" width="4.62" height="4.62" fill="#10bf10"/>
<path d="M68.0 438.3 L68.7 438.3 L69.4 438.3 L70.1 438.3 L70.8 438.3 L71.5 438.3 L72.2 438.3 L72.9 438.3 L73.6 438.3 L74.3 438.3 L75.0 438.3 L75.7 438.3 L76.4 438.3 L77.1 438.3 L77.8 438.3 L78.5 438.3 L79.2 438.2 L79.9 438.2 L80.6 438.2 L81.3 438.2 L82.0 438.2 L82.7 438.2 L83.4 438.2 L84.1 438.2 L84.8 438.2 L85.5 438.2 L86.2 438.1 L86.9 438.1 L87.6 438.1 L88.3 438.1 L89.0 438.1 L89.7 438.1 L90.4 438.0 L91.1 438.0 L91.8 438.0 L92.5 438.0 L93.2 438.0 L93.9 437.9 L94.6 437.9 L95.3 437.9 L96.0 437.8 L96.7 437.8 L97.4 437.8 L98.1 437.7 L98.8 437.7 L99.5 437.6 L100.2 437.6 L100.9 437.5 L101.6 437.5 L102.3 437.4 L103.0 437.4 L103.7 437.3 L104.4 437.3 L105.1 437.2 L105.8 437.1 L106.5 437.0 L107.2 437.0 L107.9 436.9 L108.6 436.8 L109.3 436.7 L110.0 436.6 L110.7 436.5 L111.4 436.4 L112.1 436.2 L112.8 436.1 L113.5 436.0 L114.2 435.8 L114.9 435.7 L115.6 435.5 L116.3 435.3 L117.0 435.2 L117.7 435.0 L118.4 434.8 L119.1 434.6 L119.8 434.3 L120.5 434.1 L121.2 433.9 L121.9 433.6 L122.6 433.4 L123.3 433.1 L124.0 432.8 L124.7 432.5 L125.4 432.1 L126.1 431.8 L126.8 431.5 L127.5 431.1 L128.2 430.7 L128.9 430.3 L129.6 429.9 L130.3 429.4 L131.0 429.0 L131.7 428.5 L132.4 428.0 L133.1 427.5 L133.8 427.0 L134.5 426.4 L135.2 425.9 L135.9 425.3 L136.6 424.7 L137.3 424.1 L138.0 423.4 L138.7 422.8 L139.4 422.1 L140.1 421.4 L140.8 420.7 L141.5 419.9 L142.2 419.2 L142.9 418.4 L143.6 417.6 L144.3 416.8 L145.0 416.0 L145.7 415.1 L146.4 414.3 L147.1 413.4 L147.8 412.5 L148.5 411.7 L149.2 410.8 L149.9 409.8 L150.6 408.9 L151.3 408.0 L152.0 407.1 L152.7 406.1 L153.4 405.2 L154.1 404.2 L154.8 403.3 L155.5 402.3 L156.2 401.4 L156.9 400.4 L157.6 399.5 L158.3 398.5 L159.0 397.6 L159.7 396.6 L160.4 395.7 L161.1 394.8 L161.8 393.8 L162.5 392.9 L163.2 392.0 L163.9 391.1 L164.6 390.3 L165.3 389.4 L166.0 388.6 L166.7 387.7 L167.4 386.9 L168.1 386.1 L168.8 385.3 L169.5 384.5 L170.2 383.7 L170.9 383.0 L171.6 382.2 L172.3 381.5 L173.0 380.8 L173.7 380.1 L174.4 379.5 L175.1 378.8 L175.8 378.2 L176.5 377.6 L177.2 377.0 L177.9 376.4 L178.6 375.8 L179.3 375.3 L180.0 374.7 L180.7 374.2 L181.4 373.7 L182.1 373.2 L182.8 372.7 L183.5 372.3 L184.2 371.8 L184.9 371.4 L185.6 371.0 L186.3 370.6 L187.0 370.2 L187.7 369.8 L188.4 369.5 L189.1 369.1 L189.8 368.8 L190.5 368.5 L191.2 368.2 L191.9 367.9 L192.6 367.6 L193.3 367.3 L194.0 367.0 L194.7 366.8 L195.4 366.5 L196.1 366.3 L196.8 366.0 L197.5 365.8 L198.2 365.6 L198.9 365.4 L199.6 365.2 L200.3 365.0 L201.0 364.8 L201.7 364.7 L202.4 364.5 L203.1 364.3 L203.8 364.2 L204.5 364.0 L205.2 363.9 L205.9 363.8 L206.6 363.6 L207.3 363.5 L208.0 363.4 L208.7 363.3 L209.4 363.2 L210.1 363.1 L210.8 362.9 L211.5 362.9 L212.2 362.8 L212.9 362.7 L213.6 362.6 L214.3 362.5 L215.0 362.4 L215.7 362.3 L216.4 362.3 L217.1 362.2 L217.8 362.1 L218.5 362.1 L219.2 362.0 L219.9 362.0" fill="none" stroke="#0000ff" stroke-width="1.8"/>
<path d="M68.1 441.06L71.18 435.67L65.02 435.67Z" fill="#0000ff"/>
<path d="M87 442.06L90.08 436.67L83.92 436.67Z" fill="#0000ff"/>
<path d="M105.9 440.5L108.98 435.11L102.82 435.11Z" fill="#0000ff"/>
<path d="M124.8 438.79L127.88 433.4L121.72 433.4Z" fill="#0000ff"/>
<path d="M143.7 418.87L146.78 413.48L140.62 413.48Z" fill="#0000ff"/>
<path d="M162.6 397.52L165.68 392.13L159.52 392.13Z" fill="#0000ff"/>
<path d="M181.5 387.56L184.58 382.17L178.42 382.17Z" fill="#0000ff"/>
<path d="M200.4 359.1L203.48 353.71L197.32 353.71Z" fill="#0000ff"/>
<path d="M219.3 361.71V373.1M216.22 361.71H222.38M216.22 373.1H222.38" stroke="#0000ff" stroke-width="1.2" fill="none"/>
<path d="M219.3 370.48L222.38 365.09L216.22 365.09Z" fill="#0000ff"/>
<path d="M68.0 437.3 L68.7 437.3 L69.4 437.3 L70.1 437.3 L70.8 437.3 L71.5 437.3 L72.2 437.2 L72.9 437.2 L73.6 437.2 L74.3 437.2 L75.0 437.2 L75.7 437.2 L76.4 437.2 L77.1 437.2 L77.8 437.1 L78.5 437.1 L79.2 437.1 L79.9 437.1 L80.6 437.1 L81.3 437.1 L82.0 437.0 L82.7 437.0 L83.4 437.0 L84.1 437.0 L84.8 436.9 L85.5 436.9 L86.2 436.9 L86.9 436.9 L87.6 436.8 L88.3 436.8 L89.0 436.8 L89.7 436.7 L90.4 436.7 L91.1 436.6 L91.8 436.6 L92.5 436.5 L93.2 436.5 L93.9 436.4 L94.6 436.4 L95.3 436.3 L96.0 436.2 L96.7 436.2 L97.4 436.1 L98.1 436.0 L98.8 436.0 L99.5 435.9 L100.2 435.8 L100.9 435.7 L101.6 435.6 L102.3 435.5 L103.0 435.4 L103.7 435.2 L104.4 435.1 L105.1 435.0 L105.8 434.8 L106.5 434.7 L107.2 434.5 L107.9 434.4 L108.6 434.2 L109.3 434.0 L110.0 433.8 L110.7 433.6 L111.4 433.4 L112.1 433.2 L112.8 432.9 L113.5 432.7 L114.2 432.4 L114.9 432.1 L115.6 431.8 L116.3 431.5 L117.0 431.1 L117.7 430.8 L118.4 430.4 L119.1 430.0 L119.8 429.6 L120.5 429.1 L121.2 428.7 L121.9 428.2 L122.6 427.7 L123.3 427.1 L124.0 426.5 L124.7 425.9 L125.4 425.3 L126.1 424.6 L126.8 424.0 L127.5 423.2 L128.2 422.5 L128.9 421.7 L129.6 420.8 L130.3 420.0 L131.0 419.1 L131.7 418.1 L132.4 417.2 L133.1 416.1 L133.8 415.1 L134.5 414.0 L135.2 412.9 L135.9 411.7 L136.6 410.6 L137.3 409.3 L138.0 408.1 L138.7 406.8 L139.4 405.5 L140.1 404.2 L140.8 402.9 L141.5 401.6 L142.2 400.2 L142.9 398.9 L143.6 397.5 L144.3 396.2 L145.0 394.8 L145.7 393.5 L146.4 392.2 L147.1 390.9 L147.8 389.7 L148.5 388.4 L149.2 387.2 L149.9 386.1 L150.6 385.0 L151.3 383.9 L152.0 382.8 L152.7 381.8 L153.4 380.9 L154.1 380.0 L154.8 379.1 L155.5 378.3 L156.2 377.6 L156.9 376.8 L157.6 376.2 L158.3 375.5 L159.0 374.9 L159.7 374.4 L160.4 373.9 L161.1 373.4 L161.8 372.9 L162.5 372.5 L163.2 372.1 L163.9 371.8 L164.6 371.5 L165.3 371.2 L166.0 370.9 L166.7 370.6 L167.4 370.4 L168.1 370.2 L168.8 370.0 L169.5 369.8 L170.2 369.6 L170.9 369.5 L171.6 369.3 L172.3 369.2 L173.0 369.1 L173.7 369.0 L174.4 368.9 L175.1 368.8 L175.8 368.7 L176.5 368.6 L177.2 368.5 L177.9 368.5 L178.6 368.4 L179.3 368.4 L180.0 368.3 L180.7 368.3 L181.4 368.2 L182.1 368.2 L182.8 368.2 L183.5 368.1 L184.2 368.1 L184.9 368.1 L185.6 368.1 L186.3 368.0 L187.0 368.0 L187.7 368.0 L188.4 368.0 L189.1 368.0 L189.8 368.0 L190.5 367.9 L191.2 367.9 L191.9 367.9 L192.6 367.9 L193.3 367.9 L194.0 367.9 L194.7 367.9 L195.4 367.9 L196.1 367.9 L196.8 367.9 L197.5 367.9 L198.2 367.9 L198.9 367.9 L199.6 367.9 L200.3 367.8" fill="none" stroke="#9a00ee" stroke-width="1.8"/>
<path d="M68.1 434.05L71.18 439.44L65.02 439.44Z" fill="#9a00ee"/>
<path d="M87 434.05L90.08 439.44L83.92 439.44Z" fill="#9a00ee"/>
<path d="M105.9 431.2L108.98 436.59L102.82 436.59Z" fill="#9a00ee"/>
<path d="M124.8 423.38L127.88 428.77L121.72 428.77Z" fill="#9a00ee"/>
<path d="M143.7 391.36L146.78 396.75L140.62 396.75Z" fill="#9a00ee"/>
<path d="M162.6 368.83V377.37M159.52 368.83H165.68M159.52 377.37H165.68" stroke="#9a00ee" stroke-width="1.2" fill="none"/>
<path d="M162.6 370.02L165.68 375.41L159.52 375.41Z" fill="#9a00ee"/>
<path d="M181.5 370.02L184.58 375.41L178.42 375.41Z" fill="#9a00ee"/>
<path d="M200.4 362.9L203.48 368.29L197.32 368.29Z" fill="#9a00ee"/>
<path d="M68.0 444.8 L68.7 444.8 L69.4 444.8 L70.1 444.8 L70.8 444.8 L71.5 444.8 L72.2 444.8 L72.9 444.8 L73.6 444.8 L74.3 444.8 L75.0 444.8 L75.7 444.8 L76.4 444.8 L77.1 444.8 L77.8 444.8 L78.5 444.8 L79.2 444.8 L79.9 444.8 L80.6 444.8 L81.3 444.8 L82.0 444.7 L82.7 444.7 L83.4 444.7 L84.1 444.7 L84.8 444.7 L85.5 444.7 L86.2 444.7 L86.9 444.7 L87.6 444.7 L88.3 444.7 L89.0 444.6 L89.7 444.6 L90.4 444.6 L91.1 444.6 L91.8 444.6 L92.5 444.5 L93.2 444.5 L93.9 444.5 L94.6 444.5 L95.3 444.4 L96.0 444.4 L96.7 444.4 L97.4 444.3 L98.1 444.3 L98.8 444.2 L99.5 444.2 L100.2 444.1 L100.9 444.1 L101.6 444.0 L102.3 443.9 L103.0 443.8 L103.7 443.8 L104.4 443.7 L105.1 443.6 L105.8 443.5 L106.5 443.4 L107.2 443.2 L107.9 443.1 L108.6 443.0 L109.3 442.8 L110.0 442.6 L110.7 442.4 L111.4 442.2 L112.1 442.0 L112.8 441.8 L113.5 441.5 L114.2 441.3 L114.9 441.0 L115.6 440.6 L116.3 440.3 L117.0 439.9 L117.7 439.5 L118.4 439.1 L119.1 438.6 L119.8 438.1 L120.5 437.5 L121.2 436.9 L121.9 436.3 L122.6 435.6 L123.3 434.8 L124.0 434.0 L124.7 433.1 L125.4 432.2 L126.1 431.1 L126.8 430.0 L127.5 428.8 L128.2 427.6 L128.9 426.2 L129.6 424.7 L130.3 423.2 L131.0 421.5 L131.7 419.7 L132.4 417.8 L133.1 415.8 L133.8 413.6 L134.5 411.3 L135.2 408.9 L135.9 406.3 L136.6 403.6 L137.3 400.8 L138.0 397.8 L138.7 394.7 L139.4 391.5 L140.1 388.1 L140.8 384.7 L141.5 381.1 L142.2 377.4 L142.9 373.7 L143.6 369.8 L144.3 366.0 L145.0 362.1 L145.7 358.1 L146.4 354.2 L147.1 350.3 L147.8 346.5 L148.5 342.7 L149.2 338.9 L149.9 335.3 L150.6 331.8 L151.3 328.4 L152.0 325.1 L152.7 321.9 L153.4 318.9 L154.1 316.1 L154.8 313.4 L155.5 310.8 L156.2 308.4 L156.9 306.2 L157.6 304.1 L158.3 302.1 L159.0 300.3 L159.7 298.6 L160.4 297.1 L161.1 295.6 L161.8 294.3 L162.5 293.1 L163.2 292.0 L163.9 291.0 L164.6 290.0 L165.3 289.2 L166.0 288.4 L166.7 287.7 L167.4 287.1 L168.1 286.5 L168.8 286.0 L169.5 285.5 L170.2 285.1 L170.9 284.7 L171.6 284.3 L172.3 284.0 L173.0 283.7 L173.7 283.4 L174.4 283.2 L175.1 283.0 L175.8 282.8 L176.5 282.6 L177.2 282.4 L177.9 282.3 L178.6 282.2 L179.3 282.0 L180.0 281.9 L180.7 281.8 L181.4 281.7 L182.1 281.7 L182.8 281.6 L183.5 281.5 L184.2 281.5 L184.9 281.4 L185.6 281.4 L186.3 281.3 L187.0 281.3 L187.7 281.3 L188.4 281.2 L189.1 281.2 L189.8 281.2 L190.5 281.2 L191.2 281.1 L191.9 281.1 L192.6 281.1 L193.3 281.1 L194.0 281.1 L194.7 281.1 L195.4 281.1 L196.1 281.0 L196.8 281.0 L197.5 281.0 L198.2 281.0 L198.9 281.0 L199.6 281.0 L200.3 281.0" fill="none" stroke="#c4c000" stroke-width="1.8"/>
<circle cx="68.1" cy="444.25" r="2.64" fill="#c4c000"/>
<circle cx="87" cy="444.25" r="2.64" fill="#c4c000"/>
<circle cx="105.9" cy="442.82" r="2.64" fill="#c4c000"/>
<circle cx="124.8" cy="435.71" r="2.64" fill="#c4c000"/>
<path d="M143.7 367.83V376.37M140.62 367.83H146.78M140.62 376.37H146.78" stroke="#c4c000" stroke-width="1.2" fill="none"/>
<circle cx="143.7" cy="372.1" r="2.64" fill="#c4c000"/>
<path d="M162.6 286.29V300.52M159.52 286.29H165.68M159.52 300.52H165.68" stroke="#c4c000" stroke-width="1.2" fill="none"/>
<circle cx="162.6" cy="293.41" r="2.64" fill="#c4c000"/>
<path d="M181.5 280.6V289.14M178.42 280.6H184.58M178.42 289.14H184.58" stroke="#c4c000" stroke-width="1.2" fill="none"/>
<circle cx="181.5" cy="284.87" r="2.64" fill="#c4c000"/>
<path d="M200.4 272.06V286.29M197.32 272.06H203.48M197.32 286.29H203.48" stroke="#c4c000" stroke-width="1.2" fill="none"/>
<circle cx="200.4" cy="279.18" r="2.64" fill="#c4c000"/>
<path d="M68.0 441.2 L68.7 441.2 L69.4 441.1 L70.1 441.1 L70.8 441.1 L71.5 441.1 L72.2 441.0 L72.9 441.0 L73.6 441.0 L74.3 440.9 L75.0 440.9 L75.7 440.8 L76.4 440.8 L77.1 440.7 L77.8 440.7 L78.5 440.6 L79.2 440.6 L79.9 440.5 L80.6 440.4 L81.3 440.4 L82.0 440.3 L82.7 440.2 L83.4 440.1 L84.1 440.0 L84.8 439.9 L85.5 439.8 L86.2 439.7 L86.9 439.5 L87.6 439.4 L88.3 439.2 L89.0 439.1 L89.7 438.9 L90.4 438.7 L91.1 438.5 L91.8 438.3 L92.5 438.1 L93.2 437.8 L93.9 437.6 L94.6 437.3 L95.3 437.0 L96.0 436.7 L96.7 436.4 L97.4 436.0 L98.1 435.6 L98.8 435.2 L99.5 434.8 L100.2 434.3 L100.9 433.8 L101.6 433.3 L102.3 432.7 L103.0 432.1 L103.7 431.5 L104.4 430.8 L105.1 430.1 L105.8 429.4 L106.5 428.6 L107.2 427.7 L107.9 426.8 L108.6 425.9 L109.3 424.9 L110.0 423.8 L110.7 422.7 L111.4 421.6 L112.1 420.4 L112.8 419.1 L113.5 417.8 L114.2 416.4 L114.9 415.0 L115.6 413.4 L116.3 411.9 L117.0 410.3 L117.7 408.6 L118.4 406.9 L119.1 405.1 L119.8 403.2 L120.5 401.4 L121.2 399.4 L121.9 397.5 L122.6 395.4 L123.3 393.4 L124.0 391.3 L124.7 389.2 L125.4 387.1 L126.1 384.9 L126.8 382.8 L127.5 380.6 L128.2 378.5 L128.9 376.3 L129.6 374.2 L130.3 372.0 L131.0 369.9 L131.7 367.9 L132.4 365.8 L133.1 363.8 L133.8 361.8 L134.5 359.9 L135.2 358.0 L135.9 356.2 L136.6 354.4 L137.3 352.6 L138.0 350.9 L138.7 349.3 L139.4 347.8 L140.1 346.2 L140.8 344.8 L141.5 343.4 L142.2 342.1 L142.9 340.8 L143.6 339.6 L144.3 338.4 L145.0 337.3 L145.7 336.3 L146.4 335.3 L147.1 334.3 L147.8 333.4 L148.5 332.6 L149.2 331.7 L149.9 331.0 L150.6 330.3 L151.3 329.6 L152.0 328.9 L152.7 328.3 L153.4 327.8 L154.1 327.2 L154.8 326.7 L155.5 326.3 L156.2 325.8 L156.9 325.4 L157.6 325.0 L158.3 324.6 L159.0 324.3 L159.7 324.0 L160.4 323.7 L161.1 323.4 L161.8 323.1 L162.5 322.9 L163.2 322.6 L163.9 322.4 L164.6 322.2 L165.3 322.0 L166.0 321.9 L166.7 321.7 L167.4 321.5 L168.1 321.4 L168.8 321.3 L169.5 321.1 L170.2 321.0 L170.9 320.9 L171.6 320.8 L172.3 320.7 L173.0 320.6 L173.7 320.5 L174.4 320.4 L175.1 320.4 L175.8 320.3 L176.5 320.2 L177.2 320.2 L177.9 320.1 L178.6 320.1 L179.3 320.0 L180.0 320.0 L180.7 319.9 L181.4 319.9 L182.1 319.9 L182.8 319.8 L183.5 319.8 L184.2 319.8 L184.9 319.7 L185.6 319.7 L186.3 319.7 L187.0 319.7 L187.7 319.7 L188.4 319.6 L189.1 319.6 L189.8 319.6 L190.5 319.6 L191.2 319.6 L191.9 319.6 L192.6 319.5 L193.3 319.5 L194.0 319.5 L194.7 319.5 L195.4 319.5 L196.1 319.5 L196.8 319.5 L197.5 319.5 L198.2 319.5 L198.9 319.5 L199.6 319.5 L200.3 319.4" fill="none" stroke="#000" stroke-width="1.8"/>
<circle cx="68.1" cy="441.4" r="2.64" fill="#000"/>
<circle cx="87" cy="439.98" r="2.64" fill="#000"/>
<circle cx="105.9" cy="429.02" r="2.64" fill="#000"/>
<circle cx="124.8" cy="390.17" r="2.64" fill="#000"/>
<path d="M143.7 335.1V346.49M140.62 335.1H146.78M140.62 346.49H146.78" stroke="#000" stroke-width="1.2" fill="none"/>
<circle cx="143.7" cy="340.79" r="2.64" fill="#000"/>
<path d="M162.6 306.21V317.6M159.52 306.21H165.68M159.52 317.6H165.68" stroke="#000" stroke-width="1.2" fill="none"/>
<circle cx="162.6" cy="311.91" r="2.64" fill="#000"/>
<circle cx="181.5" cy="299.1" r="2.64" fill="#000"/>
<circle cx="200.4" cy="346.06" r="2.64" fill="#000"/>
<path d="M68.0 412.1 L68.7 412.0 L69.4 411.8 L70.1 411.6 L70.8 411.4 L71.5 411.2 L72.2 410.9 L72.9 410.7 L73.6 410.4 L74.3 410.1 L75.0 409.8 L75.7 409.5 L76.4 409.1 L77.1 408.7 L77.8 408.3 L78.5 407.9 L79.2 407.4 L79.9 406.8 L80.6 406.3 L81.3 405.7 L82.0 405.0 L82.7 404.4 L83.4 403.6 L84.1 402.8 L84.8 402.0 L85.5 401.1 L86.2 400.1 L86.9 399.0 L87.6 397.9 L88.3 396.7 L89.0 395.4 L89.7 394.0 L90.4 392.6 L91.1 391.0 L91.8 389.4 L92.5 387.6 L93.2 385.8 L93.9 383.8 L94.6 381.7 L95.3 379.5 L96.0 377.2 L96.7 374.8 L97.4 372.3 L98.1 369.6 L98.8 366.9 L99.5 364.1 L100.2 361.3 L100.9 358.3 L101.6 355.3 L102.3 352.3 L103.0 349.3 L103.7 346.3 L104.4 343.3 L105.1 340.3 L105.8 337.4 L106.5 334.6 L107.2 331.9 L107.9 329.3 L108.6 326.9 L109.3 324.5 L110.0 322.3 L110.7 320.3 L111.4 318.4 L112.1 316.7 L112.8 315.1 L113.5 313.6 L114.2 312.3 L114.9 311.1 L115.6 310.0 L116.3 309.0 L117.0 308.2 L117.7 307.4 L118.4 306.7 L119.1 306.1 L119.8 305.5 L120.5 305.1 L121.2 304.6 L121.9 304.2 L122.6 303.9 L123.3 303.6 L124.0 303.4 L124.7 303.1 L125.4 302.9 L126.1 302.8 L126.8 302.6 L127.5 302.5 L128.2 302.3 L128.9 302.2 L129.6 302.2 L130.3 302.1 L131.0 302.0 L131.7 301.9 L132.4 301.9 L133.1 301.8 L133.8 301.8 L134.5 301.8 L135.2 301.7 L135.9 301.7 L136.6 301.7 L137.3 301.7 L138.0 301.6 L138.7 301.6 L139.4 301.6 L140.1 301.6 L140.8 301.6 L141.5 301.6 L142.2 301.6 L142.9 301.6 L143.6 301.6 L144.3 301.6 L145.0 301.6 L145.7 301.6 L146.4 301.5 L147.1 301.5 L147.8 301.5 L148.5 301.5 L149.2 301.5 L149.9 301.5 L150.6 301.5 L151.3 301.5 L152.0 301.5 L152.7 301.5 L153.4 301.5 L154.1 301.5 L154.8 301.5 L155.5 301.5 L156.2 301.5 L156.9 301.5 L157.6 301.5 L158.3 301.5 L159.0 301.5 L159.7 301.5 L160.4 301.5 L161.1 301.5 L161.8 301.5 L162.5 301.5 L163.2 301.5 L163.9 301.5 L164.6 301.5 L165.3 301.5 L166.0 301.5 L166.7 301.5 L167.4 301.5 L168.1 301.5 L168.8 301.5 L169.5 301.5 L170.2 301.5 L170.9 301.5 L171.6 301.5 L172.3 301.5 L173.0 301.5 L173.7 301.5 L174.4 301.5 L175.1 301.5 L175.8 301.5 L176.5 301.5 L177.2 301.5 L177.9 301.5 L178.6 301.5 L179.3 301.5 L180.0 301.5 L180.7 301.5 L181.4 301.5 L182.1 301.5 L182.8 301.5 L183.5 301.5 L184.2 301.5 L184.9 301.5 L185.6 301.5 L186.3 301.5 L187.0 301.5 L187.7 301.5 L188.4 301.5 L189.1 301.5 L189.8 301.5 L190.5 301.5 L191.2 301.5 L191.9 301.5 L192.6 301.5 L193.3 301.5 L194.0 301.5 L194.7 301.5 L195.4 301.5 L196.1 301.5 L196.8 301.5 L197.5 301.5 L198.2 301.5 L198.9 301.5" fill="none" stroke="#f2424f" stroke-width="1.8"/>
<rect x="65.79" y="411.63" width="4.62" height="4.62" fill="#f2424f"/>
<rect x="84.69" y="395.69" width="4.62" height="4.62" fill="#f2424f"/>
<rect x="103.59" y="339.91" width="4.62" height="4.62" fill="#f2424f"/>
<path d="M124.8 291.98V306.21M121.72 291.98H127.88M121.72 306.21H127.88" stroke="#f2424f" stroke-width="1.2" fill="none"/>
<rect x="122.49" y="296.79" width="4.62" height="4.62" fill="#f2424f"/>
<rect x="141.39" y="265.48" width="4.62" height="4.62" fill="#f2424f"/>
<path d="M162.6 273.49V282.02M159.52 273.49H165.68M159.52 282.02H165.68" stroke="#f2424f" stroke-width="1.2" fill="none"/>
<rect x="160.29" y="275.44" width="4.62" height="4.62" fill="#f2424f"/>
<rect x="179.19" y="319.56" width="4.62" height="4.62" fill="#f2424f"/>
<rect x="198.09" y="340.9" width="4.62" height="4.62" fill="#f2424f"/>
<line x1="39.2" y1="269.2" x2="50.7" y2="269.2" stroke="#000" stroke-width="2"/>
<circle cx="44.95" cy="269.2" r="2.4" fill="#000"/>
<text x="55.6" y="273" class="l" font-size="8.8">WT</text>
<line x1="39.2" y1="282.4" x2="50.7" y2="282.4" stroke="#f2424f" stroke-width="2"/>
<rect x="42.85" y="280.3" width="4.2" height="4.2" fill="#f2424f"/>
<text x="55.6" y="286.2" class="l" font-size="8.8">D290N</text>
<text x="90" y="286.2" class="l" font-size="8.8">+0.46</text>
<line x1="39.2" y1="295.9" x2="50.7" y2="295.9" stroke="#10bf10" stroke-width="2"/>
<rect x="42.85" y="293.8" width="4.2" height="4.2" fill="#10bf10"/>
<text x="55.6" y="299.7" class="l" font-size="8.8">D290A</text>
<text x="91.6" y="299.7" class="l" font-size="8.8">-0.19</text>
<line x1="39.2" y1="308.8" x2="50.7" y2="308.8" stroke="#0000ff" stroke-width="2"/>
<path d="M44.95 311.6L47.75 306.7L42.15 306.7Z" fill="#0000ff"/>
<text x="55.6" y="312.6" class="l" font-size="8.8">D71N</text>
<text x="91.6" y="312.6" class="l" font-size="8.8">-0.27</text>
<line x1="39.2" y1="322.4" x2="50.7" y2="322.4" stroke="#9a00ee" stroke-width="2"/>
<path d="M44.95 319.6L47.75 324.5L42.15 324.5Z" fill="#9a00ee"/>
<text x="55.6" y="326.2" class="l" font-size="8.8">D71A</text>
<text x="91.6" y="326.2" class="l" font-size="8.8">-0.15</text>
<line x1="39.2" y1="335.5" x2="50.7" y2="335.5" stroke="#c4c000" stroke-width="2"/>
<circle cx="44.95" cy="335.5" r="2.4" fill="#c4c000"/>
<text x="55.6" y="339.3" class="l" font-size="8.8">N286A</text>
<text x="91.6" y="339.3" class="l" font-size="8.8">-0.27</text>
<text x="87.7" y="270.8" font-size="9.2"><tspan font-size="7.6">Δ</tspan>pH<tspan font-size="5.8" dx="1" dy="3.6">50</tspan></text>
<line x1="268.6" y1="269" x2="268.6" y2="456.5" stroke="#000" stroke-width="1.6"/>
<line x1="267.8" y1="455.8" x2="456.3" y2="455.8" stroke="#000" stroke-width="1.6"/>
<line x1="263" y1="441.4" x2="268.6" y2="441.4" stroke="#000" stroke-width="1.5"/>
<text x="259.6" y="444.6" text-anchor="end" class="t">0</text>
<line x1="263" y1="412.74" x2="268.6" y2="412.74" stroke="#000" stroke-width="1.5"/>
<text x="259.6" y="415.94" text-anchor="end" class="t">20</text>
<line x1="263" y1="384.08" x2="268.6" y2="384.08" stroke="#000" stroke-width="1.5"/>
<text x="259.6" y="387.28" text-anchor="end" class="t">40</text>
<line x1="263" y1="355.42" x2="268.6" y2="355.42" stroke="#000" stroke-width="1.5"/>
<text x="259.6" y="358.62" text-anchor="end" class="t">60</text>
<line x1="263" y1="326.76" x2="268.6" y2="326.76" stroke="#000" stroke-width="1.5"/>
<text x="259.6" y="329.96" text-anchor="end" class="t">80</text>
<line x1="263" y1="298.1" x2="268.6" y2="298.1" stroke="#000" stroke-width="1.5"/>
<text x="259.6" y="301.3" text-anchor="end" class="t">100</text>
<line x1="263" y1="269.44" x2="268.6" y2="269.44" stroke="#000" stroke-width="1.5"/>
<text x="259.6" y="272.64" text-anchor="end" class="t">120</text>
<line x1="268.6" y1="455.8" x2="268.6" y2="462" stroke="#000" stroke-width="1.5"/>
<text x="267.7" y="472.6" text-anchor="middle" class="t">-9.5</text>
<line x1="299.75" y1="455.8" x2="299.75" y2="462" stroke="#000" stroke-width="1.5"/>
<text x="298.85" y="472.6" text-anchor="middle" class="t">-9.0</text>
<line x1="330.9" y1="455.8" x2="330.9" y2="462" stroke="#000" stroke-width="1.5"/>
<text x="330" y="472.6" text-anchor="middle" class="t">-8.5</text>
<line x1="362.05" y1="455.8" x2="362.05" y2="462" stroke="#000" stroke-width="1.5"/>
<text x="361.15" y="472.6" text-anchor="middle" class="t">-8.0</text>
<line x1="393.2" y1="455.8" x2="393.2" y2="462" stroke="#000" stroke-width="1.5"/>
<text x="392.3" y="472.6" text-anchor="middle" class="t">-7.5</text>
<line x1="424.35" y1="455.8" x2="424.35" y2="462" stroke="#000" stroke-width="1.5"/>
<text x="423.45" y="472.6" text-anchor="middle" class="t">-7.0</text>
<line x1="455.5" y1="455.8" x2="455.5" y2="462" stroke="#000" stroke-width="1.5"/>
<text x="454.6" y="472.6" text-anchor="middle" class="t">-6.5</text>
<text x="361.3" y="485.1" text-anchor="middle" class="x">log[H<tspan font-size="5.5" dy="-3.9">+</tspan><tspan dy="3.9">]</tspan></text>
<text transform="translate(245.2,355.7) rotate(-90)" text-anchor="middle" class="y">RLU (% of WT)</text>
<line x1="272" y1="441.4" x2="452.4" y2="441.4" stroke="#000" stroke-width="1.6" stroke-dasharray="0 4" stroke-linecap="round"/>
<path d="M281.0 435.2 L281.7 435.1 L282.4 435.0 L283.1 434.9 L283.8 434.7 L284.5 434.6 L285.2 434.4 L285.9 434.3 L286.6 434.1 L287.3 433.9 L288.0 433.7 L288.7 433.5 L289.4 433.3 L290.1 433.1 L290.8 432.8 L291.5 432.5 L292.2 432.3 L292.9 432.0 L293.6 431.6 L294.3 431.3 L295.0 431.0 L295.7 430.6 L296.4 430.2 L297.1 429.7 L297.8 429.3 L298.5 428.8 L299.2 428.3 L299.9 427.8 L300.6 427.2 L301.3 426.6 L302.0 425.9 L302.7 425.3 L303.4 424.5 L304.1 423.8 L304.8 423.0 L305.5 422.1 L306.2 421.2 L306.9 420.3 L307.6 419.3 L308.3 418.2 L309.0 417.1 L309.7 415.9 L310.4 414.7 L311.1 413.4 L311.8 412.1 L312.5 410.7 L313.2 409.2 L313.9 407.7 L314.6 406.1 L315.3 404.4 L316.0 402.7 L316.7 400.9 L317.4 399.1 L318.1 397.2 L318.8 395.3 L319.5 393.3 L320.2 391.3 L320.9 389.3 L321.6 387.3 L322.3 385.2 L323.0 383.2 L323.7 381.1 L324.4 379.1 L325.1 377.1 L325.8 375.2 L326.5 373.3 L327.2 371.4 L327.9 369.6 L328.6 367.9 L329.3 366.2 L330.0 364.7 L330.7 363.2 L331.4 361.8 L332.1 360.4 L332.8 359.2 L333.5 358.0 L334.2 356.9 L334.9 355.9 L335.6 355.0 L336.3 354.1 L337.0 353.3 L337.7 352.6 L338.4 351.9 L339.1 351.3 L339.8 350.8 L340.5 350.3 L341.2 349.8 L341.9 349.4 L342.6 349.0 L343.3 348.7 L344.0 348.4 L344.7 348.1 L345.4 347.9 L346.1 347.6 L346.8 347.4 L347.5 347.3 L348.2 347.1 L348.9 347.0 L349.6 346.8 L350.3 346.7 L351.0 346.6 L351.7 346.5 L352.4 346.4 L353.1 346.3 L353.8 346.3 L354.5 346.2 L355.2 346.2 L355.9 346.1 L356.6 346.1 L357.3 346.0 L358.0 346.0 L358.7 346.0 L359.4 345.9 L360.1 345.9 L360.8 345.9 L361.5 345.9 L362.2 345.8 L362.9 345.8 L363.6 345.8 L364.3 345.8 L365.0 345.8 L365.7 345.8 L366.4 345.8 L367.1 345.8 L367.8 345.8 L368.5 345.8 L369.2 345.7 L369.9 345.7 L370.6 345.7 L371.3 345.7 L372.0 345.7 L372.7 345.7 L373.4 345.7 L374.1 345.7 L374.8 345.7 L375.5 345.7 L376.2 345.7 L376.9 345.7 L377.6 345.7 L378.3 345.7 L379.0 345.7 L379.7 345.7 L380.4 345.7 L381.1 345.7 L381.8 345.7 L382.5 345.7 L383.2 345.7 L383.9 345.7 L384.6 345.7 L385.3 345.7 L386.0 345.7 L386.7 345.7 L387.4 345.7 L388.1 345.7 L388.8 345.7 L389.5 345.7 L390.2 345.7 L390.9 345.7 L391.6 345.7 L392.3 345.7 L393.0 345.7 L393.7 345.7 L394.4 345.7 L395.1 345.7 L395.8 345.7 L396.5 345.7 L397.2 345.7 L397.9 345.7 L398.6 345.7 L399.3 345.7 L400.0 345.7 L400.7 345.7 L401.4 345.7 L402.1 345.7 L402.8 345.7 L403.5 345.7 L404.2 345.7 L404.9 345.7 L405.6 345.7 L406.3 345.7 L407.0 345.7 L407.7 345.7 L408.4 345.7 L409.1 345.7 L409.8 345.7 L410.5 345.7 L411.2 345.7 L411.9 345.7 L412.6 345.7 L413.3 345.7 L414.0 345.7 L414.7 345.7 L415.4 345.7 L416.1 345.7 L416.8 345.7 L417.5 345.7 L418.2 345.7 L418.9 345.7 L419.6 345.7 L420.3 345.7 L421.0 345.7 L421.7 345.7 L422.4 345.7 L423.1 345.7 L423.8 345.7 L424.5 345.7 L425.2 345.7 L425.9 345.7 L426.6 345.7 L427.3 345.7 L428.0 345.7 L428.7 345.7 L429.4 345.7 L430.1 345.7" fill="none" stroke="#12b872" stroke-width="1.8"/>
<rect x="278.54" y="434.15" width="5.04" height="5.04" fill="#12b872"/>
<rect x="297.23" y="421.68" width="5.04" height="5.04" fill="#12b872"/>
<rect x="315.92" y="395.89" width="5.04" height="5.04" fill="#12b872"/>
<rect x="334.61" y="352.9" width="5.04" height="5.04" fill="#12b872"/>
<rect x="353.3" y="335.7" width="5.04" height="5.04" fill="#12b872"/>
<path d="M393.2 338.22V346.82M389.84 338.22H396.56M389.84 346.82H396.56" stroke="#12b872" stroke-width="1.2" fill="none"/>
<rect x="390.68" y="340" width="5.04" height="5.04" fill="#12b872"/>
<path d="M411.89 346.82V358.29M408.53 346.82H415.25M408.53 358.29H415.25" stroke="#12b872" stroke-width="1.2" fill="none"/>
<rect x="409.37" y="350.03" width="5.04" height="5.04" fill="#12b872"/>
<rect x="428.06" y="360.06" width="5.04" height="5.04" fill="#12b872"/>
<path d="M281.0 442.4 L281.7 442.3 L282.4 442.2 L283.1 442.1 L283.8 441.9 L284.5 441.8 L285.2 441.7 L285.9 441.6 L286.6 441.4 L287.3 441.3 L288.0 441.1 L288.7 441.0 L289.4 440.9 L290.1 440.7 L290.8 440.6 L291.5 440.4 L292.2 440.2 L292.9 440.1 L293.6 439.9 L294.3 439.7 L295.0 439.5 L295.7 439.4 L296.4 439.2 L297.1 439.0 L297.8 438.8 L298.5 438.6 L299.2 438.4 L299.9 438.2 L300.6 437.9 L301.3 437.7 L302.0 437.5 L302.7 437.2 L303.4 437.0 L304.1 436.7 L304.8 436.5 L305.5 436.2 L306.2 436.0 L306.9 435.7 L307.6 435.4 L308.3 435.1 L309.0 434.8 L309.7 434.5 L310.4 434.2 L311.1 433.9 L311.8 433.6 L312.5 433.2 L313.2 432.9 L313.9 432.5 L314.6 432.2 L315.3 431.8 L316.0 431.4 L316.7 431.0 L317.4 430.6 L318.1 430.2 L318.8 429.8 L319.5 429.4 L320.2 428.9 L320.9 428.5 L321.6 428.0 L322.3 427.5 L323.0 427.1 L323.7 426.6 L324.4 426.1 L325.1 425.5 L325.8 425.0 L326.5 424.5 L327.2 423.9 L327.9 423.3 L328.6 422.8 L329.3 422.2 L330.0 421.6 L330.7 420.9 L331.4 420.3 L332.1 419.7 L332.8 419.0 L333.5 418.3 L334.2 417.6 L334.9 416.9 L335.6 416.2 L336.3 415.5 L337.0 414.7 L337.7 414.0 L338.4 413.2 L339.1 412.4 L339.8 411.6 L340.5 410.8 L341.2 409.9 L341.9 409.1 L342.6 408.2 L343.3 407.3 L344.0 406.4 L344.7 405.5 L345.4 404.6 L346.1 403.6 L346.8 402.7 L347.5 401.7 L348.2 400.8 L348.9 399.8 L349.6 398.8 L350.3 397.7 L351.0 396.7 L351.7 395.7 L352.4 394.6 L353.1 393.6 L353.8 392.5 L354.5 391.5 L355.2 390.4 L355.9 389.3 L356.6 388.2 L357.3 387.1 L358.0 386.0 L358.7 384.9 L359.4 383.8 L360.1 382.7 L360.8 381.6 L361.5 380.5 L362.2 379.4 L362.9 378.3 L363.6 377.3 L364.3 376.2 L365.0 375.1 L365.7 374.0 L366.4 373.0 L367.1 371.9 L367.8 370.9 L368.5 369.9 L369.2 368.9 L369.9 367.9 L370.6 366.9 L371.3 365.9 L372.0 365.0 L372.7 364.1 L373.4 363.2 L374.1 362.3 L374.8 361.4 L375.5 360.5 L376.2 359.7 L376.9 358.9 L377.6 358.1 L378.3 357.3 L379.0 356.6 L379.7 355.8 L380.4 355.1 L381.1 354.4 L381.8 353.8 L382.5 353.1 L383.2 352.5 L383.9 351.9 L384.6 351.3 L385.3 350.8 L386.0 350.2 L386.7 349.7 L387.4 349.2 L388.1 348.7 L388.8 348.3 L389.5 347.8 L390.2 347.4 L390.9 347.0 L391.6 346.6 L392.3 346.2 L393.0 345.8 L393.7 345.5 L394.4 345.1 L395.1 344.8 L395.8 344.5 L396.5 344.2 L397.2 344.0 L397.9 343.7 L398.6 343.4 L399.3 343.2 L400.0 343.0 L400.7 342.7 L401.4 342.5 L402.1 342.3 L402.8 342.1 L403.5 342.0 L404.2 341.8 L404.9 341.6 L405.6 341.5 L406.3 341.3 L407.0 341.2 L407.7 341.0 L408.4 340.9 L409.1 340.8 L409.8 340.7 L410.5 340.6 L411.2 340.5 L411.9 340.4 L412.6 340.3 L413.3 340.2 L414.0 340.1 L414.7 340.0 L415.4 339.9 L416.1 339.9 L416.8 339.8 L417.5 339.7 L418.2 339.7 L418.9 339.6 L419.6 339.6 L420.3 339.5 L421.0 339.4 L421.7 339.4 L422.4 339.4 L423.1 339.3 L423.8 339.3 L424.5 339.2 L425.2 339.2 L425.9 339.2 L426.6 339.1 L427.3 339.1 L428.0 339.1 L428.7 339.0 L429.4 339.0 L430.1 339.0" fill="none" stroke="#a0a0a0" stroke-width="1.8"/>
<circle cx="281.06" cy="438.53" r="2.88" fill="#a0a0a0"/>
<circle cx="299.75" cy="437.1" r="2.88" fill="#a0a0a0"/>
<circle cx="318.44" cy="432.8" r="2.88" fill="#a0a0a0"/>
<circle cx="337.13" cy="409.87" r="2.88" fill="#a0a0a0"/>
<circle cx="355.82" cy="392.68" r="2.88" fill="#a0a0a0"/>
<circle cx="374.51" cy="362.58" r="2.88" fill="#a0a0a0"/>
<circle cx="411.89" cy="338.22" r="2.88" fill="#a0a0a0"/>
<circle cx="430.58" cy="341.09" r="2.88" fill="#a0a0a0"/>
<path d="M281.0 438.3 L281.7 438.3 L282.4 438.2 L283.1 438.2 L283.8 438.2 L284.5 438.2 L285.2 438.2 L285.9 438.2 L286.6 438.2 L287.3 438.2 L288.0 438.1 L288.7 438.1 L289.4 438.1 L290.1 438.1 L290.8 438.0 L291.5 438.0 L292.2 438.0 L292.9 437.9 L293.6 437.9 L294.3 437.9 L295.0 437.8 L295.7 437.8 L296.4 437.7 L297.1 437.7 L297.8 437.6 L298.5 437.5 L299.2 437.5 L299.9 437.4 L300.6 437.3 L301.3 437.2 L302.0 437.1 L302.7 437.0 L303.4 436.9 L304.1 436.7 L304.8 436.6 L305.5 436.5 L306.2 436.3 L306.9 436.1 L307.6 435.9 L308.3 435.7 L309.0 435.5 L309.7 435.3 L310.4 435.0 L311.1 434.7 L311.8 434.4 L312.5 434.1 L313.2 433.8 L313.9 433.4 L314.6 433.0 L315.3 432.6 L316.0 432.2 L316.7 431.7 L317.4 431.2 L318.1 430.6 L318.8 430.1 L319.5 429.5 L320.2 428.8 L320.9 428.1 L321.6 427.4 L322.3 426.7 L323.0 425.9 L323.7 425.0 L324.4 424.1 L325.1 423.2 L325.8 422.2 L326.5 421.2 L327.2 420.1 L327.9 419.0 L328.6 417.8 L329.3 416.6 L330.0 415.4 L330.7 414.1 L331.4 412.8 L332.1 411.4 L332.8 410.0 L333.5 408.5 L334.2 407.1 L334.9 405.5 L335.6 404.0 L336.3 402.4 L337.0 400.8 L337.7 399.2 L338.4 397.6 L339.1 395.9 L339.8 394.2 L340.5 392.5 L341.2 390.8 L341.9 389.2 L342.6 387.5 L343.3 385.8 L344.0 384.1 L344.7 382.4 L345.4 380.7 L346.1 379.1 L346.8 377.5 L347.5 375.8 L348.2 374.3 L348.9 372.7 L349.6 371.2 L350.3 369.6 L351.0 368.2 L351.7 366.7 L352.4 365.3 L353.1 363.9 L353.8 362.6 L354.5 361.3 L355.2 360.0 L355.9 358.8 L356.6 357.6 L357.3 356.4 L358.0 355.3 L358.7 354.2 L359.4 353.2 L360.1 352.2 L360.8 351.2 L361.5 350.3 L362.2 349.4 L362.9 348.5 L363.6 347.7 L364.3 346.9 L365.0 346.1 L365.7 345.4 L366.4 344.7 L367.1 344.0 L367.8 343.4 L368.5 342.7 L369.2 342.2 L369.9 341.6 L370.6 341.1 L371.3 340.6 L372.0 340.1 L372.7 339.6 L373.4 339.2 L374.1 338.7 L374.8 338.3 L375.5 338.0 L376.2 337.6 L376.9 337.2 L377.6 336.9 L378.3 336.6 L379.0 336.3 L379.7 336.0 L380.4 335.8 L381.1 335.5 L381.8 335.3 L382.5 335.0 L383.2 334.8 L383.9 334.6 L384.6 334.4 L385.3 334.2 L386.0 334.0 L386.7 333.9 L387.4 333.7 L388.1 333.6 L388.8 333.4 L389.5 333.3 L390.2 333.2 L390.9 333.0 L391.6 332.9 L392.3 332.8 L393.0 332.7 L393.7 332.6 L394.4 332.5 L395.1 332.4 L395.8 332.4 L396.5 332.3 L397.2 332.2 L397.9 332.1 L398.6 332.1 L399.3 332.0 L400.0 331.9 L400.7 331.9 L401.4 331.8 L402.1 331.8 L402.8 331.7 L403.5 331.7 L404.2 331.6 L404.9 331.6 L405.6 331.6 L406.3 331.5 L407.0 331.5 L407.7 331.5 L408.4 331.4 L409.1 331.4 L409.8 331.4 L410.5 331.3 L411.2 331.3 L411.9 331.3 L412.6 331.3 L413.3 331.3 L414.0 331.2 L414.7 331.2 L415.4 331.2 L416.1 331.2 L416.8 331.2 L417.5 331.1 L418.2 331.1 L418.9 331.1 L419.6 331.1 L420.3 331.1 L421.0 331.1 L421.7 331.1 L422.4 331.1 L423.1 331.1 L423.8 331.0 L424.5 331.0 L425.2 331.0 L425.9 331.0 L426.6 331.0 L427.3 331.0 L428.0 331.0 L428.7 331.0 L429.4 331.0 L430.1 331.0" fill="none" stroke="#f25590" stroke-width="1.8"/>
<path d="M318.44 428.01L321.8 433.89L315.08 433.89Z" fill="#f25590"/>
<path d="M337.13 399.35L340.49 405.23L333.77 405.23Z" fill="#f25590"/>
<path d="M355.82 360.08L359.18 365.96L352.46 365.96Z" fill="#f25590"/>
<path d="M374.51 333.43L377.87 339.31L371.15 339.31Z" fill="#f25590"/>
<path d="M393.2 321.97L396.56 327.85L389.84 327.85Z" fill="#f25590"/>
<path d="M411.89 323.4L415.25 329.28L408.53 329.28Z" fill="#f25590"/>
<path d="M430.58 339.16L433.94 345.04L427.22 345.04Z" fill="#f25590"/>
<path d="M281.0 436.2 L281.7 436.2 L282.4 436.2 L283.1 436.2 L283.8 436.2 L284.5 436.2 L285.2 436.2 L285.9 436.2 L286.6 436.2 L287.3 436.2 L288.0 436.2 L288.7 436.2 L289.4 436.2 L290.1 436.2 L290.8 436.2 L291.5 436.2 L292.2 436.2 L292.9 436.2 L293.6 436.2 L294.3 436.2 L295.0 436.2 L295.7 436.2 L296.4 436.2 L297.1 436.2 L297.8 436.2 L298.5 436.2 L299.2 436.1 L299.9 436.1 L300.6 436.1 L301.3 436.1 L302.0 436.1 L302.7 436.1 L303.4 436.1 L304.1 436.1 L304.8 436.0 L305.5 436.0 L306.2 436.0 L306.9 436.0 L307.6 436.0 L308.3 435.9 L309.0 435.9 L309.7 435.9 L310.4 435.8 L311.1 435.8 L311.8 435.8 L312.5 435.7 L313.2 435.7 L313.9 435.6 L314.6 435.6 L315.3 435.5 L316.0 435.5 L316.7 435.4 L317.4 435.3 L318.1 435.2 L318.8 435.1 L319.5 435.0 L320.2 434.9 L320.9 434.8 L321.6 434.7 L322.3 434.6 L323.0 434.4 L323.7 434.3 L324.4 434.1 L325.1 433.9 L325.8 433.7 L326.5 433.5 L327.2 433.3 L327.9 433.0 L328.6 432.8 L329.3 432.5 L330.0 432.1 L330.7 431.8 L331.4 431.4 L332.1 431.0 L332.8 430.6 L333.5 430.1 L334.2 429.6 L334.9 429.0 L335.6 428.4 L336.3 427.7 L337.0 427.0 L337.7 426.2 L338.4 425.4 L339.1 424.5 L339.8 423.5 L340.5 422.4 L341.2 421.3 L341.9 420.0 L342.6 418.7 L343.3 417.3 L344.0 415.8 L344.7 414.1 L345.4 412.4 L346.1 410.5 L346.8 408.4 L347.5 406.3 L348.2 404.0 L348.9 401.6 L349.6 399.0 L350.3 396.3 L351.0 393.5 L351.7 390.5 L352.4 387.3 L353.1 384.1 L353.8 380.7 L354.5 377.2 L355.2 373.7 L355.9 370.0 L356.6 366.3 L357.3 362.6 L358.0 358.9 L358.7 355.1 L359.4 351.4 L360.1 347.8 L360.8 344.2 L361.5 340.8 L362.2 337.4 L362.9 334.2 L363.6 331.1 L364.3 328.2 L365.0 325.5 L365.7 322.9 L366.4 320.5 L367.1 318.3 L367.8 316.2 L368.5 314.3 L369.2 312.6 L369.9 311.0 L370.6 309.6 L371.3 308.2 L372.0 307.1 L372.7 306.0 L373.4 305.0 L374.1 304.1 L374.8 303.4 L375.5 302.7 L376.2 302.0 L376.9 301.5 L377.6 301.0 L378.3 300.6 L379.0 300.2 L379.7 299.8 L380.4 299.5 L381.1 299.2 L381.8 299.0 L382.5 298.8 L383.2 298.6 L383.9 298.4 L384.6 298.2 L385.3 298.1 L386.0 298.0 L386.7 297.9 L387.4 297.8 L388.1 297.7 L388.8 297.6 L389.5 297.6 L390.2 297.5 L390.9 297.5 L391.6 297.4 L392.3 297.4 L393.0 297.4 L393.7 297.3 L394.4 297.3 L395.1 297.3 L395.8 297.3 L396.5 297.2 L397.2 297.2 L397.9 297.2 L398.6 297.2 L399.3 297.2 L400.0 297.2 L400.7 297.2 L401.4 297.2 L402.1 297.1 L402.8 297.1 L403.5 297.1 L404.2 297.1 L404.9 297.1 L405.6 297.1 L406.3 297.1 L407.0 297.1 L407.7 297.1 L408.4 297.1 L409.1 297.1 L409.8 297.1 L410.5 297.1 L411.2 297.1 L411.9 297.1 L412.6 297.1 L413.3 297.1 L414.0 297.1 L414.7 297.1 L415.4 297.1 L416.1 297.1 L416.8 297.1 L417.5 297.1 L418.2 297.1 L418.9 297.1 L419.6 297.1 L420.3 297.1 L421.0 297.1 L421.7 297.1 L422.4 297.1 L423.1 297.1 L423.8 297.1 L424.5 297.1 L425.2 297.1 L425.9 297.1 L426.6 297.1 L427.3 297.1 L428.0 297.1 L428.7 297.1 L429.4 297.1 L430.1 297.1" fill="none" stroke="#ff9a35" stroke-width="1.8"/>
<path d="M337.13 413.68L340.49 419.56L333.77 419.56Z" fill="#ff9a35"/>
<path d="M355.82 369.26L359.18 375.14L352.46 375.14Z" fill="#ff9a35"/>
<path d="M374.51 293.31L377.87 299.19L371.15 299.19Z" fill="#ff9a35"/>
<path d="M393.2 279.47V290.94M389.84 279.47H396.56M389.84 290.94H396.56" stroke="#ff9a35" stroke-width="1.2" fill="none"/>
<path d="M393.2 281.84L396.56 287.72L389.84 287.72Z" fill="#ff9a35"/>
<path d="M411.89 294.74L415.25 300.62L408.53 300.62Z" fill="#ff9a35"/>
<path d="M430.58 293.31L433.94 299.19L427.22 299.19Z" fill="#ff9a35"/>
<path d="M281.0 437.3 L281.7 437.3 L282.4 437.2 L283.1 437.2 L283.8 437.2 L284.5 437.2 L285.2 437.2 L285.9 437.2 L286.6 437.2 L287.3 437.1 L288.0 437.1 L288.7 437.1 L289.4 437.1 L290.1 437.1 L290.8 437.0 L291.5 437.0 L292.2 437.0 L292.9 436.9 L293.6 436.9 L294.3 436.9 L295.0 436.8 L295.7 436.8 L296.4 436.7 L297.1 436.7 L297.8 436.6 L298.5 436.5 L299.2 436.4 L299.9 436.4 L300.6 436.3 L301.3 436.2 L302.0 436.1 L302.7 435.9 L303.4 435.8 L304.1 435.7 L304.8 435.5 L305.5 435.4 L306.2 435.2 L306.9 435.0 L307.6 434.8 L308.3 434.6 L309.0 434.3 L309.7 434.0 L310.4 433.7 L311.1 433.4 L311.8 433.1 L312.5 432.7 L313.2 432.3 L313.9 431.9 L314.6 431.4 L315.3 430.9 L316.0 430.3 L316.7 429.7 L317.4 429.1 L318.1 428.4 L318.8 427.7 L319.5 426.9 L320.2 426.0 L320.9 425.1 L321.6 424.1 L322.3 423.0 L323.0 421.9 L323.7 420.7 L324.4 419.4 L325.1 418.1 L325.8 416.7 L326.5 415.1 L327.2 413.5 L327.9 411.8 L328.6 410.1 L329.3 408.2 L330.0 406.2 L330.7 404.2 L331.4 402.1 L332.1 399.9 L332.8 397.6 L333.5 395.2 L334.2 392.8 L334.9 390.3 L335.6 387.8 L336.3 385.1 L337.0 382.5 L337.7 379.8 L338.4 377.1 L339.1 374.3 L339.8 371.6 L340.5 368.8 L341.2 366.0 L341.9 363.3 L342.6 360.5 L343.3 357.8 L344.0 355.1 L344.7 352.5 L345.4 349.9 L346.1 347.4 L346.8 344.9 L347.5 342.5 L348.2 340.2 L348.9 338.0 L349.6 335.8 L350.3 333.7 L351.0 331.7 L351.7 329.7 L352.4 327.9 L353.1 326.1 L353.8 324.4 L354.5 322.8 L355.2 321.3 L355.9 319.8 L356.6 318.4 L357.3 317.1 L358.0 315.9 L358.7 314.7 L359.4 313.6 L360.1 312.6 L360.8 311.6 L361.5 310.7 L362.2 309.9 L362.9 309.1 L363.6 308.3 L364.3 307.6 L365.0 306.9 L365.7 306.3 L366.4 305.7 L367.1 305.2 L367.8 304.7 L368.5 304.2 L369.2 303.8 L369.9 303.4 L370.6 303.0 L371.3 302.7 L372.0 302.3 L372.7 302.0 L373.4 301.7 L374.1 301.5 L374.8 301.2 L375.5 301.0 L376.2 300.8 L376.9 300.6 L377.6 300.4 L378.3 300.2 L379.0 300.1 L379.7 299.9 L380.4 299.8 L381.1 299.6 L381.8 299.5 L382.5 299.4 L383.2 299.3 L383.9 299.2 L384.6 299.1 L385.3 299.1 L386.0 299.0 L386.7 298.9 L387.4 298.8 L388.1 298.8 L388.8 298.7 L389.5 298.7 L390.2 298.6 L390.9 298.6 L391.6 298.5 L392.3 298.5 L393.0 298.5 L393.7 298.4 L394.4 298.4 L395.1 298.4 L395.8 298.4 L396.5 298.3 L397.2 298.3 L397.9 298.3 L398.6 298.3 L399.3 298.2 L400.0 298.2 L400.7 298.2 L401.4 298.2 L402.1 298.2 L402.8 298.2 L403.5 298.2 L404.2 298.2 L404.9 298.1 L405.6 298.1 L406.3 298.1 L407.0 298.1 L407.7 298.1 L408.4 298.1 L409.1 298.1 L409.8 298.1 L410.5 298.1 L411.2 298.1 L411.9 298.1 L412.6 298.1 L413.3 298.1 L414.0 298.1 L414.7 298.1 L415.4 298.1 L416.1 298.1 L416.8 298.1 L417.5 298.1 L418.2 298.0 L418.9 298.0 L419.6 298.0 L420.3 298.0 L421.0 298.0 L421.7 298.0 L422.4 298.0 L423.1 298.0 L423.8 298.0 L424.5 298.0 L425.2 298.0 L425.9 298.0 L426.6 298.0 L427.3 298.0 L428.0 298.0 L428.7 298.0 L429.4 298.0 L430.1 298.0" fill="none" stroke="#4a94f5" stroke-width="1.8"/>
<path d="M281.06 440.46L284.42 434.58L277.7 434.58Z" fill="#4a94f5"/>
<path d="M299.75 439.03L303.11 433.15L296.39 433.15Z" fill="#4a94f5"/>
<path d="M318.44 429L321.8 423.12L315.08 423.12Z" fill="#4a94f5"/>
<path d="M337.13 386.58L340.49 380.7L333.77 380.7Z" fill="#4a94f5"/>
<path d="M355.82 312.43V323.89M352.46 312.43H359.18M352.46 323.89H359.18" stroke="#4a94f5" stroke-width="1.2" fill="none"/>
<path d="M355.82 321.52L359.18 315.64L352.46 315.64Z" fill="#4a94f5"/>
<path d="M374.51 296.67V305.26M371.15 296.67H377.87M371.15 305.26H377.87" stroke="#4a94f5" stroke-width="1.2" fill="none"/>
<path d="M374.51 304.33L377.87 298.45L371.15 298.45Z" fill="#4a94f5"/>
<path d="M393.2 300.03L396.56 294.15L389.84 294.15Z" fill="#4a94f5"/>
<path d="M411.89 297.16L415.25 291.28L408.53 291.28Z" fill="#4a94f5"/>
<path d="M430.58 293.8V305.26M427.22 293.8H433.94M427.22 305.26H433.94" stroke="#4a94f5" stroke-width="1.2" fill="none"/>
<path d="M430.58 302.89L433.94 297.01L427.22 297.01Z" fill="#4a94f5"/>
<path d="M281.0 440.6 L281.7 440.6 L282.4 440.6 L283.1 440.5 L283.8 440.5 L284.5 440.5 L285.2 440.5 L285.9 440.4 L286.6 440.4 L287.3 440.4 L288.0 440.4 L288.7 440.3 L289.4 440.3 L290.1 440.3 L290.8 440.2 L291.5 440.2 L292.2 440.2 L292.9 440.1 L293.6 440.1 L294.3 440.0 L295.0 440.0 L295.7 439.9 L296.4 439.9 L297.1 439.8 L297.8 439.8 L298.5 439.7 L299.2 439.6 L299.9 439.6 L300.6 439.5 L301.3 439.4 L302.0 439.4 L302.7 439.3 L303.4 439.2 L304.1 439.1 L304.8 439.0 L305.5 438.9 L306.2 438.8 L306.9 438.7 L307.6 438.6 L308.3 438.5 L309.0 438.4 L309.7 438.3 L310.4 438.2 L311.1 438.0 L311.8 437.9 L312.5 437.7 L313.2 437.6 L313.9 437.4 L314.6 437.2 L315.3 437.1 L316.0 436.9 L316.7 436.7 L317.4 436.5 L318.1 436.3 L318.8 436.0 L319.5 435.8 L320.2 435.6 L320.9 435.3 L321.6 435.0 L322.3 434.8 L323.0 434.5 L323.7 434.2 L324.4 433.8 L325.1 433.5 L325.8 433.1 L326.5 432.8 L327.2 432.4 L327.9 432.0 L328.6 431.6 L329.3 431.1 L330.0 430.6 L330.7 430.2 L331.4 429.7 L332.1 429.1 L332.8 428.6 L333.5 428.0 L334.2 427.4 L334.9 426.7 L335.6 426.1 L336.3 425.4 L337.0 424.7 L337.7 423.9 L338.4 423.1 L339.1 422.3 L339.8 421.4 L340.5 420.5 L341.2 419.6 L341.9 418.6 L342.6 417.6 L343.3 416.5 L344.0 415.4 L344.7 414.3 L345.4 413.1 L346.1 411.8 L346.8 410.5 L347.5 409.2 L348.2 407.8 L348.9 406.3 L349.6 404.8 L350.3 403.3 L351.0 401.7 L351.7 400.0 L352.4 398.3 L353.1 396.5 L353.8 394.7 L354.5 392.8 L355.2 390.8 L355.9 388.8 L356.6 386.8 L357.3 384.7 L358.0 382.6 L358.7 380.4 L359.4 378.2 L360.1 375.9 L360.8 373.6 L361.5 371.3 L362.2 369.0 L362.9 366.6 L363.6 364.3 L364.3 361.9 L365.0 359.5 L365.7 357.1 L366.4 354.8 L367.1 352.4 L367.8 350.1 L368.5 347.8 L369.2 345.6 L369.9 343.4 L370.6 341.2 L371.3 339.1 L372.0 337.0 L372.7 335.0 L373.4 333.1 L374.1 331.2 L374.8 329.4 L375.5 327.6 L376.2 326.0 L376.9 324.4 L377.6 322.9 L378.3 321.4 L379.0 320.0 L379.7 318.7 L380.4 317.5 L381.1 316.3 L381.8 315.2 L382.5 314.2 L383.2 313.2 L383.9 312.3 L384.6 311.4 L385.3 310.6 L386.0 309.9 L386.7 309.2 L387.4 308.5 L388.1 307.9 L388.8 307.4 L389.5 306.9 L390.2 306.4 L390.9 305.9 L391.6 305.5 L392.3 305.1 L393.0 304.7 L393.7 304.4 L394.4 304.1 L395.1 303.8 L395.8 303.5 L396.5 303.3 L397.2 303.1 L397.9 302.9 L398.6 302.7 L399.3 302.5 L400.0 302.3 L400.7 302.2 L401.4 302.1 L402.1 301.9 L402.8 301.8 L403.5 301.7 L404.2 301.6 L404.9 301.5 L405.6 301.4 L406.3 301.3 L407.0 301.3 L407.7 301.2 L408.4 301.1 L409.1 301.1 L409.8 301.0 L410.5 301.0 L411.2 300.9 L411.9 300.9 L412.6 300.9 L413.3 300.8 L414.0 300.8 L414.7 300.8 L415.4 300.8 L416.1 300.7 L416.8 300.7 L417.5 300.7 L418.2 300.7 L418.9 300.6 L419.6 300.6 L420.3 300.6 L421.0 300.6 L421.7 300.6 L422.4 300.6 L423.1 300.6 L423.8 300.6 L424.5 300.6 L425.2 300.5 L425.9 300.5 L426.6 300.5 L427.3 300.5 L428.0 300.5 L428.7 300.5 L429.4 300.5 L430.1 300.5" fill="none" stroke="#000" stroke-width="1.8"/>
<circle cx="281.06" cy="441.4" r="2.88" fill="#000"/>
<circle cx="299.75" cy="439.97" r="2.88" fill="#000"/>
<circle cx="318.44" cy="435.67" r="2.88" fill="#000"/>
<circle cx="337.13" cy="424.2" r="2.88" fill="#000"/>
<circle cx="355.82" cy="387.66" r="2.88" fill="#000"/>
<circle cx="374.51" cy="329.63" r="2.88" fill="#000"/>
<path d="M393.2 289.5V300.97M389.84 289.5H396.56M389.84 300.97H396.56" stroke="#000" stroke-width="1.2" fill="none"/>
<circle cx="393.2" cy="295.23" r="2.88" fill="#000"/>
<circle cx="411.89" cy="296.67" r="2.88" fill="#000"/>
<path d="M430.58 305.26V316.73M427.22 305.26H433.94M427.22 316.73H433.94" stroke="#000" stroke-width="1.2" fill="none"/>
<circle cx="430.58" cy="311" r="2.88" fill="#000"/>
<line x1="270.6" y1="262.8" x2="284.5" y2="262.8" stroke="#000" stroke-width="2"/>
<circle cx="277.55" cy="262.8" r="2.88" fill="#000"/>
<text x="286.6" y="266.4" class="l" font-size="9.0">WT</text>
<line x1="270.6" y1="277.3" x2="284.5" y2="277.3" stroke="#4a94f5" stroke-width="2"/>
<path d="M277.55 280.66L280.91 274.78L274.19 274.78Z" fill="#4a94f5"/>
<text x="286.6" y="280.9" class="l" font-size="9.0">Y106F</text>
<text x="319.2" y="280.9" class="l" font-size="9.0">+0.32</text>
<line x1="270.6" y1="289.5" x2="284.5" y2="289.5" stroke="#a0a0a0" stroke-width="2"/>
<circle cx="277.55" cy="289.5" r="2.88" fill="#a0a0a0"/>
<text x="286.6" y="293.1" class="l" font-size="9.0">Y110F</text>
<text x="319.2" y="293.1" class="l" font-size="9.0">+0.1</text>
<line x1="270.6" y1="304.7" x2="284.5" y2="304.7" stroke="#f25590" stroke-width="2"/>
<path d="M277.55 301.34L280.91 307.22L274.19 307.22Z" fill="#f25590"/>
<text x="286.6" y="308.3" class="l" font-size="9.0">Y248F</text>
<text x="320.2" y="308.3" class="l" font-size="9.0">+0.26</text>
<line x1="270.6" y1="318.6" x2="284.5" y2="318.6" stroke="#ff9a35" stroke-width="2"/>
<path d="M277.55 315.24L280.91 321.12L274.19 321.12Z" fill="#ff9a35"/>
<text x="286.6" y="322.2" class="l" font-size="9.0">Y276F</text>
<text x="320.2" y="322.2" class="l" font-size="9.0">+0.07</text>
<line x1="270.6" y1="332.5" x2="284.5" y2="332.5" stroke="#12b872" stroke-width="2"/>
<rect x="275.03" y="329.98" width="5.04" height="5.04" fill="#12b872"/>
<text x="286.6" y="336.1" class="l" font-size="9.0">Y276C</text>
<text x="320.2" y="336.1" class="l" font-size="9.0">+0.64</text>
<text x="318.7" y="264.8" font-size="9.2"><tspan font-size="7.6">Δ</tspan>pH<tspan font-size="5.8" dx="1" dy="3.6">50</tspan></text>
<text x="2.2" y="17.3" class="p">a</text>
<text x="227.6" y="13" class="p">b</text>
<text x="461.6" y="12.4" class="p">c</text>
<text x="-0.7" y="252.9" class="p">d</text>
<text x="232.9" y="254" class="p">e</text>
<text x="483" y="258.3" class="p">f</text>
<rect x="479.1" y="240.4" width="205.2" height="241.5" fill="none" stroke="#35aee8" stroke-width="1.6"/>
</svg></body></html>
